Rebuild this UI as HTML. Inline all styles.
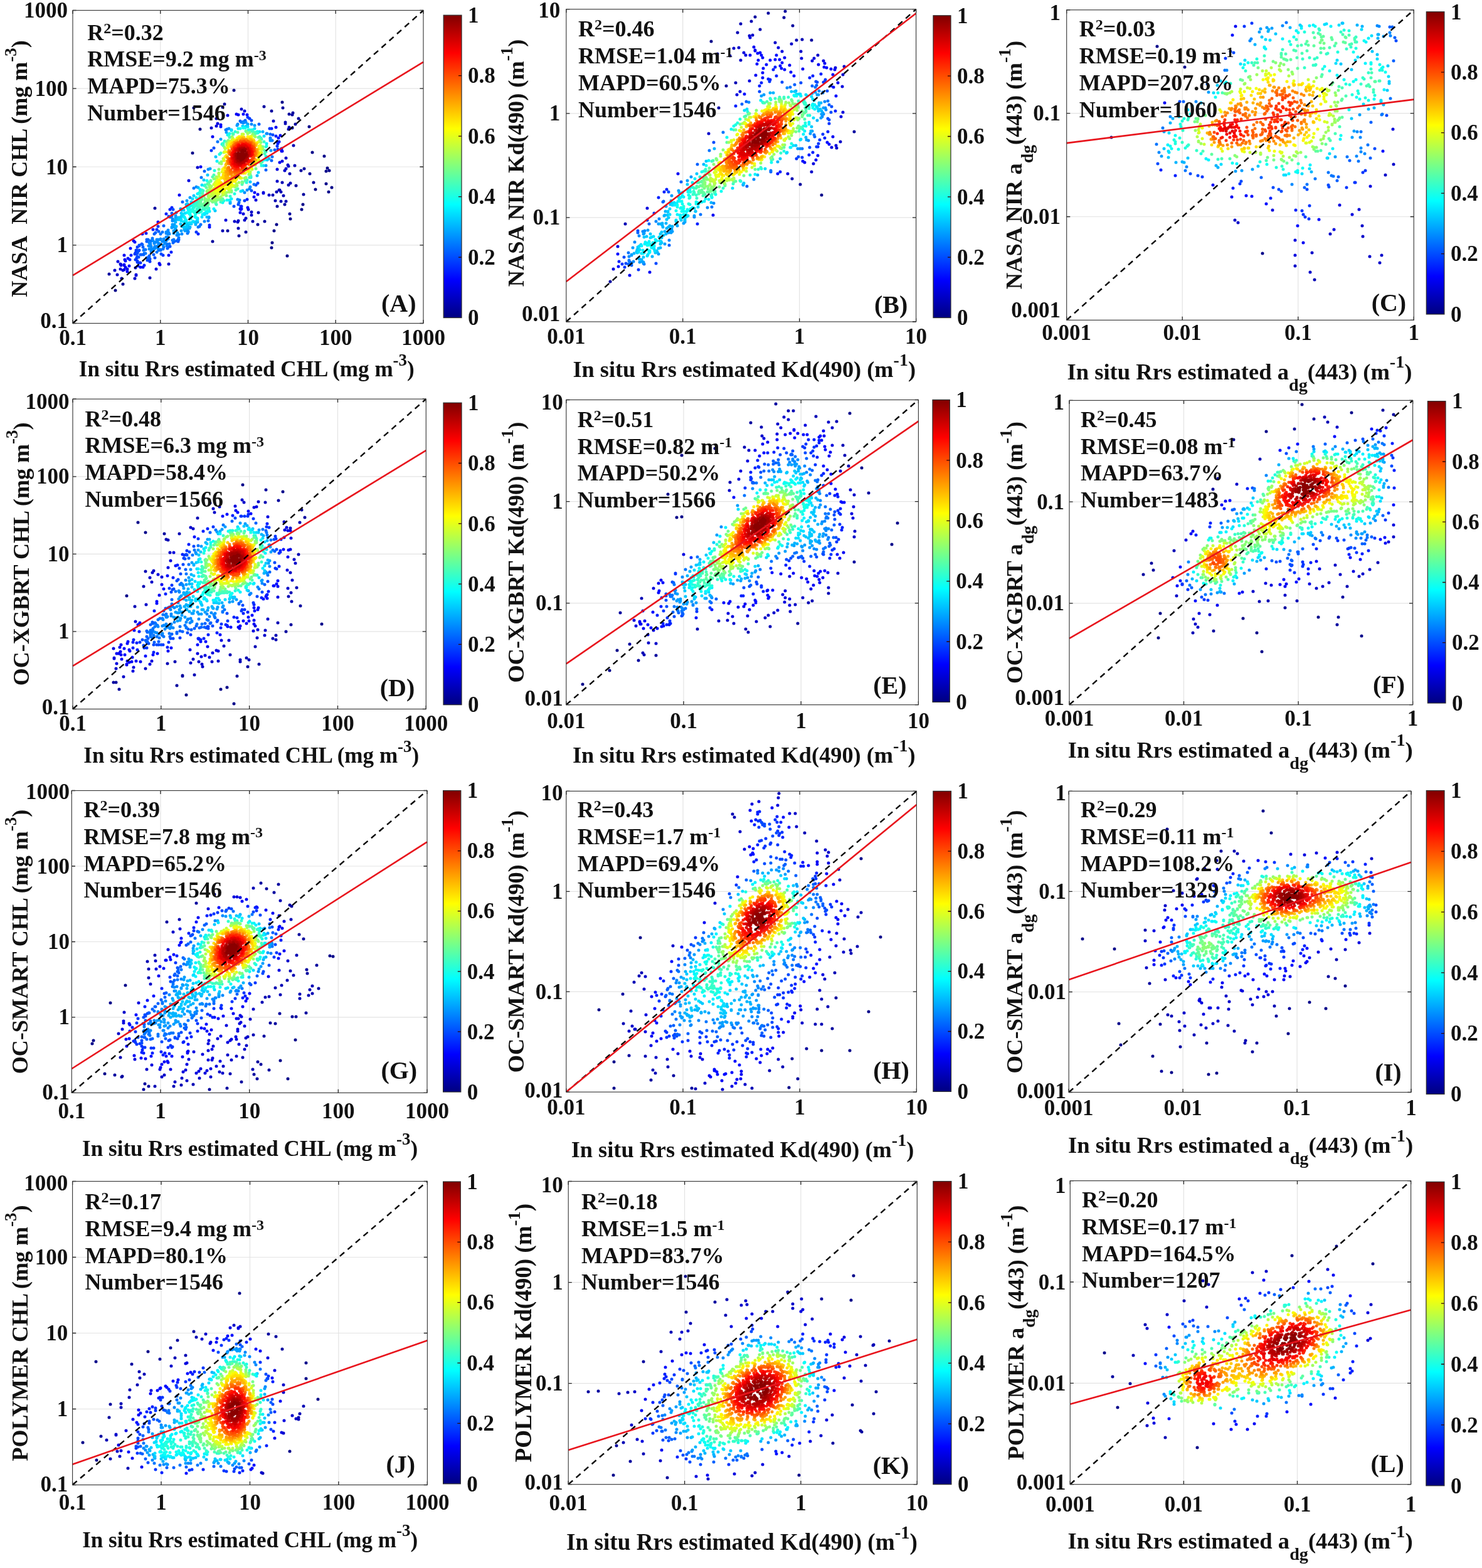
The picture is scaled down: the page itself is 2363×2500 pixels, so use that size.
<!DOCTYPE html><html><head><meta charset="utf-8"><title>Figure</title><style>html,body{margin:0;padding:0;background:#fff;overflow:hidden}svg{display:block}</style></head><body>
<svg width="2363" height="2500" viewBox="0 0 2363 2500" font-family="'Liberation Serif','Times New Roman',serif" font-weight="bold" fill="#111">
<defs><linearGradient id="jet" x1="0" y1="1" x2="0" y2="0"><stop offset="0" stop-color="#000080"/><stop offset="0.125" stop-color="#0000ff"/><stop offset="0.375" stop-color="#00ffff"/><stop offset="0.625" stop-color="#ffff00"/><stop offset="0.875" stop-color="#ff0000"/><stop offset="1" stop-color="#800000"/></linearGradient></defs>
<rect width="2363" height="2500" fill="#fff"/>
<g id="pA">
<path d="M255.8 16.5V515.5M116.0 390.8H675.0M395.5 16.5V515.5M116.0 266.0H675.0M535.2 16.5V515.5M116.0 141.2H675.0" stroke="#e3e3e3" stroke-width="1.2" fill="none"/>
<g fill="none" stroke-width="5.0" stroke-linecap="round"><path stroke="#00008a" d="M309 172h0M458 408h0M373 144h0M433 395h0M434 387h0M517 249h0M498 243h0M493 202h0M524 306h0M529 299h0M307 244h0M437 368h0M184 463h0M481 334h0M463 349h0M450 163h0M525 272h0M522 268h0M441 358h0M483 326h0M503 302h0M520 273h0M520 293h0M319 206h0"/><path stroke="#00009f" d="M462 341h0M484 310h0M500 291h0M494 277h0M381 376h0M358 166h0M339 385h0M451 172h0M485 269h0M422 353h0M476 189h0M421 170h0M467 180h0M392 370h0M355 171h0M480 272h0M466 183h0M411 358h0M174 437h0M472 296h0M461 182h0M433 177h0M363 368h0M471 198h0M454 326h0M196 453h0M247 332h0M442 329h0"/><path stroke="#0000b5" d="M456 321h0M355 368h0M468 232h0M239 443h0M470 264h0M463 292h0M380 364h0M466 204h0M448 321h0M460 295h0M403 353h0M439 320h0M452 312h0M462 277h0M412 339h0M461 203h0M448 306h0M345 189h0M455 195h0M450 291h0M446 303h0M445 303h0M441 306h0M460 206h0M435 311h0M455 197h0M194 444h0"/><path stroke="#0000ca" d="M460 265h0M183 431h0M459 263h0M187 438h0M456 269h0M442 289h0M429 311h0M454 272h0M379 354h0M269 421h0M215 444h0M337 204h0M401 343h0M390 351h0M374 353h0M380 352h0M385 174h0M392 348h0M401 338h0M456 252h0M436 193h0M315 267h0"/><path stroke="#0000df" d="M188 417h0M249 429h0M217 439h0M420 307h0M420 308h0M363 184h0M217 438h0M192 429h0M347 197h0M390 177h0M345 201h0M192 421h0M301 288h0M450 257h0M196 431h0M193 423h0M388 341h0M360 351h0M408 319h0M193 422h0M396 334h0M442 270h0M198 430h0"/><path stroke="#0000f4" d="M203 433h0M255 422h0M440 203h0M320 266h0M395 331h0M377 182h0M411 310h0M198 407h0M198 423h0M213 384h0M446 259h0M203 429h0M383 339h0M447 216h0M198 422h0M200 426h0M450 241h0M352 199h0M254 420h0M339 218h0M380 183h0M199 414h0M449 241h0M286 311h0M449 237h0"/><path stroke="#000bff" d="M388 182h0M200 416h0M405 314h0M448 238h0M384 334h0M227 373h0M385 333h0M394 183h0M206 424h0M215 386h0M208 396h0M216 427h0M252 354h0M228 426h0M204 412h0M224 426h0M269 407h0M334 362h0M352 202h0M383 333h0M444 220h0M406 307h0M445 226h0"/><path stroke="#0020ff" d="M220 424h0M433 205h0M230 423h0M273 402h0M207 414h0M233 372h0M385 329h0M316 373h0M334 359h0M265 341h0M384 329h0M209 407h0M440 217h0M394 318h0M443 229h0M271 334h0M274 331h0M244 366h0M442 226h0"/><path stroke="#0035ff" d="M430 205h0M443 238h0M337 240h0M395 187h0M221 419h0M223 419h0M224 419h0M252 361h0M219 418h0M239 417h0M216 414h0M442 233h0M390 320h0M260 407h0M219 416h0M398 189h0M216 403h0M215 405h0M219 394h0M217 399h0M313 370h0M216 405h0M250 366h0M218 411h0M218 399h0"/><path stroke="#004aff" d="M435 215h0M411 292h0M235 415h0M222 392h0M380 326h0M222 391h0M219 409h0M276 334h0M401 304h0M219 404h0M408 295h0M247 411h0M221 410h0M239 413h0M226 389h0M220 401h0M257 405h0M269 345h0M284 385h0M401 192h0M221 400h0M373 329h0M222 399h0M284 384h0M271 393h0M341 236h0"/><path stroke="#0060ff" d="M234 411h0M238 411h0M381 323h0M326 273h0M234 382h0M224 406h0M261 360h0M248 371h0M246 373h0M227 390h0M237 410h0M274 340h0M438 239h0M285 382h0M391 192h0M285 382h0M226 406h0M267 396h0M282 384h0M253 369h0M431 214h0M284 382h0M236 382h0M413 198h0M271 346h0M271 346h0M433 256h0M234 385h0M268 394h0M238 408h0M383 193h0M278 385h0M229 406h0M276 387h0M228 394h0M245 406h0M424 271h0M291 322h0M230 404h0"/><path stroke="#0075ff" d="M232 404h0M273 345h0M229 399h0M270 389h0M274 344h0M285 379h0M318 361h0M332 352h0M405 294h0M260 397h0M382 319h0M230 398h0M266 392h0M256 399h0M316 362h0M309 300h0M321 283h0M277 382h0M243 380h0M259 370h0M232 398h0M434 250h0M250 402h0M299 372h0M388 194h0M434 224h0M275 383h0M259 370h0M347 226h0M239 384h0M398 301h0M362 206h0M385 195h0M256 398h0M256 373h0M243 382h0M261 394h0M253 399h0M300 370h0M360 207h0M238 387h0M431 220h0M320 358h0M240 385h0M266 389h0M241 401h0"/><path stroke="#008aff" d="M239 388h0M243 400h0M300 369h0M332 270h0M392 195h0M432 224h0M242 399h0M237 392h0M238 397h0M244 384h0M265 370h0M263 388h0M240 389h0M260 391h0M426 213h0M275 349h0M300 369h0M290 373h0M282 375h0M245 398h0M265 372h0M285 374h0M268 367h0M394 303h0M265 384h0M252 396h0M242 397h0M281 339h0M399 298h0M268 381h0M388 196h0M265 384h0M326 353h0M431 222h0M241 393h0M365 205h0M250 382h0M333 347h0M379 318h0M250 383h0M250 383h0M247 396h0M267 378h0M252 382h0M262 385h0M268 373h0M313 298h0M246 395h0M247 395h0M265 378h0M379 198h0M256 381h0M269 371h0M275 352h0M390 307h0M261 381h0M248 386h0M246 388h0M270 373h0M299 368h0M249 393h0M247 393h0M431 224h0M259 385h0M255 382h0M425 213h0M252 392h0M254 390h0M251 385h0M251 385h0M255 389h0M250 386h0M401 198h0M253 390h0M253 388h0"/><path stroke="#009fff" d="M277 372h0M406 200h0M283 371h0M295 368h0M274 362h0M274 363h0M275 358h0M288 333h0M335 269h0M280 344h0M298 320h0M378 200h0M333 346h0M277 368h0M280 347h0M352 222h0M303 315h0M279 367h0M289 368h0M302 364h0M278 352h0M301 364h0M367 324h0M278 362h0M361 211h0M424 264h0M280 349h0M278 358h0M280 365h0M294 366h0M298 365h0M395 198h0M278 359h0M432 240h0"/><path stroke="#00b5ff" d="M303 362h0M312 358h0M330 346h0M429 253h0M312 357h0M280 361h0M419 210h0M290 335h0M281 361h0M280 354h0M300 363h0M294 364h0M315 354h0M281 350h0M296 364h0M297 326h0M367 322h0M410 280h0M316 299h0M300 361h0M284 347h0M293 362h0M284 350h0"/><path stroke="#00caff" d="M344 250h0M293 362h0M387 304h0M299 325h0M298 361h0M343 336h0M294 362h0M285 349h0M290 361h0M286 347h0M325 287h0M289 340h0M331 279h0M426 255h0M286 350h0M369 207h0M293 335h0M305 357h0M309 312h0M314 352h0M387 201h0M287 349h0M287 349h0M399 290h0M393 201h0M288 357h0M288 347h0M310 354h0M301 357h0M289 345h0M298 357h0M291 342h0M298 329h0"/><path stroke="#00dfff" d="M291 341h0M295 357h0M289 352h0M289 350h0M305 355h0M315 350h0M302 355h0M395 202h0M384 305h0M322 346h0M420 264h0M308 353h0M291 345h0M369 208h0M296 355h0M293 354h0M307 317h0M414 210h0M412 275h0M299 331h0M389 202h0M297 354h0M406 205h0M294 353h0M322 295h0M421 217h0M330 340h0M305 322h0M326 342h0M315 348h0M293 345h0M295 340h0"/><path stroke="#00f4ff" d="M297 351h0M294 346h0M295 348h0M369 317h0M366 319h0M301 331h0M334 337h0M303 328h0M298 339h0M313 347h0M300 334h0M363 215h0M341 333h0M304 349h0M302 330h0M319 302h0M323 342h0M425 229h0M303 348h0M315 309h0M346 257h0M326 340h0M311 346h0M411 210h0M380 205h0M329 338h0"/><path stroke="#0bfff4" d="M302 333h0M301 338h0M410 210h0M383 205h0M388 204h0M304 344h0M303 335h0M311 344h0M333 335h0M302 341h0M330 337h0M391 204h0M366 213h0M354 230h0M306 328h0M303 339h0M303 340h0M422 255h0M313 315h0M362 319h0M317 308h0M330 288h0M355 323h0M402 207h0M318 308h0M309 324h0M312 341h0"/><path stroke="#20ffdf" d="M417 264h0M425 233h0M319 306h0M424 249h0M308 329h0M411 212h0M307 337h0M307 333h0M311 322h0M365 216h0M317 339h0M393 291h0M308 336h0M332 334h0M424 234h0M310 339h0M326 296h0M308 335h0M322 303h0M309 331h0M342 272h0M355 229h0M319 338h0M311 337h0M310 329h0M333 332h0M374 309h0M398 207h0M358 225h0M311 327h0M312 322h0M312 324h0M321 337h0M319 308h0M350 246h0M409 212h0M375 210h0M357 320h0M400 283h0M396 207h0"/><path stroke="#35ffca" d="M424 242h0M320 336h0M327 295h0M314 336h0M311 328h0M356 229h0M314 322h0M312 325h0M403 209h0M421 226h0M314 335h0M345 326h0M314 333h0M326 334h0M331 332h0M398 283h0M352 322h0M367 313h0M313 328h0M316 334h0M400 281h0M319 334h0M328 332h0M318 334h0M319 313h0M324 333h0M318 334h0M399 282h0M407 211h0M316 321h0M318 316h0M394 287h0M352 244h0M371 213h0M328 332h0M416 220h0M418 258h0M401 209h0M315 326h0M414 218h0M324 304h0M317 331h0"/><path stroke="#4affb5" d="M356 232h0M331 330h0M331 293h0M416 260h0M386 294h0M417 222h0M422 240h0M317 326h0M329 330h0M317 327h0M318 327h0M339 282h0M344 324h0M379 301h0M318 320h0M328 330h0M416 260h0M320 329h0M406 212h0M323 308h0M324 330h0M318 324h0M404 211h0M333 291h0M328 329h0M422 245h0M376 303h0M341 279h0M416 260h0M336 288h0M407 213h0M366 219h0M391 288h0M372 214h0M354 319h0M321 316h0"/><path stroke="#60ff9f" d="M321 326h0M320 324h0M320 322h0M330 327h0M379 211h0M332 294h0M321 318h0M324 327h0M323 311h0M355 317h0M329 299h0M329 327h0M392 209h0M324 326h0M344 322h0M361 226h0M350 260h0M332 326h0M322 318h0M355 317h0M352 318h0M387 291h0M326 325h0M399 278h0M336 289h0M412 219h0"/><path stroke="#75ff8a" d="M326 324h0M386 291h0M393 210h0M332 324h0M408 269h0M369 306h0M349 318h0M343 321h0M325 313h0M346 319h0M361 312h0M415 258h0M339 322h0M334 295h0M332 323h0M327 320h0M419 234h0M332 322h0M386 290h0M364 224h0M327 320h0M327 317h0M398 211h0M330 321h0"/><path stroke="#8aff75" d="M343 319h0M419 238h0M330 320h0M370 218h0M331 320h0M347 318h0M338 320h0M403 214h0M329 318h0M349 270h0M341 285h0M337 320h0M346 317h0M330 305h0M345 318h0M331 304h0M366 306h0M369 304h0M353 258h0M339 319h0M338 319h0M349 316h0M416 227h0M332 303h0M342 285h0M375 298h0M398 277h0M333 318h0M358 235h0M406 217h0M334 298h0"/><path stroke="#9fff60" d="M378 296h0M414 224h0M331 309h0M392 283h0M341 318h0M332 304h0M418 237h0M395 213h0M345 282h0M352 314h0M397 278h0M332 313h0M333 304h0M365 306h0M333 315h0M362 229h0M340 317h0M332 309h0M390 284h0M407 218h0M366 304h0M349 276h0M381 291h0M336 298h0M358 310h0M337 297h0M344 315h0M334 304h0M353 261h0M335 302h0M361 307h0"/><path stroke="#b5ff4a" d="M355 311h0M365 226h0M335 313h0M347 314h0M357 243h0M349 277h0M336 313h0M377 294h0M359 237h0M335 303h0M335 306h0M417 243h0M371 220h0M335 305h0M373 297h0M358 308h0M347 313h0M386 214h0M340 313h0M342 313h0M362 231h0M358 308h0M346 284h0M413 226h0M337 311h0M377 293h0M365 303h0M417 238h0M399 274h0M373 297h0M339 312h0M339 312h0M413 256h0M338 310h0M415 232h0M356 253h0M364 228h0M340 312h0"/><path stroke="#caff35" d="M373 296h0M337 308h0M338 309h0M337 303h0M402 270h0M415 232h0M401 217h0M337 305h0M358 242h0M341 294h0M388 214h0M355 308h0M358 242h0M349 281h0M371 297h0M356 308h0M366 301h0M343 291h0M345 311h0M416 244h0M370 223h0M416 236h0M346 310h0M339 306h0M342 294h0M368 299h0M349 281h0M349 309h0M407 263h0M345 289h0M368 225h0M340 305h0M342 308h0M340 305h0M340 302h0M366 228h0"/><path stroke="#dfff20" d="M412 254h0M340 302h0M385 284h0M364 301h0M341 302h0M356 306h0M343 307h0M341 304h0M346 308h0M370 224h0M411 257h0M411 227h0M342 306h0M347 287h0M357 255h0M345 291h0M359 242h0M415 238h0M344 293h0M357 256h0M342 300h0M349 307h0M356 304h0M348 287h0M411 255h0M347 289h0M366 298h0M350 306h0M343 302h0M414 246h0M354 274h0M383 284h0"/><path stroke="#f4ff0b" d="M344 297h0M347 290h0M381 218h0M345 295h0M355 304h0M370 295h0M354 304h0M358 303h0M345 304h0M355 270h0M345 303h0M349 287h0M365 232h0M411 255h0M345 296h0M354 304h0M366 297h0M413 233h0M366 297h0M353 304h0M350 304h0M345 298h0M365 298h0M348 289h0M347 303h0M413 233h0M401 219h0M366 229h0M347 293h0M360 242h0M413 234h0M351 303h0M408 260h0M348 303h0M347 303h0M361 300h0M347 295h0M398 218h0M349 289h0M363 235h0M363 236h0M382 218h0M412 250h0M396 273h0M352 284h0M348 294h0M414 243h0M413 248h0M349 302h0M350 289h0M352 302h0M378 220h0M357 268h0M356 301h0M369 293h0"/><path stroke="#fff400" d="M401 268h0M356 301h0M348 297h0M369 227h0M348 299h0M375 289h0M399 219h0M395 273h0M395 218h0M350 292h0M349 296h0M359 250h0M356 299h0M374 223h0M365 295h0M353 300h0M385 218h0M406 261h0M381 219h0M353 284h0M364 235h0M373 289h0M383 219h0M351 291h0M369 291h0M351 291h0M374 288h0M366 232h0M377 286h0M352 297h0M357 271h0M367 292h0M352 291h0M352 293h0M404 223h0M409 228h0M366 293h0M354 283h0M355 283h0M391 276h0"/><path stroke="#ffdf00" d="M412 246h0M411 249h0M382 282h0M354 297h0M405 262h0M368 291h0M384 219h0M354 296h0M356 279h0M360 295h0M356 296h0M387 219h0M353 292h0M404 223h0M355 283h0M368 230h0M409 229h0M361 294h0M380 221h0M363 293h0M403 223h0M401 265h0M381 282h0M357 276h0M360 294h0M363 293h0M359 294h0M365 291h0M384 220h0M380 282h0M412 244h0M397 269h0M368 290h0M370 288h0M364 291h0M361 248h0M400 222h0M357 280h0M369 230h0M357 282h0M398 221h0"/><path stroke="#ffca00" d="M405 225h0M411 243h0M408 255h0M359 267h0M366 289h0M389 219h0M364 290h0M359 290h0M380 281h0M363 290h0M382 221h0M358 285h0M359 289h0M388 276h0M404 261h0M366 289h0M411 238h0M367 288h0M360 289h0M362 289h0M408 230h0M363 288h0M398 222h0M405 259h0M360 263h0M359 286h0M371 228h0M365 287h0M363 288h0M368 286h0M373 227h0M368 286h0M370 285h0"/><path stroke="#ffb500" d="M360 280h0M360 275h0M401 224h0M361 284h0M360 273h0M363 286h0M400 223h0M362 251h0M364 286h0M361 278h0M374 283h0M364 285h0M386 221h0M372 284h0M395 269h0M378 224h0M363 284h0M361 276h0M407 255h0M408 232h0M410 240h0M361 278h0M385 276h0M361 261h0M409 248h0M363 282h0M364 243h0M362 257h0M365 241h0M367 284h0M377 225h0M363 282h0M409 239h0M363 280h0M363 281h0M393 222h0M362 270h0"/><path stroke="#ff9f00" d="M374 227h0M362 274h0M409 244h0M405 229h0M363 251h0M365 240h0M370 282h0M377 280h0M409 241h0M379 278h0M405 229h0M364 278h0M409 239h0M363 269h0M374 280h0M373 280h0M402 226h0M387 222h0M393 223h0M371 280h0M375 228h0M385 274h0M364 274h0M403 228h0M369 234h0"/><path stroke="#ff8a00" d="M403 229h0M364 271h0M404 257h0M378 277h0M364 269h0M368 278h0M366 241h0M368 278h0M389 223h0M393 268h0M392 223h0M367 276h0M364 255h0M364 253h0M372 232h0M384 224h0M404 230h0M364 260h0M364 257h0M382 275h0M398 263h0M364 258h0M364 259h0M401 227h0M364 267h0M367 276h0M391 223h0M393 224h0M364 259h0M393 268h0M385 273h0"/><path stroke="#ff7500" d="M377 276h0M405 232h0M367 273h0M368 275h0M407 244h0M406 248h0M402 257h0M364 257h0M395 225h0M375 276h0M373 231h0M367 273h0M381 274h0M405 252h0M407 246h0M366 243h0M365 261h0M401 258h0M406 236h0M379 227h0M392 267h0M365 267h0M383 225h0M366 246h0M397 226h0M387 271h0M369 274h0M400 228h0M367 244h0M371 275h0M387 225h0M370 236h0M377 275h0M406 240h0M365 257h0M406 242h0"/><path stroke="#ff6000" d="M400 228h0M376 229h0M399 228h0M395 226h0M368 271h0M384 226h0M378 274h0M400 229h0M390 225h0M404 235h0M406 241h0M381 273h0M389 269h0M405 236h0M387 226h0M384 271h0M378 273h0M374 273h0"/><path stroke="#ff4a00" d="M366 254h0M370 238h0M378 272h0M382 271h0M403 252h0M379 229h0M368 243h0M398 229h0M403 234h0M374 272h0M403 251h0M402 254h0M404 249h0M373 234h0M398 229h0M383 227h0M367 258h0M400 257h0M404 239h0M389 226h0M398 229h0M404 236h0M402 233h0M378 271h0M397 229h0M403 249h0M403 237h0M389 266h0M404 240h0M369 244h0M404 248h0M368 261h0M377 232h0M386 227h0M367 253h0M401 255h0"/><path stroke="#ff3500" d="M371 268h0M386 268h0M399 231h0M404 241h0M395 261h0M399 256h0M401 234h0M371 267h0M403 239h0M369 246h0M368 258h0M379 231h0M379 270h0M376 270h0M369 263h0M375 269h0M371 266h0M402 237h0M373 237h0M387 267h0M387 267h0M375 269h0M370 264h0M376 233h0M392 228h0M378 232h0M368 257h0"/><path stroke="#ff2000" d="M374 236h0M377 269h0M369 247h0M403 246h0M369 253h0M370 262h0M386 229h0M369 258h0M397 258h0M398 232h0M395 230h0M386 266h0M397 257h0M392 229h0M380 268h0M379 232h0M392 262h0M401 247h0M372 241h0M401 237h0"/><path stroke="#ff0b00" d="M402 243h0M371 244h0M372 243h0M401 247h0M381 231h0M402 242h0M398 233h0M377 266h0M401 241h0M370 250h0M374 265h0M396 257h0M371 261h0M400 238h0M371 260h0M393 231h0M387 264h0M390 263h0M388 230h0M395 232h0M385 265h0M380 233h0M372 244h0M386 264h0M388 230h0M371 250h0M374 240h0M396 256h0M375 238h0"/><path stroke="#f40000" d="M400 247h0M371 252h0M390 231h0M388 231h0M377 237h0M400 241h0M372 247h0M373 261h0M375 263h0M399 249h0M371 253h0M399 249h0M379 265h0M400 242h0M376 238h0M376 263h0M382 264h0M382 264h0M382 233h0M380 264h0M378 264h0M385 232h0M393 233h0M381 234h0M372 256h0M398 237h0M398 239h0M397 236h0M389 261h0M374 242h0M374 242h0"/><path stroke="#df0000" d="M384 263h0M391 233h0M386 233h0M376 240h0M372 252h0M375 260h0M380 236h0M375 260h0M398 241h0M398 246h0M398 247h0M380 236h0M378 262h0M387 233h0M398 244h0M383 234h0M394 235h0M398 241h0M392 257h0M373 253h0M376 260h0M374 246h0M373 253h0M379 261h0M393 256h0"/><path stroke="#ca0000" d="M395 253h0M381 262h0M381 262h0M374 247h0M374 247h0M393 256h0M395 237h0M375 257h0M374 251h0M389 259h0M383 261h0M397 246h0M385 260h0M396 240h0M397 243h0M379 238h0M375 254h0M384 236h0M375 252h0M380 238h0M389 258h0M379 259h0M378 240h0M391 256h0M375 251h0M394 238h0M396 241h0M392 255h0"/><path stroke="#b50000" d="M376 245h0M386 259h0M386 259h0M389 257h0M382 237h0M378 258h0M395 249h0M390 256h0M376 250h0M382 238h0M384 259h0M386 258h0M385 258h0M382 259h0M386 236h0M382 259h0M391 255h0M380 258h0M382 238h0M389 236h0M376 249h0M382 259h0M384 258h0M379 257h0M391 254h0M389 237h0M384 237h0M394 249h0M383 238h0M384 258h0M377 254h0M390 255h0M391 238h0M381 257h0M381 240h0M388 256h0M381 257h0M386 257h0M377 250h0M381 240h0M377 251h0M391 253h0"/><path stroke="#9f0000" d="M391 238h0M380 256h0M394 247h0M383 239h0M377 248h0M389 238h0M393 250h0M383 257h0M391 239h0M378 245h0M378 248h0M393 248h0M378 253h0M387 255h0M390 239h0M391 239h0M378 250h0M392 250h0M393 243h0M385 239h0M393 246h0M392 249h0M380 254h0M392 250h0M393 246h0M393 247h0M393 243h0M379 250h0M386 239h0M392 247h0M384 240h0M389 252h0M380 244h0"/><path stroke="#8a0000" d="M384 255h0M392 246h0M385 254h0M387 240h0M390 241h0M380 245h0M380 252h0M387 253h0M381 252h0M391 247h0M391 248h0M380 247h0M389 251h0M388 252h0M381 245h0M380 249h0M388 241h0M382 251h0M386 242h0M381 249h0M385 242h0M381 250h0M383 252h0M388 242h0M386 242h0M389 249h0M385 242h0M382 247h0M390 247h0M382 247h0M383 251h0M389 249h0M383 246h0M389 248h0M388 244h0M385 251h0M384 250h0M384 245h0M384 250h0M386 248h0M385 248h0M385 244h0M389 246h0M385 248h0M385 250h0M387 246h0"/></g>
<line x1="116.0" y1="515.5" x2="675.0" y2="16.5" stroke="#000" stroke-width="2.4" stroke-dasharray="9.3 7.2"/>
<line x1="116.0" y1="439.2" x2="675.0" y2="98.9" stroke="#e8141c" stroke-width="2.6"/>
<path d="M116.0 515.5v-5.6M116.0 16.5v5.6M116.0 515.5h5.6M675.0 515.5h-5.6M255.8 515.5v-5.6M255.8 16.5v5.6M116.0 390.8h5.6M675.0 390.8h-5.6M395.5 515.5v-5.6M395.5 16.5v5.6M116.0 266.0h5.6M675.0 266.0h-5.6M535.2 515.5v-5.6M535.2 16.5v5.6M116.0 141.2h5.6M675.0 141.2h-5.6M675.0 515.5v-5.6M675.0 16.5v5.6M116.0 16.5h5.6M675.0 16.5h-5.6" stroke="#262626" stroke-width="1.3" fill="none"/>
<rect x="116.0" y="16.5" width="559.0" height="499.0" fill="none" stroke="#3a3a3a" stroke-width="1.15"/>
<g font-size="35"><text x="116.0" y="550.1" text-anchor="middle">0.1</text><text x="108.0" y="522.5" text-anchor="end">0.1</text><text x="255.8" y="550.1" text-anchor="middle">1</text><text x="108.0" y="402.2" text-anchor="end">1</text><text x="395.5" y="550.1" text-anchor="middle">10</text><text x="108.0" y="277.5" text-anchor="end">10</text><text x="535.2" y="550.1" text-anchor="middle">100</text><text x="108.0" y="152.8" text-anchor="end">100</text><text x="675.0" y="550.1" text-anchor="middle">1000</text><text x="108.0" y="28.3" text-anchor="end">1000</text></g>
<g font-size="36">
<text x="139.3" y="63.5">R<tspan font-size="24" dy="-11">2</tspan><tspan dy="11">=0.32</tspan></text>
<text x="139.3" y="106.2">RMSE=9.2 mg m<tspan font-size="24" dy="-10.5">-3</tspan></text>
<text x="139.3" y="148.9">MAPD=75.3%</text>
<text x="139.3" y="191.6">Number=1546</text>
</g>
<text x="663.5" y="496.8" font-size="40" text-anchor="end">(A)</text>
<text x="393.3" y="600.4" font-size="35.10" text-anchor="middle"><tspan>In situ Rrs estimated CHL (mg m</tspan><tspan font-size="27.0" dy="-17.6">-3</tspan><tspan dy="17.6">)</tspan></text>
<text transform="translate(43.2 269.0) rotate(-90)" font-size="36.00" text-anchor="middle"><tspan>NASA  NIR CHL (mg m</tspan><tspan font-size="27.0" dy="-17.6">-3</tspan><tspan dy="17.6">)</tspan></text>
<rect x="707.2" y="24.2" width="28.8" height="482.4" fill="url(#jet)" stroke="#2a2a2a" stroke-width="1.2"/>
<path d="M736.0 410.1h-5M736.0 313.6h-5M736.0 217.2h-5M736.0 120.7h-5" stroke="#300" stroke-width="1.3"/>
<g font-size="35"><text x="746.0" y="518.3">0</text><text x="746.0" y="421.8">0.2</text><text x="746.0" y="325.3">0.4</text><text x="746.0" y="228.9">0.6</text><text x="746.0" y="132.4">0.8</text><text x="746.0" y="35.9">1</text></g>
</g>
<g id="pB">
<path d="M1088.7 14.7V513.0M902.8 346.9H1460.6M1274.7 14.7V513.0M902.8 180.8H1460.6" stroke="#e3e3e3" stroke-width="1.2" fill="none"/>
<g fill="none" stroke-width="5.0" stroke-linecap="round"><path stroke="#00008a" d="M1310 311h0M1134 66h0"/><path stroke="#00009f" d="M1362 210h0M1252 18h0M1144 86h0M1225 21h0M1250 28h0M973 449h0M1276 294h0M1264 41h0M1158 137h0M1146 172h0M1204 27h0M1294 64h0"/><path stroke="#0000b5" d="M1181 38h0M1198 34h0M1279 63h0M997 357h0M1164 89h0M1176 52h0M1173 132h0M1270 64h0M1212 47h0M1263 285h0"/><path stroke="#0000ca" d="M1346 106h0M1294 274h0M1170 77h0M1262 70h0M1130 213h0M1277 82h0M1236 68h0M1340 226h0M1181 96h0M1200 56h0M1304 88h0M1178 76h0M1334 236h0M1344 119h0M1195 57h0"/><path stroke="#0000df" d="M1278 93h0M1343 138h0M1196 60h0M978 429h0M1344 179h0M1333 232h0M1298 93h0M1256 277h0M1195 129h0M1241 76h0M1297 261h0M1032 332h0M1295 97h0M1180 146h0M1186 84h0M1175 151h0M1341 186h0M1332 108h0M1313 97h0M1189 88h0M1247 82h0M985 393h0M1326 235h0"/><path stroke="#0000f4" d="M1081 277h0M1331 111h0M1280 110h0M1301 255h0M1202 75h0M1315 101h0M1205 120h0M1336 132h0M1196 88h0M1305 103h0M1251 92h0M1204 80h0M1328 218h0M1259 104h0M1325 110h0M1204 81h0M1004 439h0M1283 259h0M1137 343h0M1036 434h0"/><path stroke="#000bff" d="M1304 248h0M1322 230h0M1238 88h0M1212 84h0M1207 102h0M1208 85h0M1314 107h0M1318 108h0M1187 150h0M1328 119h0M1261 115h0M986 425h0M1209 96h0M1214 88h0M1243 95h0M1247 100h0M985 405h0M1216 92h0M1319 227h0M1251 111h0M1216 116h0M1280 257h0M1236 95h0M1217 109h0M1240 277h0M1246 109h0M1216 124h0M1333 153h0M1228 96h0M1244 105h0M1266 121h0M1222 103h0M1329 139h0"/><path stroke="#0020ff" d="M1244 274h0M1236 107h0M1233 111h0M987 417h0M1050 315h0M1214 132h0M1320 210h0M1309 118h0M1296 121h0M1238 121h0M1225 126h0M1211 137h0M1325 137h0M1296 243h0M1290 247h0M1332 177h0M1315 220h0M1228 127h0M1291 124h0M1112 357h0M1063 302h0M1173 169h0M1173 169h0M1059 306h0M1304 234h0"/><path stroke="#0035ff" d="M1279 251h0M996 426h0M1227 130h0M1316 127h0M992 421h0M1302 234h0M1322 197h0M1032 351h0M1315 130h0M1305 229h0M1270 253h0M1307 223h0M1312 214h0M1043 340h0M1313 131h0M1018 430h0"/><path stroke="#004aff" d="M1322 191h0M1247 131h0M1046 420h0M1273 250h0M1301 130h0M1303 131h0M1277 132h0M1325 179h0M1066 306h0M1326 170h0M1319 145h0M1017 368h0M1138 227h0M1291 235h0M995 410h0M1320 189h0M998 420h0M1211 146h0"/><path stroke="#0060ff" d="M1183 166h0M1002 421h0M1302 136h0M1035 357h0M1086 290h0M1067 391h0M1229 274h0M1190 162h0M1267 135h0M1191 297h0M1003 421h0M1007 423h0M1017 371h0M1112 262h0M1057 322h0M1295 137h0M1058 321h0M1299 218h0M1322 167h0"/><path stroke="#0075ff" d="M1131 240h0M1135 330h0M1300 139h0M1320 161h0M1279 237h0M1117 342h0M1312 147h0M1007 420h0M1003 416h0M1312 148h0M1005 418h0M1003 415h0M1298 215h0M1229 272h0M1153 211h0M1002 403h0M1260 139h0M1027 421h0"/><path stroke="#008aff" d="M1306 145h0M1046 353h0M1194 163h0M1067 383h0M1026 369h0M1003 409h0M1276 237h0M1255 140h0M1025 369h0M1051 349h0M1289 224h0M1317 175h0M1028 368h0M1128 331h0M1026 420h0M1010 417h0M1012 386h0M1019 376h0M1138 324h0M1315 162h0M1202 286h0M1313 182h0M1107 346h0M1316 172h0M1311 186h0"/><path stroke="#009fff" d="M1309 188h0M1033 367h0M1026 418h0M1070 371h0M1300 147h0M1272 237h0M1050 405h0M1071 312h0M1295 209h0M1096 288h0M1007 407h0M1072 369h0M1286 223h0M1071 369h0M1007 406h0M1020 418h0M1050 357h0M1305 151h0M1107 344h0M1026 373h0M1009 395h0M1060 389h0M1102 282h0M1027 372h0M1070 368h0M1024 417h0M1214 153h0M1292 213h0M1062 329h0M1218 151h0M1312 180h0M1082 304h0M1185 295h0M1090 356h0M1313 172h0M1310 182h0M1303 151h0M1080 360h0M1066 371h0M1092 354h0M1071 365h0"/><path stroke="#00b5ff" d="M1053 357h0M1293 209h0M1139 237h0M1060 343h0M1303 192h0M1059 344h0M1185 294h0M1061 337h0M1056 356h0M1228 148h0M1310 177h0M1295 149h0M1011 404h0M1023 414h0M1092 352h0M1056 359h0M1072 361h0M1056 359h0M1309 164h0M1053 395h0M1062 373h0M1134 323h0M1070 320h0M1040 409h0M1285 219h0M1019 413h0M1269 145h0M1057 362h0M1063 364h0M1066 362h0M1079 357h0M1122 262h0M1060 369h0M1069 323h0M1233 148h0M1048 402h0M1240 258h0M1068 360h0M1083 307h0M1062 356h0M1208 279h0M1019 412h0M1109 337h0"/><path stroke="#00caff" d="M1058 375h0M1308 174h0M1063 350h0M1109 337h0M1092 350h0M1027 378h0M1294 202h0M1262 146h0M1045 403h0M1126 257h0M1064 343h0M1065 337h0M1267 146h0M1096 294h0M1055 370h0M1069 326h0M1065 338h0M1055 387h0M1306 164h0M1050 396h0M1306 166h0M1047 400h0M1037 373h0M1306 168h0M1186 292h0M1055 379h0M1053 389h0M1026 410h0M1053 373h0M1015 401h0M1054 385h0M1066 347h0M1071 324h0M1053 389h0M1269 232h0M1016 403h0M1078 353h0M1086 351h0M1016 398h0M1111 277h0M1031 377h0M1244 253h0M1017 394h0M1305 177h0M1017 398h0M1095 345h0"/><path stroke="#00dfff" d="M1068 333h0M1285 151h0M1294 154h0M1277 222h0M1088 307h0M1097 344h0M1094 346h0M1032 408h0M1168 300h0M1052 384h0M1044 400h0M1018 402h0M1052 384h0M1051 378h0M1276 223h0M1220 269h0M1068 342h0M1019 393h0M1078 351h0M1113 330h0M1187 176h0M1020 392h0M1304 173h0M1091 346h0M1073 325h0M1072 327h0M1033 406h0M1082 314h0M1085 348h0M1287 153h0M1254 244h0M1298 160h0M1075 323h0M1019 399h0M1296 158h0M1255 243h0M1042 377h0M1297 188h0M1276 150h0M1020 398h0M1274 150h0M1039 378h0M1073 327h0M1022 390h0M1191 174h0M1107 332h0M1092 344h0M1023 404h0M1302 170h0M1270 150h0M1043 397h0M1037 379h0M1265 232h0"/><path stroke="#00f4ff" d="M1047 384h0M1281 214h0M1025 404h0M1108 285h0M1085 346h0M1213 160h0M1045 382h0M1096 302h0M1094 342h0M1023 392h0M1035 403h0M1085 315h0M1204 278h0M1130 256h0M1027 403h0M1088 312h0M1083 317h0M1036 402h0M1290 198h0M1100 336h0M1283 209h0M1076 327h0M1104 291h0M1029 386h0M1036 400h0M1290 195h0M1043 393h0M1299 167h0M1077 326h0M1044 387h0M1261 235h0M1028 389h0M1079 324h0M1043 392h0M1090 342h0M1025 399h0M1166 206h0M1081 321h0M1084 343h0M1104 331h0M1036 400h0M1299 174h0M1123 321h0M1041 395h0M1114 325h0M1035 400h0M1277 153h0M1085 343h0M1085 343h0M1101 333h0M1035 385h0M1039 395h0M1119 322h0M1080 342h0M1260 235h0M1130 318h0M1041 387h0M1297 168h0M1135 315h0M1090 314h0M1041 390h0M1095 337h0M1296 166h0M1032 388h0"/><path stroke="#0bfff4" d="M1032 398h0M1084 321h0M1102 298h0M1110 325h0M1078 336h0M1038 392h0M1080 327h0M1097 306h0M1096 334h0M1036 389h0M1266 152h0M1032 391h0M1270 153h0M1170 201h0M1100 302h0M1285 201h0M1033 391h0M1126 264h0M1091 337h0M1112 323h0M1080 330h0M1295 168h0M1296 172h0M1159 219h0M1087 321h0M1119 274h0M1295 168h0M1087 337h0M1135 314h0M1267 153h0M1230 259h0M1150 305h0M1089 334h0M1141 310h0M1110 322h0M1085 332h0M1100 306h0M1125 317h0M1090 332h0M1284 200h0M1088 325h0M1100 326h0M1086 331h0M1098 311h0M1181 289h0"/><path stroke="#20ffdf" d="M1173 199h0M1214 269h0M1090 329h0M1098 325h0M1291 184h0M1101 306h0M1282 159h0M1228 157h0M1099 316h0M1105 299h0M1122 273h0M1100 313h0M1100 315h0M1280 206h0M1116 282h0M1262 229h0M1134 312h0M1250 241h0M1192 178h0M1282 161h0M1290 171h0M1284 196h0M1180 190h0M1176 196h0M1216 163h0M1140 308h0M1281 201h0M1196 279h0"/><path stroke="#35ffca" d="M1135 310h0M1125 270h0M1111 316h0M1290 173h0M1288 184h0M1107 300h0M1105 310h0M1281 162h0M1209 270h0M1284 164h0M1106 305h0M1284 165h0M1106 309h0M1250 155h0M1286 168h0M1243 155h0M1112 291h0M1217 164h0M1245 244h0M1169 293h0M1257 155h0M1153 300h0M1282 164h0M1107 307h0M1170 207h0M1213 267h0M1278 204h0M1180 288h0M1230 255h0M1229 159h0M1135 257h0M1283 166h0M1110 311h0M1236 157h0M1125 273h0"/><path stroke="#4affb5" d="M1110 300h0M1232 254h0M1283 190h0M1111 297h0M1121 312h0M1139 306h0M1114 291h0M1187 186h0M1274 209h0M1285 177h0M1223 162h0M1273 161h0M1284 172h0M1277 203h0M1285 174h0M1114 309h0M1219 164h0M1124 310h0M1285 178h0M1250 157h0M1122 310h0M1140 305h0M1137 256h0M1189 185h0M1123 309h0M1275 205h0M1114 306h0"/><path stroke="#60ff9f" d="M1242 158h0M1283 180h0M1124 279h0M1114 298h0M1262 159h0M1117 307h0M1115 304h0M1156 296h0M1282 180h0M1119 289h0M1173 289h0M1122 284h0M1159 227h0M1118 290h0M1170 290h0M1120 307h0M1130 306h0M1137 304h0M1122 307h0M1131 268h0M1193 182h0M1120 306h0M1204 270h0M1244 158h0M1128 306h0M1133 305h0M1117 296h0M1274 202h0M1250 235h0M1280 183h0M1119 303h0"/><path stroke="#75ff8a" d="M1279 186h0M1133 304h0M1147 298h0M1279 177h0M1130 273h0M1263 161h0M1142 253h0M1279 183h0M1272 166h0M1120 297h0M1137 302h0M1195 181h0M1180 198h0M1273 201h0M1122 288h0M1173 207h0M1120 297h0M1246 237h0M1269 210h0M1272 167h0M1121 294h0M1123 300h0M1186 280h0M1231 250h0M1156 294h0M1243 160h0M1126 283h0M1122 293h0M1129 301h0"/><path stroke="#8aff75" d="M1271 204h0M1229 252h0M1134 300h0M1246 161h0M1130 277h0M1268 166h0M1126 286h0M1124 291h0M1124 293h0M1125 297h0M1226 165h0M1251 231h0M1246 236h0M1273 171h0M1264 165h0M1155 293h0M1138 262h0M1206 176h0M1137 298h0M1129 297h0M1153 239h0M1243 162h0M1143 255h0M1272 171h0M1272 171h0M1129 297h0M1135 298h0M1259 221h0M1149 246h0M1128 286h0M1266 166h0M1274 189h0"/><path stroke="#9fff60" d="M1262 216h0M1168 287h0M1234 246h0M1155 292h0M1162 227h0M1228 165h0M1139 296h0M1189 190h0M1239 241h0M1132 295h0M1270 172h0M1237 163h0M1226 166h0M1258 164h0M1253 163h0M1244 236h0M1265 209h0M1132 294h0M1170 285h0M1132 279h0M1213 260h0M1272 191h0M1253 164h0M1139 294h0M1246 163h0M1271 176h0"/><path stroke="#b5ff4a" d="M1269 173h0M1263 211h0M1167 286h0M1132 287h0M1148 291h0M1248 231h0M1133 289h0M1170 284h0M1149 249h0M1154 290h0M1262 212h0M1139 292h0M1133 284h0M1262 212h0M1149 291h0M1140 292h0M1134 288h0M1184 197h0M1159 288h0M1271 188h0M1163 287h0M1137 289h0M1265 205h0M1195 187h0M1187 195h0M1261 169h0M1260 168h0M1138 289h0M1257 218h0M1190 273h0"/><path stroke="#caff35" d="M1263 209h0M1139 289h0M1136 286h0M1154 288h0M1224 170h0M1166 224h0M1151 288h0M1243 234h0M1246 166h0M1260 212h0M1269 188h0M1140 270h0M1199 267h0M1147 288h0M1197 187h0M1266 175h0M1192 191h0M1203 264h0M1252 167h0M1160 286h0M1237 167h0M1205 181h0M1150 287h0M1142 266h0M1141 286h0M1251 224h0M1182 203h0"/><path stroke="#dfff20" d="M1166 226h0M1139 275h0M1179 278h0M1253 221h0M1237 239h0M1158 285h0M1142 268h0M1259 211h0M1179 208h0M1227 170h0M1151 286h0M1141 279h0M1146 260h0M1266 191h0M1142 282h0M1162 283h0M1175 215h0M1143 268h0M1142 274h0M1264 197h0M1227 171h0M1259 209h0M1250 223h0M1170 223h0M1251 169h0"/><path stroke="#f4ff0b" d="M1157 243h0M1188 197h0M1215 177h0M1206 182h0M1151 284h0M1263 178h0M1246 169h0M1257 212h0M1176 214h0M1227 245h0M1214 255h0M1241 233h0M1262 178h0M1232 241h0M1144 268h0M1182 274h0M1146 281h0M1215 254h0M1264 182h0M1145 279h0M1146 265h0M1259 175h0M1189 197h0M1146 266h0M1146 280h0M1148 259h0M1224 173h0M1189 198h0M1203 261h0"/><path stroke="#fff400" d="M1219 250h0M1149 259h0M1262 181h0M1251 171h0M1169 279h0M1231 242h0M1237 170h0M1219 176h0M1213 254h0M1194 192h0M1145 270h0M1246 170h0M1261 179h0M1261 200h0M1146 270h0M1221 175h0M1202 186h0M1261 180h0M1239 233h0M1147 266h0M1246 171h0M1186 271h0M1232 240h0M1238 171h0M1205 185h0M1180 274h0M1161 239h0M1152 280h0M1148 277h0M1261 182h0M1181 209h0M1190 268h0M1154 280h0M1147 271h0"/><path stroke="#ffdf00" d="M1151 278h0M1260 199h0M1260 182h0M1246 172h0M1256 208h0M1259 180h0M1174 275h0M1160 279h0M1171 277h0M1252 174h0M1151 278h0M1233 173h0M1148 272h0M1256 177h0M1260 185h0M1251 174h0M1167 231h0M1149 274h0M1212 253h0M1235 236h0M1160 243h0M1255 177h0M1185 270h0M1260 189h0M1149 267h0M1149 269h0M1234 173h0M1259 184h0M1163 238h0M1214 251h0M1259 188h0M1258 183h0M1259 196h0M1258 182h0"/><path stroke="#ffca00" d="M1210 254h0M1150 270h0M1231 238h0M1167 232h0M1213 252h0M1254 178h0M1250 175h0M1254 209h0M1251 213h0M1175 274h0M1151 270h0M1158 277h0M1238 174h0M1205 187h0M1258 191h0M1245 175h0M1233 175h0M1159 247h0M1199 260h0M1191 200h0M1175 273h0M1226 176h0M1256 182h0M1230 176h0M1216 249h0M1155 254h0M1166 235h0M1216 249h0M1162 242h0M1152 269h0M1190 202h0M1223 178h0M1154 273h0M1152 269h0M1245 220h0"/><path stroke="#ffb500" d="M1152 265h0M1237 175h0M1157 253h0M1214 250h0M1153 265h0M1163 275h0M1186 207h0M1156 255h0M1210 185h0M1249 178h0M1155 272h0M1192 200h0M1154 268h0M1178 270h0M1172 273h0M1221 180h0M1253 206h0M1218 181h0M1253 182h0M1229 237h0M1236 176h0M1185 267h0M1160 273h0M1155 270h0M1207 253h0M1194 199h0M1157 272h0M1240 226h0M1249 213h0M1166 238h0"/><path stroke="#ff9f00" d="M1224 179h0M1254 189h0M1221 244h0M1161 248h0M1223 180h0M1223 242h0M1251 182h0M1209 252h0M1197 196h0M1251 207h0M1252 184h0M1240 178h0M1243 178h0M1167 238h0M1197 197h0M1165 272h0M1243 178h0M1176 223h0M1218 183h0M1206 189h0M1252 203h0M1222 181h0M1224 180h0M1157 265h0M1226 180h0M1164 271h0M1173 270h0M1251 185h0M1171 232h0M1229 236h0M1185 212h0M1253 199h0M1161 251h0M1253 193h0M1251 205h0M1249 209h0M1175 269h0M1250 208h0M1236 229h0M1159 254h0M1186 264h0M1253 191h0"/><path stroke="#ff8a00" d="M1161 251h0M1216 184h0M1194 200h0M1236 179h0M1245 180h0M1252 190h0M1159 268h0M1172 270h0M1250 207h0M1191 262h0M1211 187h0M1179 220h0M1250 205h0M1159 266h0M1226 181h0M1167 239h0M1175 227h0M1158 259h0M1201 255h0M1173 230h0M1196 258h0M1208 251h0M1185 212h0M1161 268h0M1174 228h0M1174 229h0M1222 241h0M1230 180h0M1244 216h0M1160 256h0M1243 181h0M1186 263h0M1226 181h0M1183 215h0M1174 268h0M1184 264h0M1159 263h0M1213 187h0M1160 257h0M1161 266h0M1165 246h0M1190 261h0M1194 259h0M1160 260h0M1165 268h0M1171 268h0M1240 221h0"/><path stroke="#ff7500" d="M1219 242h0M1201 254h0M1242 181h0M1172 268h0M1164 249h0M1223 183h0M1162 266h0M1232 231h0M1162 266h0M1170 268h0M1213 188h0M1237 225h0M1182 264h0M1175 266h0M1167 267h0M1246 185h0M1249 189h0M1166 246h0M1163 253h0M1162 256h0M1241 182h0M1185 215h0M1246 209h0M1180 222h0M1232 229h0M1162 259h0M1165 249h0M1164 265h0M1246 186h0M1196 201h0M1231 182h0M1206 192h0M1172 266h0"/><path stroke="#ff6000" d="M1163 255h0M1166 265h0M1164 262h0M1246 206h0M1241 217h0M1169 265h0M1167 265h0M1179 225h0M1173 265h0M1166 249h0M1163 259h0M1186 261h0M1247 204h0M1166 249h0M1247 191h0M1197 201h0M1228 184h0M1197 202h0M1247 204h0M1243 186h0M1181 222h0M1168 264h0M1167 248h0M1189 211h0M1173 264h0M1227 233h0M1165 258h0M1246 190h0M1170 241h0M1184 219h0M1173 264h0M1167 262h0M1206 248h0"/><path stroke="#ff4a00" d="M1246 198h0M1242 214h0M1185 260h0M1234 224h0M1166 252h0M1220 238h0M1187 259h0M1187 259h0M1246 193h0M1242 213h0M1246 197h0M1170 262h0M1238 186h0M1192 256h0M1243 210h0M1167 258h0M1200 251h0M1174 262h0M1236 221h0M1245 197h0M1242 210h0M1213 243h0M1229 186h0M1241 188h0M1242 190h0M1240 188h0M1178 260h0M1170 245h0M1192 210h0M1201 200h0M1241 213h0M1169 251h0"/><path stroke="#ff3500" d="M1169 251h0M1175 260h0M1201 200h0M1236 187h0M1242 191h0M1177 260h0M1240 189h0M1169 253h0M1222 188h0M1208 194h0M1169 251h0M1244 201h0M1196 206h0M1204 197h0M1225 187h0M1172 258h0M1170 255h0M1242 207h0M1235 220h0M1219 189h0M1236 188h0M1214 241h0M1172 257h0M1184 223h0M1176 236h0M1183 223h0M1231 226h0M1212 242h0M1201 249h0M1215 191h0M1174 241h0M1174 240h0M1191 254h0M1211 242h0M1174 258h0M1171 252h0M1240 209h0M1222 234h0M1224 232h0M1186 256h0M1227 229h0"/><path stroke="#ff2000" d="M1242 202h0M1234 221h0M1180 230h0M1240 192h0M1241 207h0M1212 194h0M1175 241h0M1228 228h0M1205 246h0M1241 199h0M1195 209h0M1180 257h0M1209 196h0M1240 195h0M1209 196h0M1241 200h0M1231 223h0M1186 222h0M1189 253h0M1185 224h0M1239 194h0M1178 255h0M1217 192h0M1178 237h0M1180 255h0M1228 227h0M1234 191h0M1183 228h0M1205 200h0M1212 240h0M1189 253h0M1191 252h0M1214 194h0M1190 217h0M1179 255h0"/><path stroke="#ff0b00" d="M1208 197h0M1189 219h0M1183 254h0M1197 208h0M1178 239h0M1197 248h0M1185 225h0M1223 231h0M1182 230h0M1238 208h0M1235 214h0M1191 251h0M1180 234h0M1180 234h0M1204 201h0M1237 195h0M1195 211h0M1220 192h0M1224 229h0M1212 239h0M1222 231h0M1198 247h0M1184 253h0M1187 252h0M1186 224h0M1212 196h0M1235 194h0M1200 205h0M1238 201h0M1177 244h0M1225 192h0M1214 237h0M1234 193h0M1187 251h0M1188 223h0M1238 201h0M1185 252h0M1224 229h0M1230 192h0M1178 250h0M1178 244h0M1183 231h0M1238 204h0M1215 195h0M1201 244h0M1235 195h0"/><path stroke="#f40000" d="M1210 239h0M1229 193h0M1232 217h0M1236 210h0M1236 197h0M1183 251h0M1178 244h0M1179 244h0M1206 242h0M1190 220h0M1182 233h0M1227 193h0M1188 225h0M1233 195h0M1185 250h0M1209 239h0M1193 247h0M1236 207h0M1180 248h0M1222 229h0M1185 250h0M1206 202h0M1187 249h0M1208 239h0M1194 247h0M1231 217h0M1236 206h0M1182 248h0M1232 196h0M1213 198h0M1187 248h0M1183 234h0M1214 197h0M1229 220h0M1209 200h0M1182 238h0M1206 240h0M1186 230h0M1185 248h0"/><path stroke="#df0000" d="M1182 246h0M1196 245h0M1182 242h0M1189 247h0M1199 244h0M1187 228h0M1224 195h0M1233 211h0M1233 199h0M1228 195h0M1208 238h0M1196 215h0M1217 232h0M1182 241h0M1232 215h0M1182 244h0M1185 247h0M1233 199h0M1186 246h0M1231 197h0M1197 244h0M1227 196h0M1209 237h0M1194 218h0M1197 213h0M1184 236h0M1234 205h0M1188 246h0M1184 244h0M1199 212h0M1222 196h0M1207 203h0M1186 233h0M1222 227h0M1185 244h0M1219 229h0M1199 212h0M1191 245h0M1192 245h0M1186 244h0M1196 243h0M1226 221h0M1185 243h0M1207 237h0M1185 237h0M1188 229h0M1185 239h0M1214 200h0M1212 200h0"/><path stroke="#ca0000" d="M1194 243h0M1186 234h0M1186 235h0M1227 198h0M1186 239h0M1212 201h0M1218 198h0M1197 216h0M1199 241h0M1217 199h0M1204 238h0M1196 241h0M1221 198h0M1210 234h0M1216 230h0M1221 199h0M1204 208h0M1221 199h0M1188 236h0M1191 228h0M1230 204h0M1229 212h0M1223 199h0M1205 207h0M1210 203h0M1218 200h0M1195 221h0M1192 241h0M1201 212h0M1224 222h0M1190 238h0M1190 233h0M1213 202h0M1229 212h0M1194 240h0"/><path stroke="#b50000" d="M1215 229h0M1190 234h0M1193 225h0M1190 231h0M1194 239h0M1192 228h0M1190 234h0M1206 235h0M1227 215h0M1223 221h0M1203 236h0M1226 217h0M1225 201h0M1219 226h0M1192 231h0M1193 228h0M1192 230h0M1191 234h0M1192 234h0M1207 233h0M1200 237h0M1198 237h0M1196 237h0M1220 224h0M1196 237h0M1225 202h0M1197 220h0M1227 205h0M1227 205h0M1199 219h0M1194 229h0M1200 217h0M1214 228h0M1218 225h0M1211 230h0M1208 208h0M1205 233h0"/><path stroke="#9f0000" d="M1211 206h0M1226 207h0M1195 227h0M1225 205h0M1214 228h0M1223 204h0M1223 204h0M1226 207h0M1225 213h0M1225 214h0M1218 224h0M1196 231h0M1207 231h0M1210 229h0M1224 206h0M1221 219h0M1204 232h0M1199 233h0M1197 230h0M1211 207h0M1208 230h0M1213 206h0M1206 212h0M1201 232h0M1219 205h0M1204 215h0M1221 205h0M1221 205h0M1210 208h0M1200 221h0M1199 230h0M1200 223h0M1221 206h0M1221 217h0M1223 214h0M1204 230h0M1222 215h0M1200 226h0M1214 225h0M1220 219h0M1217 222h0M1218 206h0"/><path stroke="#8a0000" d="M1222 214h0M1209 227h0M1220 218h0M1201 227h0M1216 221h0M1206 215h0M1221 209h0M1202 222h0M1218 220h0M1221 210h0M1212 209h0M1205 227h0M1212 209h0M1209 212h0M1212 209h0M1208 213h0M1219 218h0M1207 214h0M1220 216h0M1203 223h0M1208 213h0M1206 216h0M1205 219h0M1206 226h0M1206 217h0M1218 209h0M1218 210h0M1213 211h0M1216 210h0M1212 223h0M1216 219h0M1215 211h0M1218 216h0M1217 216h0M1208 215h0M1208 223h0M1211 213h0M1215 211h0M1218 213h0M1217 214h0M1217 214h0M1216 217h0M1209 217h0M1215 213h0M1209 217h0M1209 220h0M1214 215h0M1209 220h0M1215 215h0M1211 216h0M1209 220h0M1215 216h0M1212 216h0"/></g>
<line x1="902.8" y1="513.0" x2="1460.6" y2="14.7" stroke="#000" stroke-width="2.4" stroke-dasharray="9.3 7.2"/>
<line x1="902.8" y1="449.0" x2="1460.6" y2="21.3" stroke="#e8141c" stroke-width="2.6"/>
<path d="M902.8 513.0v-5.6M902.8 14.7v5.6M902.8 513.0h5.6M1460.6 513.0h-5.6M1088.7 513.0v-5.6M1088.7 14.7v5.6M902.8 346.9h5.6M1460.6 346.9h-5.6M1274.7 513.0v-5.6M1274.7 14.7v5.6M902.8 180.8h5.6M1460.6 180.8h-5.6M1460.6 513.0v-5.6M1460.6 14.7v5.6M902.8 14.7h5.6M1460.6 14.7h-5.6" stroke="#262626" stroke-width="1.3" fill="none"/>
<rect x="902.8" y="14.7" width="557.8" height="498.3" fill="none" stroke="#3a3a3a" stroke-width="1.15"/>
<g font-size="35"><text x="902.8" y="547.6" text-anchor="middle">0.01</text><text x="893.2" y="512.2" text-anchor="end">0.01</text><text x="1088.7" y="547.6" text-anchor="middle">0.1</text><text x="893.2" y="358.4" text-anchor="end">0.1</text><text x="1274.7" y="547.6" text-anchor="middle">1</text><text x="893.2" y="192.3" text-anchor="end">1</text><text x="1460.6" y="547.6" text-anchor="middle">10</text><text x="893.2" y="27.9" text-anchor="end">10</text></g>
<g font-size="36">
<text x="922.0" y="58.4">R<tspan font-size="24" dy="-11">2</tspan><tspan dy="11">=0.46</tspan></text>
<text x="922.0" y="101.1">RMSE=1.04 m<tspan font-size="24" dy="-10.5">-1</tspan></text>
<text x="922.0" y="143.8">MAPD=60.5%</text>
<text x="922.0" y="186.5">Number=1546</text>
</g>
<text x="1447.3" y="498.9" font-size="40" text-anchor="end">(B)</text>
<text x="1186.7" y="601.3" font-size="36.30" text-anchor="middle"><tspan>In situ Rrs estimated Kd(490) (m</tspan><tspan font-size="28.0" dy="-18.1">-1</tspan><tspan dy="18.1">)</tspan></text>
<text transform="translate(834.6 259.9) rotate(-90)" font-size="36.30" text-anchor="middle"><tspan>NASA NIR Kd(490) (m</tspan><tspan font-size="27.2" dy="-17.8">-1</tspan><tspan dy="17.8">)</tspan></text>
<rect x="1488.0" y="24.8" width="28.0" height="481.8" fill="url(#jet)" stroke="#2a2a2a" stroke-width="1.2"/>
<path d="M1516.0 410.2h-5M1516.0 313.9h-5M1516.0 217.5h-5M1516.0 121.2h-5" stroke="#300" stroke-width="1.3"/>
<g font-size="35"><text x="1526.0" y="518.3">0</text><text x="1526.0" y="421.9">0.2</text><text x="1526.0" y="325.6">0.4</text><text x="1526.0" y="229.2">0.6</text><text x="1526.0" y="132.9">0.8</text><text x="1526.0" y="36.5">1</text></g>
</g>
<g id="pC">
<path d="M1885.2 15.8V510.4M1700.7 345.5H2254.3M2069.8 15.8V510.4M1700.7 180.7H2254.3" stroke="#e3e3e3" stroke-width="1.2" fill="none"/>
<g fill="none" stroke-width="5.0" stroke-linecap="round"><path stroke="#00008a" d="M1772 219h0M1845 74h0M2013 404h0M1889 107h0"/><path stroke="#0000b5" d="M2096 446h0"/><path stroke="#0000ca" d="M2173 377h0M1974 355h0M2222 262h0M1969 351h0M2184 409h0M2200 419h0M2203 407h0M2065 424h0M2209 279h0M2121 373h0M2089 434h0M2172 360h0M2092 403h0"/><path stroke="#0000df" d="M2127 366h0M2221 206h0M2167 334h0M2136 327h0M2156 342h0M2065 407h0M2065 383h0M2029 335h0M2185 297h0"/><path stroke="#0000f4" d="M2078 387h0M1934 295h0M1964 314h0M1857 164h0M1970 42h0"/><path stroke="#000bff" d="M1965 56h0M2019 325h0M2103 350h0M1996 313h0M2205 241h0M1987 312h0M2069 360h0"/><path stroke="#0020ff" d="M2026 316h0M1966 300h0M1851 271h0M2066 335h0M1874 280h0"/><path stroke="#0035ff" d="M2088 328h0M2147 299h0M2161 291h0M2160 291h0M1984 42h0M2087 349h0M1917 282h0M1962 82h0M1954 93h0M2076 336h0M2177 272h0M2081 346h0M1996 37h0M2173 275h0M2078 342h0M1977 293h0"/><path stroke="#004aff" d="M1846 261h0M1910 280h0M2043 305h0M2226 65h0M2030 299h0M2119 298h0M2211 184h0M1979 289h0M2039 302h0M1967 84h0M2192 237h0M2084 302h0M2118 295h0M1881 162h0M1898 277h0"/><path stroke="#0060ff" d="M2220 43h0M2186 195h0M2011 283h0M2224 60h0M2222 97h0M1925 134h0M2185 252h0M2132 288h0M2080 299h0M2134 282h0M1887 162h0M2216 43h0M2152 256h0"/><path stroke="#0075ff" d="M1890 272h0M2203 183h0M2204 182h0M2126 281h0M1844 230h0M2166 257h0M2148 250h0M2123 280h0M2051 36h0M2084 294h0M2181 231h0M2181 231h0M1854 204h0M2217 157h0M1953 112h0M2118 275h0M2170 210h0M2097 285h0"/><path stroke="#008aff" d="M2217 57h0M2163 249h0M2216 52h0M2176 245h0M2196 41h0M2060 294h0M2199 42h0M2169 219h0M1993 65h0M1956 112h0M1866 186h0M2170 242h0M1892 266h0M2045 41h0M1995 62h0M2170 236h0M1907 162h0M1848 243h0M2164 210h0"/><path stroke="#009fff" d="M1970 273h0M1927 147h0M2010 46h0M1980 272h0M1856 210h0M1852 249h0M1997 270h0M2020 44h0M2168 183h0M2156 219h0M2129 250h0M2028 45h0M2159 209h0M2008 51h0M2206 58h0"/><path stroke="#00b5ff" d="M2206 167h0M1915 164h0M2023 47h0M2172 42h0M1942 267h0M1875 259h0M1888 259h0M2164 40h0M1866 196h0M1885 258h0M2182 174h0M1870 189h0M2198 55h0M2091 274h0M1901 169h0M2057 44h0M2001 71h0M2022 50h0M2197 55h0M1939 264h0M2191 172h0M2140 37h0M2197 61h0"/><path stroke="#00caff" d="M2141 37h0M2196 87h0M2213 105h0M1863 251h0M2155 111h0M1946 129h0M2012 59h0M2034 54h0M2138 102h0M2212 144h0M1941 136h0M2073 40h0M2117 252h0M2215 133h0M2188 82h0M2006 265h0M1856 237h0M2202 162h0M1894 252h0M2215 130h0M2155 189h0"/><path stroke="#00dfff" d="M1935 148h0M2187 57h0M2088 269h0M2116 252h0M2161 96h0M2115 38h0M2202 160h0M2171 47h0M1864 212h0M1978 102h0M2047 279h0M2018 63h0M2214 122h0M2076 277h0M2130 101h0M2196 94h0M2075 42h0M2135 40h0M1894 175h0M2025 64h0M1985 96h0M2050 279h0M2174 166h0M2165 91h0M2120 245h0M2132 96h0M1947 262h0M1864 243h0M2112 39h0M1863 241h0M1880 186h0"/><path stroke="#00f4ff" d="M2182 61h0M2045 62h0M2137 222h0M2089 263h0M2088 41h0M1927 255h0M2016 75h0M2177 101h0M2125 237h0M2016 76h0M1862 231h0M2207 143h0M2094 40h0M2067 49h0M2055 277h0M2122 42h0M2069 275h0M2075 45h0M1923 253h0M2132 120h0M1972 261h0M2018 78h0M2178 67h0"/><path stroke="#0bfff4" d="M2143 127h0M2209 115h0M2205 107h0M2200 103h0M2138 216h0M1866 233h0M2066 274h0M1984 103h0M2186 100h0M1965 260h0M1868 237h0M2151 175h0M2182 160h0M2077 268h0M2120 113h0M1955 131h0M2168 158h0M2069 272h0M2186 102h0M2191 158h0M2020 262h0M2175 65h0M2097 42h0M1938 155h0M1982 108h0M1953 133h0M1942 148h0M2158 83h0M2158 130h0M2162 127h0M2203 109h0M2070 52h0M1990 100h0M1879 238h0M1874 216h0M2163 155h0M2063 59h0M2112 106h0"/><path stroke="#20ffdf" d="M2035 267h0M1872 223h0M2204 112h0M2009 258h0M2056 66h0M2177 156h0M2152 135h0M1885 193h0M2146 134h0M1890 236h0M1898 182h0M1882 198h0M1874 229h0M1874 226h0M1915 245h0M2133 83h0M2143 48h0M2046 270h0M2192 152h0M1888 189h0M2156 151h0M2166 149h0M2151 49h0M1883 202h0M1893 233h0M2109 110h0M2162 77h0M2200 112h0M2004 94h0M2165 145h0M2080 51h0M2058 71h0M1881 220h0"/><path stroke="#35ffca" d="M2067 63h0M2103 46h0M2016 89h0M2098 103h0M2186 110h0M1908 240h0M2173 124h0M1885 227h0M2045 79h0M2097 104h0M1996 100h0M2094 104h0M1895 231h0M2096 94h0M2138 51h0M2115 86h0M1942 254h0M2117 85h0M2088 92h0M2100 92h0M2170 134h0M2104 48h0M2182 116h0M1962 133h0M1886 208h0M2077 94h0M2147 78h0M1895 188h0M2190 147h0M2162 59h0M2175 126h0M2163 67h0M2070 261h0M1894 191h0M1986 113h0M2154 75h0M2080 108h0M2044 265h0"/><path stroke="#4affb5" d="M2200 129h0M2146 153h0M2069 73h0M2140 140h0M2199 129h0M2076 85h0M2187 116h0M2043 85h0M2190 143h0M2001 100h0M2063 80h0M2160 61h0M2068 92h0M2161 67h0M2066 81h0M2094 52h0M2151 56h0M2106 84h0M2160 63h0M2075 72h0M2019 256h0M2084 81h0M2141 55h0M1948 253h0M2043 87h0M2128 73h0M2135 138h0M2129 213h0M2179 137h0M2106 240h0M2005 100h0M2120 76h0M2155 70h0M1918 241h0M2121 224h0M2050 86h0M2152 71h0M1949 148h0M1961 253h0M2108 119h0M2184 138h0M1999 104h0M2082 250h0M2186 124h0M2102 53h0M2182 135h0M2082 70h0M2193 130h0M2136 202h0M2193 130h0"/><path stroke="#60ff9f" d="M2130 69h0M2192 130h0M2069 109h0M2145 59h0M2084 66h0M2086 72h0M2146 60h0M2123 60h0M2140 187h0M2142 67h0M2145 68h0M2111 77h0M2016 97h0M2058 95h0M2125 132h0M2124 63h0M1978 127h0M2106 77h0M2105 55h0M2101 241h0M2114 230h0M2043 91h0M2140 158h0M1932 246h0M2110 58h0M2095 73h0M2098 241h0M2052 260h0M2139 160h0M2096 60h0M2119 221h0M2107 122h0M2052 96h0M2050 95h0M2107 59h0M2098 241h0M2047 94h0M1907 189h0"/><path stroke="#75ff8a" d="M2111 69h0M2134 144h0M1981 128h0M2108 64h0M2105 68h0M2107 64h0M1953 149h0M2031 255h0M1910 189h0M2136 188h0M2021 251h0M2030 98h0M1922 184h0M2060 255h0M2135 190h0M2123 135h0M1910 190h0M1991 123h0M2006 108h0M1905 194h0M2047 257h0"/><path stroke="#8aff75" d="M2095 238h0M2034 100h0M2108 229h0M1972 250h0M2066 249h0M2042 101h0M2047 103h0M2133 192h0M1993 122h0M2133 163h0M2099 235h0M2044 255h0M2054 111h0M2060 115h0M2043 254h0M2099 124h0M1956 150h0M2129 148h0M1957 149h0M1969 248h0M2095 235h0M1909 194h0"/><path stroke="#9fff60" d="M2130 152h0M2074 243h0M2110 221h0M2063 248h0M2129 195h0M2132 177h0M2056 251h0M1985 133h0M2131 169h0M2040 105h0M2069 244h0M1911 225h0M2061 118h0M2128 195h0M1915 229h0M1911 226h0M2130 168h0M1984 134h0M2010 246h0M2111 217h0M2118 208h0M1994 127h0M2093 234h0M2128 194h0M2106 223h0M1961 148h0M2124 199h0M2128 190h0M2128 163h0M1906 208h0M2129 177h0M2004 119h0M2114 211h0M2124 198h0"/><path stroke="#b5ff4a" d="M2031 248h0M1964 146h0M1909 218h0M2067 242h0M2118 203h0M2027 108h0M2046 249h0M2010 244h0M2013 113h0M2040 111h0M2126 185h0M2042 113h0M2119 144h0M2055 121h0M2002 243h0"/><path stroke="#caff35" d="M1978 142h0M2019 113h0M2115 142h0M1920 230h0M1914 198h0M2086 127h0M2122 170h0M2122 183h0M2117 145h0M1911 207h0M1912 203h0M1993 243h0M1913 201h0M1911 212h0M1989 140h0M2095 130h0M2116 195h0M2120 181h0M2119 184h0"/><path stroke="#dfff20" d="M2043 244h0M1912 211h0M1977 146h0M1984 242h0M2088 227h0M2091 225h0M2018 118h0M2115 151h0M1993 141h0M2044 243h0M2112 194h0M1945 175h0M2023 117h0M2082 228h0M2083 228h0M1949 241h0M2108 141h0M1917 221h0M2041 242h0M2114 162h0M2019 119h0M2018 120h0M2113 162h0M2112 149h0M2094 219h0M2063 129h0"/><path stroke="#f4ff0b" d="M1978 148h0M2108 142h0M1984 146h0M2032 119h0M2101 206h0M2032 241h0M2024 240h0M1917 204h0M2111 158h0M1981 241h0M2111 154h0M2026 120h0M2110 149h0M2095 213h0M2065 232h0M2014 127h0M2003 141h0M2105 143h0M2104 191h0"/><path stroke="#fff400" d="M2078 224h0M2063 231h0M1997 146h0M2106 166h0M2019 126h0M2077 133h0M2022 124h0M2100 141h0M2087 135h0M2094 137h0M2103 185h0M2052 130h0M2084 219h0M2087 216h0M1980 152h0M1947 178h0M1979 153h0M2021 127h0M2104 153h0M2079 221h0M1966 159h0M2062 133h0M1947 237h0"/><path stroke="#ffdf00" d="M2022 236h0M1995 152h0M2075 135h0M2008 143h0M2099 189h0M2009 234h0M2071 135h0M1932 231h0M1991 236h0M1980 238h0M2003 234h0M2030 127h0M1990 236h0M2099 175h0M2051 232h0M2098 180h0M1962 164h0M2064 135h0M2095 195h0M1958 237h0M2085 138h0M2090 139h0M2087 139h0M1984 237h0M1962 164h0M2022 131h0M2090 140h0M2031 128h0M2097 180h0M1942 234h0M1963 164h0M2006 149h0M2030 129h0M2083 139h0"/><path stroke="#ffca00" d="M1984 236h0M2094 194h0M2094 195h0M2063 136h0M2023 233h0M2087 140h0M2080 215h0M2087 207h0M2089 142h0M1983 157h0M2013 145h0M2083 211h0M1979 158h0M2094 147h0M2010 149h0M2000 158h0M2089 143h0M2017 142h0M2057 226h0M2041 231h0M2093 169h0M2088 144h0"/><path stroke="#ffb500" d="M2093 152h0M2092 180h0M1943 232h0M2024 136h0M2082 143h0M2025 136h0M2049 228h0M2091 162h0M1933 195h0M2010 155h0M2063 220h0M2053 226h0M1998 164h0M2017 147h0M2083 145h0M1928 201h0M1925 212h0M2088 151h0M2089 185h0M2083 203h0M2055 139h0M1988 163h0M2074 212h0M2070 215h0M1960 173h0M2089 181h0"/><path stroke="#ff9f00" d="M2034 229h0M2005 166h0M2014 155h0M1953 179h0M1964 234h0M2083 198h0M2086 169h0M1931 222h0M1978 165h0M1936 227h0M2077 206h0M2046 226h0M2010 164h0M2002 173h0M1993 229h0M1950 232h0M1974 166h0M2031 139h0M2032 139h0M2009 168h0M1928 214h0M1997 178h0M1938 193h0M2002 179h0M2076 204h0M2072 208h0M2085 176h0M1932 222h0"/><path stroke="#ff8a00" d="M2001 183h0M2079 152h0M2048 141h0M2010 225h0M2075 150h0M1970 169h0M1933 199h0M1979 168h0M1964 173h0M2039 140h0M2024 226h0M1946 230h0M2013 224h0M1987 172h0M1990 175h0M1940 192h0M2068 148h0M1978 231h0M2061 145h0M1974 231h0M2080 194h0M1986 229h0M2065 147h0M2045 223h0M2029 145h0M1963 175h0M1971 170h0M2082 178h0M2080 191h0M2042 223h0M1930 214h0M2056 216h0M2013 171h0M1985 172h0M1957 231h0M1929 211h0M2019 224h0M2081 178h0M2081 183h0M1992 184h0M2031 225h0M2080 167h0M2079 192h0M1985 174h0M2075 197h0M2080 175h0M1957 180h0"/><path stroke="#ff7500" d="M2047 144h0M1992 225h0M1949 186h0M1987 227h0M2052 217h0M2004 195h0M2036 144h0M1970 173h0M1944 227h0M2075 195h0M2048 145h0M1935 222h0M1969 174h0M2035 146h0M2016 173h0M1999 199h0M2074 160h0M1981 228h0M2052 215h0M2077 174h0M1986 181h0M1954 184h0M2044 145h0M2017 221h0M2075 164h0M1998 220h0M1989 188h0M2034 147h0M2018 172h0M2010 195h0M1945 227h0M2019 169h0M2060 208h0M2049 216h0M2024 160h0M1937 199h0M2048 147h0M1934 218h0M2065 202h0M1986 185h0M2022 221h0M2003 217h0M2016 182h0M2075 182h0M1976 175h0M2017 181h0M2075 181h0M2001 205h0"/><path stroke="#ff6000" d="M2039 220h0M2017 181h0M1998 218h0M1972 228h0M2003 215h0M2036 149h0M2021 170h0M1969 177h0M2024 165h0M2060 205h0M1982 183h0M2010 215h0M1997 216h0M2029 220h0M1935 218h0M2028 157h0M1998 215h0M2037 219h0M2013 198h0M1974 177h0M2056 151h0M2072 169h0M1975 178h0M1970 178h0M1938 221h0M1997 208h0M2020 177h0M1998 211h0M2069 192h0M2012 214h0M2022 174h0M1977 180h0M1944 224h0M2018 190h0M2068 163h0M2045 150h0M1964 228h0M2061 200h0M1944 194h0M2062 156h0M2014 199h0M1983 224h0M2059 202h0M2052 209h0M2036 152h0M2022 217h0M2042 151h0M2069 172h0M2013 211h0M2041 151h0M2034 217h0M2013 206h0"/><path stroke="#ff4a00" d="M1944 194h0M2026 169h0M2050 152h0M2064 162h0M2053 153h0M2026 216h0M1990 215h0M2027 169h0M2054 204h0M2050 207h0M1988 203h0M2065 186h0M1989 209h0M2026 215h0M2017 207h0M2066 178h0M2061 192h0M2018 209h0M2024 213h0M1936 211h0M2045 155h0M1988 211h0M2043 210h0M2049 156h0M2026 213h0M2044 209h0M2060 165h0M2059 164h0M1979 190h0M2062 174h0M2059 187h0M1969 184h0M2059 164h0M1978 222h0M1941 200h0M2054 196h0"/><path stroke="#ff3500" d="M2058 164h0M2059 182h0M2023 204h0M1986 210h0M2025 209h0M2024 199h0M2055 163h0M2026 195h0M2028 190h0M2045 159h0M2030 180h0M2045 204h0M1973 223h0M2056 184h0M1983 217h0M2035 169h0M2034 173h0M2057 168h0M2057 180h0M2048 198h0M2035 170h0M1953 191h0M1955 224h0M2049 195h0M2031 183h0M2027 202h0M2039 165h0M2028 205h0M2056 175h0M2044 200h0M1967 223h0M2037 175h0M2034 204h0M2033 191h0M2032 194h0M2034 203h0M2051 174h0M2051 175h0M2039 175h0M2037 183h0M1944 199h0M2034 193h0M2045 170h0M2043 191h0M1973 191h0M2037 189h0M2042 191h0"/><path stroke="#ff2000" d="M2046 172h0M2037 194h0M2042 177h0M2042 178h0M1947 220h0M1979 215h0M1972 192h0M1941 213h0M1941 213h0M1969 191h0M1952 195h0M1978 214h0M1949 219h0M1952 195h0M1971 218h0"/><path stroke="#ff0b00" d="M1977 209h0M1971 195h0M1944 205h0M1968 218h0M1946 203h0M1975 204h0M1961 219h0M1972 200h0M1967 217h0M1952 199h0M1969 216h0M1971 202h0M1946 208h0M1946 208h0"/><path stroke="#f40000" d="M1947 206h0M1965 198h0M1970 208h0M1968 212h0M1948 206h0M1968 203h0M1962 199h0M1950 206h0M1950 208h0M1956 214h0M1953 203h0"/><path stroke="#df0000" d="M1965 209h0M1964 203h0M1961 202h0M1953 205h0M1959 203h0M1955 209h0M1957 205h0M1961 212h0M1955 205h0"/></g>
<line x1="1700.7" y1="510.4" x2="2254.3" y2="15.8" stroke="#000" stroke-width="2.4" stroke-dasharray="9.3 7.2"/>
<line x1="1700.7" y1="228.1" x2="2254.3" y2="158.6" stroke="#e8141c" stroke-width="2.6"/>
<path d="M1700.7 510.4v-5.6M1700.7 15.8v5.6M1700.7 510.4h5.6M2254.3 510.4h-5.6M1885.2 510.4v-5.6M1885.2 15.8v5.6M1700.7 345.5h5.6M2254.3 345.5h-5.6M2069.8 510.4v-5.6M2069.8 15.8v5.6M1700.7 180.7h5.6M2254.3 180.7h-5.6M2254.3 510.4v-5.6M2254.3 15.8v5.6M1700.7 15.8h5.6M2254.3 15.8h-5.6" stroke="#262626" stroke-width="1.3" fill="none"/>
<rect x="1700.7" y="15.8" width="553.6" height="494.6" fill="none" stroke="#3a3a3a" stroke-width="1.15"/>
<g font-size="35"><text x="1700.7" y="541.7" text-anchor="middle">0.001</text><text x="1691.1" y="505.7" text-anchor="end">0.001</text><text x="1885.2" y="541.7" text-anchor="middle">0.01</text><text x="1691.1" y="357.0" text-anchor="end">0.01</text><text x="2069.8" y="541.7" text-anchor="middle">0.1</text><text x="1691.1" y="192.2" text-anchor="end">0.1</text><text x="2254.3" y="541.7" text-anchor="middle">1</text><text x="1691.1" y="31.8" text-anchor="end">1</text></g>
<g font-size="36">
<text x="1720.8" y="58.4">R<tspan font-size="24" dy="-11">2</tspan><tspan dy="11">=0.03</tspan></text>
<text x="1720.8" y="101.1">RMSE=0.19 m<tspan font-size="24" dy="-10.5">-1</tspan></text>
<text x="1720.8" y="143.8">MAPD=207.8%</text>
<text x="1720.8" y="186.5">Number=1060</text>
</g>
<text x="2242.2" y="496.0" font-size="40" text-anchor="end">(C)</text>
<text x="1976.5" y="604.6" font-size="36.60" text-anchor="middle"><tspan>In situ Rrs estimated a</tspan><tspan font-size="28.2" dy="17.9">dg</tspan><tspan dy="-17.9">(443) (m</tspan><tspan font-size="28.2" dy="-18.3">-1</tspan><tspan dy="18.3">)</tspan></text>
<text transform="translate(1629.0 263.1) rotate(-90)" font-size="36.60" text-anchor="middle"><tspan>NASA NIR a</tspan><tspan font-size="27.5" dy="17.6">dg</tspan><tspan dy="-17.6">(443) (m</tspan><tspan font-size="27.5" dy="-17.9">-1</tspan><tspan dy="17.9">)</tspan></text>
<rect x="2274.3" y="18.8" width="28.6" height="482.2" fill="url(#jet)" stroke="#2a2a2a" stroke-width="1.2"/>
<path d="M2302.9 404.6h-5M2302.9 308.1h-5M2302.9 211.7h-5M2302.9 115.2h-5" stroke="#300" stroke-width="1.3"/>
<g font-size="35"><text x="2312.9" y="512.7">0</text><text x="2312.9" y="416.3">0.2</text><text x="2312.9" y="319.8">0.4</text><text x="2312.9" y="223.4">0.6</text><text x="2312.9" y="126.9">0.8</text><text x="2312.9" y="30.5">1</text></g>
</g>
<g id="pD">
<path d="M256.8 636.2V1130.5M116.0 1006.9H679.3M397.6 636.2V1130.5M116.0 883.4H679.3M538.5 636.2V1130.5M116.0 759.8H679.3" stroke="#e3e3e3" stroke-width="1.2" fill="none"/>
<g fill="none" stroke-width="5.0" stroke-linecap="round"><path stroke="#00008a" d="M513 995h0M220 833h0M373 1122h0M232 849h0M297 1108h0M202 950h0M352 1099h0M451 784h0M387 773h0M362 1096h0"/><path stroke="#00009f" d="M481 813h0M282 1093h0M325 794h0M479 966h0M464 996h0M424 781h0M378 1078h0M190 1099h0M413 1059h0M486 825h0M444 798h0M262 851h0M456 1007h0M181 1088h0M291 1078h0M291 1077h0M395 1063h0M185 1088h0"/><path stroke="#0000b5" d="M335 802h0M215 967h0M478 833h0M265 860h0M440 1020h0M397 1052h0M232 911h0M465 959h0M310 1076h0M443 993h0M229 935h0M393 1049h0M383 1055h0M407 1031h0M383 1052h0M268 861h0M473 937h0M315 826h0M440 1013h0M435 1018h0M423 801h0M367 1044h0M286 851h0M476 884h0M279 1055h0M267 1058h0M464 945h0M460 951h0"/><path stroke="#0000ca" d="M340 811h0M348 1054h0M197 1079h0M245 910h0M466 925h0M239 921h0M422 1013h0M471 898h0M243 913h0M412 800h0M410 1017h0M304 1057h0M304 841h0M323 1063h0M350 808h0M386 797h0M232 1066h0M427 987h0M423 1005h0M338 1055h0M242 928h0M453 832h0M459 938h0M322 1059h0M463 913h0M469 892h0M463 842h0M308 1051h0M271 881h0M233 964h0M342 817h0M185 1066h0M317 1055h0M389 801h0M357 1030h0M308 843h0M463 846h0M365 1021h0"/><path stroke="#0000df" d="M348 1038h0M212 1070h0M239 1059h0M252 916h0M457 841h0M181 1034h0M411 1004h0M334 1048h0M409 808h0M404 1006h0M464 858h0M443 952h0M345 1037h0M458 909h0M459 846h0M339 1041h0M321 1047h0M182 1049h0M182 1050h0M375 807h0M186 1058h0M327 1045h0M463 876h0M315 1042h0M405 809h0M277 881h0M213 1064h0M303 1036h0M272 894h0M427 824h0M242 1054h0M216 991h0M454 845h0M407 998h0M258 920h0M353 1021h0M268 905h0"/><path stroke="#0000f4" d="M459 888h0M405 995h0M460 877h0M186 1042h0M193 1028h0M191 1032h0M382 1002h0M202 1060h0M224 1055h0M202 1059h0M189 1042h0M258 932h0M405 989h0M331 1031h0M380 1000h0M443 935h0M383 998h0M192 1039h0M194 1051h0M393 994h0M206 1056h0M217 1054h0M193 1044h0M376 814h0M268 1038h0M210 1055h0M453 857h0M254 949h0"/><path stroke="#000bff" d="M203 1054h0M204 1023h0M267 918h0M411 972h0M220 996h0M426 954h0M397 990h0M315 1028h0M250 959h0M214 1005h0M412 969h0M198 1034h0M203 1026h0M351 1012h0M443 926h0M441 931h0M368 1000h0M362 820h0M396 815h0M402 981h0M355 823h0M406 974h0M232 1046h0M199 1044h0M273 1033h0M223 993h0M388 990h0M250 962h0M310 856h0M211 1048h0M244 1044h0M261 939h0M222 996h0M328 1023h0M396 984h0M452 876h0M251 1042h0M380 991h0M424 951h0M437 934h0M320 1023h0M280 902h0M363 999h0M425 949h0M420 955h0M206 1036h0M400 819h0M379 817h0M436 934h0M207 1038h0M405 969h0"/><path stroke="#0020ff" d="M426 948h0M346 1009h0M320 1020h0M213 1020h0M448 860h0M362 997h0M301 868h0M445 903h0M212 1024h0M212 1033h0M245 1040h0M267 1032h0M395 976h0M426 835h0M283 901h0M428 943h0M325 1018h0M324 847h0M317 1019h0M360 996h0M316 1018h0M246 974h0M378 985h0M405 964h0M291 884h0M331 843h0M219 1036h0M417 953h0M317 1018h0M352 1001h0M388 978h0M396 820h0M447 878h0M264 947h0M447 880h0M371 822h0M332 1012h0M276 921h0M373 984h0M222 1007h0M218 1025h0"/><path stroke="#0035ff" d="M441 907h0M363 990h0M404 961h0M390 972h0M429 841h0M445 882h0M385 974h0M298 878h0M270 938h0M294 885h0M353 995h0M287 1017h0M395 823h0M286 906h0M386 972h0M316 859h0M230 1033h0M274 933h0M404 827h0M293 890h0M223 1024h0M384 823h0M425 840h0M439 855h0M439 906h0M234 1033h0M390 823h0M340 840h0M304 1012h0M269 1024h0M260 1028h0M440 859h0M385 823h0M297 884h0"/><path stroke="#004aff" d="M229 1029h0M410 951h0M418 944h0M298 885h0M292 900h0M227 1020h0M375 826h0M257 1028h0M295 891h0M276 1018h0M332 1002h0M339 998h0M299 1009h0M438 897h0M441 876h0M282 926h0M387 965h0M253 1028h0M273 944h0M288 915h0M250 1028h0M275 940h0M302 880h0M329 1001h0M346 991h0M309 871h0M272 1018h0M332 999h0M331 999h0M362 978h0M245 1028h0M284 924h0M437 860h0M237 1026h0M277 939h0M347 989h0M234 1024h0M427 927h0"/><path stroke="#0060ff" d="M326 1000h0M243 992h0M234 1023h0M232 1021h0M235 1023h0M305 1004h0M240 996h0M291 1007h0M305 1004h0M318 1001h0M234 1006h0M321 1000h0M335 994h0M282 1010h0M408 834h0M271 1015h0M336 993h0M310 1002h0M261 974h0M422 932h0M253 1023h0M282 1009h0M300 1003h0M234 1015h0M246 1024h0M424 846h0M438 879h0M287 1006h0M264 970h0M244 994h0M235 1008h0M236 1018h0M301 890h0M282 1008h0M335 849h0M381 963h0M327 994h0M296 908h0M370 831h0M274 1011h0M381 962h0M430 912h0M274 956h0M313 998h0M247 993h0"/><path stroke="#0075ff" d="M322 995h0M343 985h0M280 943h0M252 988h0M297 1001h0M238 1008h0M413 939h0M255 986h0M355 976h0M260 980h0M297 1000h0M268 969h0M248 994h0M240 1015h0M270 968h0M384 959h0M240 1005h0M355 975h0M287 932h0M314 995h0M342 983h0M241 1005h0M310 877h0M316 870h0M332 989h0M261 1015h0M240 1012h0M342 983h0M425 849h0M270 1010h0M243 1017h0M358 972h0M240 1009h0M427 917h0M356 837h0M254 1017h0M435 877h0M241 1009h0M289 930h0M244 1002h0M330 988h0M419 844h0M297 915h0M247 999h0M242 1009h0M274 963h0M259 986h0M344 845h0M259 1013h0M287 999h0M301 900h0M295 997h0M244 1006h0M432 861h0M250 1015h0M245 1013h0M273 967h0M264 981h0M265 979h0M251 997h0M258 1012h0M307 885h0M398 948h0M426 853h0"/><path stroke="#008aff" d="M285 942h0M341 980h0M303 993h0M343 978h0M334 983h0M247 1008h0M418 930h0M260 988h0M265 982h0M253 1011h0M276 1001h0M430 903h0M272 972h0M259 1010h0M252 999h0M275 967h0M250 1009h0M306 991h0M291 932h0M271 1002h0M265 984h0M317 987h0M265 984h0M297 992h0M306 990h0M400 946h0M266 984h0M267 983h0M286 943h0M426 914h0M286 944h0M273 1000h0M296 925h0M263 1003h0M259 998h0M411 936h0M261 997h0M268 1000h0M266 1000h0M265 999h0M427 857h0M273 979h0M265 995h0M278 969h0M292 934h0M272 996h0M312 881h0M273 995h0M330 979h0M337 977h0M299 988h0M355 968h0M304 986h0M273 982h0M278 992h0M300 987h0"/><path stroke="#009fff" d="M430 894h0M283 990h0M306 897h0M287 989h0M285 955h0M432 880h0M282 967h0M321 979h0M356 966h0M383 834h0M277 984h0M431 872h0M284 961h0M293 938h0M287 952h0M418 925h0M288 986h0M301 921h0M281 985h0M317 979h0M346 971h0M391 835h0M280 976h0M371 959h0M377 956h0M316 877h0M304 908h0M295 984h0M284 984h0M327 976h0M413 845h0M289 950h0M359 840h0M283 977h0M430 869h0M297 932h0M346 848h0M313 883h0M331 860h0M424 912h0M417 926h0M290 981h0M285 977h0M428 898h0M308 978h0M297 932h0M347 968h0M315 976h0M321 871h0M286 972h0M306 978h0M331 973h0M287 966h0M289 976h0M340 970h0M366 960h0M291 976h0M288 969h0M293 945h0M429 869h0M354 844h0"/><path stroke="#00b5ff" d="M293 947h0M302 975h0M339 969h0M324 972h0M302 926h0M322 972h0M305 916h0M309 974h0M426 862h0M298 972h0M293 955h0M297 971h0M294 967h0M295 947h0M309 901h0M302 931h0M332 969h0M309 900h0M309 900h0M296 949h0M300 939h0M328 865h0M334 860h0M298 944h0M338 967h0M396 942h0M298 965h0M296 951h0M372 954h0M297 964h0M298 946h0M301 967h0M300 966h0M315 968h0M420 854h0M351 847h0M394 838h0M421 914h0M297 957h0M304 967h0M427 893h0M417 852h0M302 965h0M354 961h0"/><path stroke="#00caff" d="M299 951h0M306 924h0M349 962h0M307 963h0M403 843h0M322 965h0M304 961h0M422 910h0M302 956h0M374 952h0M306 931h0M302 956h0M302 953h0M302 945h0M317 885h0M366 955h0M320 880h0M309 918h0M389 839h0M371 952h0M321 963h0M313 897h0M306 957h0M306 936h0M424 898h0M348 851h0M345 961h0M412 849h0M320 961h0M330 867h0M312 958h0M341 961h0"/><path stroke="#00dfff" d="M419 858h0M394 941h0M359 956h0M312 957h0M320 960h0M312 956h0M367 953h0M308 951h0M397 842h0M422 864h0M312 955h0M345 959h0M315 955h0M317 957h0M409 849h0M379 840h0M311 927h0M425 876h0M325 875h0M314 907h0M402 845h0M350 957h0M310 940h0M316 896h0M413 921h0M422 902h0M330 958h0M317 892h0M405 930h0"/><path stroke="#00f4ff" d="M342 957h0M325 955h0M328 873h0M340 957h0M404 931h0M383 944h0M329 956h0M319 891h0M315 943h0M351 851h0M419 906h0M326 953h0M399 845h0M321 950h0M423 874h0M316 913h0M367 949h0M315 933h0M348 954h0M423 882h0M316 907h0M345 954h0M396 844h0M316 936h0M316 938h0M316 929h0M405 849h0"/><path stroke="#0bfff4" d="M316 935h0M323 948h0M422 874h0M368 948h0M392 937h0M326 878h0M416 861h0M336 865h0M317 919h0M364 847h0M319 938h0M318 931h0M370 946h0M393 936h0M381 843h0M324 945h0M340 863h0M367 846h0"/><path stroke="#20ffdf" d="M335 949h0M325 882h0M332 948h0M379 844h0M329 946h0M321 896h0M330 947h0M327 945h0M320 928h0M326 943h0M392 935h0M370 846h0M371 846h0M327 942h0M400 849h0M346 948h0M418 870h0M380 941h0M324 936h0M396 932h0M321 908h0M399 930h0M407 854h0M420 879h0M410 917h0M336 869h0M375 942h0M348 948h0M327 940h0"/><path stroke="#35ffca" d="M322 919h0M333 944h0M362 945h0M327 938h0M321 913h0M324 929h0M366 944h0M419 888h0M322 903h0M322 908h0M390 847h0M330 940h0M376 846h0M351 946h0M346 946h0M358 945h0M329 937h0M323 919h0M337 944h0M354 945h0M418 877h0M405 854h0M328 934h0M352 945h0M416 869h0M356 945h0M408 857h0M408 917h0M356 854h0M417 896h0M323 907h0"/><path stroke="#4affb5" d="M334 940h0M402 925h0M323 911h0M335 940h0M367 849h0M334 874h0M336 872h0M324 905h0M362 943h0M384 847h0M324 917h0M394 931h0M417 874h0M350 944h0M409 859h0M326 925h0M333 877h0M344 864h0M339 941h0M341 942h0M328 929h0M349 860h0M355 943h0M338 941h0M358 943h0M359 942h0M354 943h0M333 936h0M415 869h0M326 918h0"/><path stroke="#60ff9f" d="M330 930h0M370 850h0M328 923h0M376 938h0M339 939h0M330 929h0M351 941h0M415 873h0M384 934h0M327 893h0M348 862h0M405 857h0M329 922h0M405 917h0M379 849h0M328 919h0M336 934h0M416 886h0M343 867h0M341 869h0M328 892h0M406 916h0M389 850h0M409 862h0M327 911h0"/><path stroke="#75ff8a" d="M351 940h0M332 927h0M342 937h0M359 939h0M335 931h0M391 929h0M335 931h0M342 936h0M328 896h0M328 899h0M387 931h0M380 934h0M399 923h0M328 905h0M328 902h0M337 931h0M401 920h0M329 898h0M412 901h0M389 930h0"/><path stroke="#8aff75" d="M368 853h0M348 864h0M355 938h0M378 851h0M381 851h0M361 856h0M363 855h0M336 928h0M340 932h0M375 935h0M409 865h0M342 933h0M414 889h0M330 893h0M330 893h0M352 936h0M407 863h0M372 852h0M355 936h0M330 901h0M330 902h0M412 898h0M389 928h0M333 887h0"/><path stroke="#9fff60" d="M351 864h0M356 936h0M410 904h0M369 854h0M340 875h0M370 934h0M357 860h0M358 859h0M344 931h0M364 935h0M407 866h0M377 932h0M346 869h0M343 930h0M370 854h0M393 855h0M335 919h0M402 860h0M379 931h0M331 902h0M342 928h0"/><path stroke="#b5ff4a" d="M354 933h0M379 931h0M403 913h0M344 929h0M371 933h0M411 878h0M340 924h0M407 905h0M379 930h0M373 932h0M334 890h0M367 933h0M333 909h0M340 924h0M370 856h0M375 931h0M333 900h0M403 913h0M404 910h0M389 926h0M410 876h0M349 868h0M389 855h0"/><path stroke="#caff35" d="M406 905h0M352 931h0M343 926h0M404 910h0M407 902h0M380 855h0M403 911h0M357 863h0M353 866h0M395 920h0M342 923h0M386 856h0M400 862h0M337 914h0M336 909h0"/><path stroke="#dfff20" d="M375 856h0M335 901h0M407 900h0M382 927h0M385 926h0M336 892h0M356 930h0M385 856h0M358 930h0M396 860h0M400 913h0M360 930h0M384 856h0M405 869h0M340 916h0M393 920h0M357 864h0M363 930h0M390 922h0M393 859h0M351 927h0M369 858h0M337 891h0M364 929h0M391 859h0M387 923h0"/><path stroke="#f4ff0b" d="M347 924h0M347 923h0M341 883h0M339 887h0M377 927h0M408 889h0M353 927h0M337 905h0M375 858h0M407 878h0M380 857h0M351 871h0M348 924h0M387 923h0M403 869h0M348 923h0M354 868h0M390 859h0M372 927h0M395 916h0M351 924h0M347 922h0"/><path stroke="#fff400" d="M393 861h0M396 863h0M400 909h0M356 867h0M347 875h0M338 895h0M342 915h0M407 890h0M341 886h0M344 880h0M378 925h0M402 870h0M403 871h0M406 882h0M388 920h0M382 923h0M372 860h0M406 891h0M362 926h0M339 894h0M376 859h0M368 926h0M406 891h0M343 884h0"/><path stroke="#ffdf00" d="M403 872h0M341 909h0M340 892h0M340 903h0M353 871h0M402 871h0M372 860h0M373 860h0M342 887h0M404 896h0M386 860h0M397 911h0M357 924h0M343 887h0M353 872h0M347 918h0M340 897h0M402 874h0M399 868h0M341 891h0M398 909h0M395 865h0M405 891h0M404 895h0"/><path stroke="#ffca00" d="M363 865h0M345 884h0M357 923h0M349 918h0M402 873h0M349 918h0M341 900h0M399 869h0M370 862h0M401 873h0M392 864h0M399 905h0M389 917h0M357 869h0M342 893h0M391 915h0M404 884h0M402 876h0M382 921h0M346 882h0M396 867h0M343 907h0M404 890h0M342 898h0M378 861h0M344 910h0M360 923h0M398 869h0M396 867h0M389 916h0M377 862h0M398 869h0"/><path stroke="#ffb500" d="M400 903h0M403 882h0M350 877h0M348 880h0M399 872h0M345 887h0M358 921h0M390 915h0M362 922h0M399 871h0M402 878h0M343 898h0M402 880h0M379 862h0M383 862h0M377 921h0M402 894h0M354 874h0M397 906h0M346 887h0M356 919h0M344 905h0"/><path stroke="#ff9f00" d="M346 908h0M354 918h0M355 874h0M349 881h0M344 899h0M371 922h0M344 898h0M355 918h0M388 915h0M398 872h0M344 894h0M358 872h0M400 897h0M346 907h0M355 875h0M395 908h0M398 902h0M394 869h0M387 865h0M386 865h0M396 906h0M400 880h0M400 898h0M401 894h0M372 920h0"/><path stroke="#ff8a00" d="M399 876h0M384 864h0M347 887h0M360 872h0M397 872h0M361 919h0M377 864h0M393 909h0M390 912h0M397 873h0M364 920h0M346 892h0M350 882h0M366 868h0M346 904h0M346 897h0M351 882h0M399 898h0M384 865h0M346 896h0M379 918h0M400 889h0"/><path stroke="#ff7500" d="M395 904h0M377 865h0M398 877h0M358 916h0M349 886h0M399 893h0M387 867h0M347 903h0M384 866h0M355 914h0M353 880h0M381 866h0M349 907h0M400 887h0M373 867h0M357 915h0M378 917h0M356 877h0M377 917h0M384 867h0M395 873h0M352 911h0M348 903h0M390 869h0M399 891h0M390 870h0M390 910h0M361 916h0M386 868h0M379 916h0"/><path stroke="#ff6000" d="M379 916h0M378 867h0M348 898h0M363 917h0M391 908h0M398 882h0M348 895h0M349 902h0M357 877h0M353 911h0M376 917h0M389 869h0M348 893h0M389 869h0M399 885h0M384 867h0M353 910h0M353 882h0M360 875h0M348 899h0M381 915h0M355 880h0M351 907h0M393 904h0M373 917h0M349 892h0M388 910h0M394 875h0M356 912h0M388 910h0M377 916h0M349 901h0M366 871h0M386 912h0M361 875h0M375 868h0M382 868h0M351 888h0M358 877h0"/><path stroke="#ff4a00" d="M353 885h0M359 913h0M380 914h0M350 900h0M374 916h0M392 904h0M397 891h0M397 888h0M358 912h0M350 892h0M380 868h0M397 889h0M386 870h0M371 916h0M355 910h0M372 915h0M367 872h0M391 905h0M394 900h0M378 914h0M396 896h0M379 914h0M357 911h0M362 914h0M375 915h0M389 872h0M368 915h0M356 881h0"/><path stroke="#ff3500" d="M393 877h0M390 906h0M377 869h0M352 889h0M357 881h0M386 909h0M356 908h0M357 882h0M366 874h0M360 878h0M395 884h0M387 907h0M354 904h0M394 879h0M354 904h0M355 907h0M354 904h0M376 870h0M364 913h0M352 896h0M394 881h0M378 870h0M372 913h0M382 871h0M353 902h0M379 871h0M395 885h0M395 889h0"/><path stroke="#ff2000" d="M378 871h0M353 892h0M395 887h0M392 899h0M353 899h0M381 911h0M378 871h0M353 897h0M393 881h0M375 871h0M380 871h0M387 906h0M391 877h0M358 908h0M374 871h0M367 912h0M390 876h0M377 871h0M383 909h0M381 871h0M366 875h0M386 907h0M356 906h0M380 871h0M391 877h0M365 911h0M383 872h0M353 897h0M354 892h0M354 892h0M358 883h0M370 874h0M377 911h0M357 884h0M360 908h0M393 882h0M374 872h0M371 912h0"/><path stroke="#ff0b00" d="M354 893h0M390 901h0M368 912h0M392 897h0M354 899h0M386 906h0M366 876h0M389 903h0M365 911h0M386 906h0M359 883h0M378 872h0M368 911h0M358 905h0M373 873h0M381 873h0M393 888h0M356 903h0M365 910h0M385 906h0M355 895h0M362 909h0M358 905h0M392 894h0M367 910h0M355 898h0M383 874h0M360 907h0M359 906h0M393 890h0M390 878h0M357 904h0M387 876h0M355 897h0M389 878h0M359 906h0M387 876h0M393 891h0M355 892h0M367 876h0M362 881h0M361 907h0M370 875h0M362 881h0M357 902h0M387 902h0M392 884h0M363 908h0M390 880h0M369 910h0"/><path stroke="#f40000" d="M375 910h0M356 899h0M392 888h0M372 875h0M374 910h0M360 883h0M363 908h0M359 886h0M386 903h0M389 879h0M371 875h0M363 881h0M391 887h0M360 904h0M380 907h0M376 909h0M358 901h0M371 909h0M391 889h0M357 898h0M357 894h0M360 904h0M357 890h0M360 904h0M384 904h0M383 876h0M389 899h0M358 890h0M385 877h0M359 901h0M388 880h0M379 875h0"/><path stroke="#df0000" d="M375 908h0M361 904h0M364 906h0M390 885h0M390 895h0M378 876h0M389 884h0M371 908h0M387 879h0M373 908h0M362 884h0M362 884h0M389 896h0M375 907h0M389 894h0M389 884h0M387 880h0M369 907h0M360 889h0M367 907h0M359 894h0M388 882h0M381 905h0M389 886h0M386 899h0M376 877h0M388 896h0M382 903h0M359 893h0M376 906h0M373 877h0M384 902h0M383 878h0"/><path stroke="#ca0000" d="M385 880h0M362 887h0M363 903h0M373 878h0M361 901h0M364 883h0M389 892h0M363 885h0M373 906h0M369 880h0M387 883h0M369 880h0M375 878h0M367 882h0M388 889h0M364 903h0M380 878h0M384 900h0M375 906h0M384 880h0M388 892h0M385 881h0M381 903h0M381 879h0M374 878h0M386 883h0M382 901h0M366 904h0M370 881h0M385 882h0M366 884h0M362 890h0M362 890h0M387 894h0M370 881h0M363 900h0M382 901h0M363 888h0M373 905h0"/><path stroke="#b50000" d="M361 894h0M387 886h0M367 883h0M365 902h0M369 882h0M387 890h0M364 901h0M378 903h0M381 901h0M386 894h0M366 902h0M382 881h0M376 904h0M367 884h0M382 900h0M374 880h0M362 896h0M379 880h0M386 892h0M385 896h0M382 881h0M379 902h0M368 903h0M379 902h0M382 899h0M363 892h0M382 882h0M382 899h0M378 881h0M385 887h0M380 900h0M377 902h0M368 884h0M373 881h0M372 882h0M364 891h0M366 900h0M384 886h0M383 897h0M364 892h0"/><path stroke="#9f0000" d="M385 888h0M370 883h0M372 902h0M365 895h0M379 900h0M383 896h0M366 897h0M369 885h0M365 893h0M377 882h0M384 891h0M378 882h0M373 883h0M377 882h0M372 883h0M381 884h0M378 899h0M377 883h0M381 897h0M383 887h0M365 894h0M366 896h0M383 892h0M372 901h0M375 900h0M383 886h0M376 883h0M381 897h0M383 894h0M368 888h0M382 886h0M379 898h0M368 888h0M371 900h0M373 884h0M382 887h0"/><path stroke="#8a0000" d="M378 898h0M381 886h0M382 892h0M379 886h0M379 885h0M380 894h0M369 891h0M377 897h0M380 894h0M378 886h0M370 889h0M380 892h0M378 887h0M374 897h0M369 893h0M369 894h0M380 892h0M378 895h0M369 893h0M379 894h0M373 887h0M370 890h0M371 896h0M370 892h0M371 896h0M371 896h0M378 894h0M376 887h0M371 891h0M378 893h0M376 895h0M371 894h0M371 893h0M371 894h0M373 889h0M378 890h0M376 889h0M377 891h0M375 889h0M374 895h0M375 893h0M377 889h0M373 890h0M375 890h0M374 892h0"/></g>
<line x1="116.0" y1="1130.5" x2="679.3" y2="636.2" stroke="#000" stroke-width="2.4" stroke-dasharray="9.3 7.2"/>
<line x1="116.0" y1="1061.8" x2="679.3" y2="718.1" stroke="#e8141c" stroke-width="2.6"/>
<path d="M116.0 1130.5v-5.6M116.0 636.2v5.6M116.0 1130.5h5.6M679.3 1130.5h-5.6M256.8 1130.5v-5.6M256.8 636.2v5.6M116.0 1006.9h5.6M679.3 1006.9h-5.6M397.6 1130.5v-5.6M397.6 636.2v5.6M116.0 883.4h5.6M679.3 883.4h-5.6M538.5 1130.5v-5.6M538.5 636.2v5.6M116.0 759.8h5.6M679.3 759.8h-5.6M679.3 1130.5v-5.6M679.3 636.2v5.6M116.0 636.2h5.6M679.3 636.2h-5.6" stroke="#262626" stroke-width="1.3" fill="none"/>
<rect x="116.0" y="636.2" width="563.3" height="494.3" fill="none" stroke="#3a3a3a" stroke-width="1.15"/>
<g font-size="35"><text x="116.0" y="1165.3" text-anchor="middle">0.1</text><text x="110.5" y="1138.8" text-anchor="end">0.1</text><text x="256.8" y="1165.3" text-anchor="middle">1</text><text x="110.5" y="1018.4" text-anchor="end">1</text><text x="397.6" y="1165.3" text-anchor="middle">10</text><text x="110.5" y="894.9" text-anchor="end">10</text><text x="538.5" y="1165.3" text-anchor="middle">100</text><text x="110.5" y="771.3" text-anchor="end">100</text><text x="679.3" y="1165.3" text-anchor="middle">1000</text><text x="110.5" y="651.6" text-anchor="end">1000</text></g>
<g font-size="36">
<text x="135.6" y="679.7">R<tspan font-size="24" dy="-11">2</tspan><tspan dy="11">=0.48</tspan></text>
<text x="135.6" y="722.4">RMSE=6.3 mg m<tspan font-size="24" dy="-10.5">-3</tspan></text>
<text x="135.6" y="765.1">MAPD=58.4%</text>
<text x="135.6" y="807.8">Number=1566</text>
</g>
<text x="661.3" y="1109.6" font-size="40" text-anchor="end">(D)</text>
<text x="400.8" y="1216.2" font-size="35.10" text-anchor="middle"><tspan>In situ Rrs estimated CHL (mg m</tspan><tspan font-size="27.0" dy="-17.6">-3</tspan><tspan dy="17.6">)</tspan></text>
<text transform="translate(46.0 883.4) rotate(-90)" font-size="36.00" text-anchor="middle"><tspan>OC-XGBRT CHL (mg m</tspan><tspan font-size="27.0" dy="-17.6">-3</tspan><tspan dy="17.6">)</tspan></text>
<rect x="707.0" y="642.2" width="29.0" height="481.5" fill="url(#jet)" stroke="#2a2a2a" stroke-width="1.2"/>
<path d="M736.0 1027.4h-5M736.0 931.1h-5M736.0 834.8h-5M736.0 738.5h-5" stroke="#300" stroke-width="1.3"/>
<g font-size="35"><text x="746.0" y="1135.4">0</text><text x="746.0" y="1039.1">0.2</text><text x="746.0" y="942.8">0.4</text><text x="746.0" y="846.5">0.6</text><text x="746.0" y="750.2">0.8</text><text x="746.0" y="653.9">1</text></g>
</g>
<g id="pE">
<path d="M1090.0 637.5V1123.7M902.8 961.6H1464.4M1277.2 637.5V1123.7M902.8 799.6H1464.4" stroke="#e3e3e3" stroke-width="1.2" fill="none"/>
<g fill="none" stroke-width="5.0" stroke-linecap="round"><path stroke="#00008a" d="M1087 726h0M929 1091h0M1140 715h0M1431 834h0M1422 868h0M1065 788h0M972 1069h0M1355 659h0M984 1037h0M1087 824h0M1079 825h0M1374 746h0"/><path stroke="#00009f" d="M1385 786h0M989 977h0M1197 674h0M1272 994h0M1237 644h0M1362 896h0M1018 1053h0M1046 1045h0M1004 1027h0"/><path stroke="#0000b5" d="M1193 1008h0M1228 999h0M1353 743h0M1334 672h0M1301 664h0M1112 1003h0M1027 1044h0M1344 710h0M1023 954h0M1189 1003h0M1347 726h0M1025 1041h0M1265 655h0M1321 946h0M1187 713h0M1214 681h0M1257 655h0M1164 769h0M1295 958h0M1289 961h0"/><path stroke="#0000ca" d="M1321 673h0M1362 856h0M1146 990h0M1170 994h0M1362 789h0M1363 847h0M1163 782h0M1336 914h0M1206 991h0M1260 975h0M1046 1026h0M1356 781h0M1340 751h0M1160 989h0M1327 682h0M1321 937h0M1250 665h0M1220 985h0M1280 953h0M1034 1025h0M1268 964h0M1225 981h0M1240 676h0M1194 718h0M1257 669h0M1215 695h0M1234 977h0"/><path stroke="#0000df" d="M1168 983h0M1259 965h0M1360 826h0M1240 973h0M1361 808h0M1011 989h0M1025 974h0M1192 982h0M1181 751h0M1284 678h0M1259 955h0M1090 884h0M1218 699h0M1245 682h0M1161 978h0M1252 942h0M1014 998h0M1293 939h0M1251 960h0M1042 938h0M1358 819h0M1178 764h0M1252 953h0M1248 948h0M1259 919h0M1192 735h0M1327 710h0M1239 692h0"/><path stroke="#0000f4" d="M1345 881h0M1313 687h0M1204 718h0M1033 1012h0M1339 890h0M1216 708h0M1278 921h0M1324 721h0M1020 992h0M1020 991h0M1297 933h0M1177 968h0M1322 727h0M1195 972h0M1288 928h0M1224 705h0M1050 930h0M1266 685h0M1021 995h0M1266 686h0M1265 914h0M1022 995h0M1320 913h0M1307 929h0M1054 925h0M1245 915h0M1026 1002h0M1325 756h0M1186 967h0M1286 923h0M1252 693h0M1239 701h0M1312 921h0M1260 691h0M1028 990h0M1306 924h0M1042 1005h0M1314 695h0M1201 965h0M1188 963h0M1272 691h0M1162 962h0"/><path stroke="#000bff" d="M1041 976h0M1232 941h0M1170 793h0M1225 954h0M1315 910h0M1033 996h0M1038 1001h0M1319 749h0M1346 801h0M1226 952h0M1164 959h0M1048 1002h0M1205 961h0M1308 695h0M1110 985h0M1303 919h0M1316 717h0M1299 918h0M1281 693h0M1287 693h0M1335 884h0M1259 906h0M1224 949h0M1305 914h0M1332 780h0M1205 959h0M1315 712h0M1055 999h0M1267 698h0M1057 929h0M1308 911h0M1306 697h0M1211 727h0M1204 957h0M1313 743h0M1154 961h0M1051 942h0M1343 801h0M1050 945h0M1135 972h0M1325 771h0M1335 788h0M1310 702h0M1218 722h0M1058 998h0M1224 941h0M1298 910h0M1341 800h0M1223 942h0M1231 913h0M1067 996h0"/><path stroke="#0020ff" d="M1208 734h0M1063 996h0M1048 981h0M1336 792h0M1306 702h0M1057 994h0M1182 950h0M1185 950h0M1197 753h0M1343 841h0M1306 706h0M1298 701h0M1224 722h0M1068 994h0M1289 701h0M1342 845h0M1217 943h0M1069 994h0M1253 901h0M1240 714h0M1313 755h0M1291 903h0M1331 790h0M1323 890h0M1340 811h0M1302 711h0M1340 820h0M1303 729h0M1201 947h0M1204 746h0M1054 967h0M1234 721h0"/><path stroke="#0035ff" d="M1214 936h0M1285 708h0M1077 914h0M1298 713h0M1068 990h0M1214 935h0M1132 969h0M1214 934h0M1055 953h0M1209 744h0M1338 818h0M1339 836h0M1325 884h0M1250 715h0M1197 761h0M1102 889h0M1337 860h0M1077 915h0M1336 814h0M1188 778h0M1296 719h0M1280 712h0M1058 974h0M1297 727h0M1210 745h0M1310 758h0M1330 875h0M1064 985h0M1283 714h0M1282 895h0M1198 763h0M1197 765h0M1229 906h0M1258 894h0M1111 975h0M1293 722h0M1334 864h0M1323 787h0M1300 741h0M1327 877h0"/><path stroke="#004aff" d="M1219 740h0M1254 892h0M1207 931h0M1331 816h0M1333 857h0M1284 722h0M1261 890h0M1302 888h0M1280 890h0M1244 725h0M1330 821h0M1264 719h0M1062 947h0M1072 928h0M1075 983h0M1273 889h0M1087 982h0M1313 774h0M1062 950h0M1313 884h0M1254 722h0M1331 828h0M1206 928h0M1063 967h0M1186 937h0M1312 883h0M1062 957h0M1088 981h0M1213 753h0M1200 769h0M1195 935h0"/><path stroke="#0060ff" d="M1111 971h0M1276 888h0M1330 837h0M1225 741h0M1233 735h0M1318 790h0M1293 887h0M1197 933h0M1134 961h0M1200 770h0M1324 812h0M1264 887h0M1089 979h0M1278 887h0M1329 857h0M1286 731h0M1074 929h0M1209 920h0M1142 955h0M1313 880h0M1324 869h0M1202 770h0M1300 884h0M1218 751h0M1073 976h0M1241 733h0M1262 724h0M1304 765h0M1261 725h0M1295 750h0M1322 871h0M1233 740h0M1263 725h0M1088 977h0M1082 977h0M1237 738h0M1323 866h0M1326 845h0"/><path stroke="#0075ff" d="M1068 948h0M1321 819h0M1267 882h0M1132 959h0M1303 768h0M1268 728h0M1239 890h0M1075 932h0M1093 908h0M1187 790h0M1069 951h0M1112 888h0M1213 761h0M1316 873h0M1241 738h0M1230 895h0M1081 974h0M1291 748h0M1313 875h0M1316 808h0M1270 881h0M1087 974h0M1320 826h0M1226 751h0M1318 824h0M1300 766h0M1206 770h0M1080 972h0M1090 972h0M1071 951h0M1316 819h0M1257 732h0M1075 967h0M1317 826h0M1321 857h0M1242 741h0M1072 949h0M1212 908h0M1093 970h0"/><path stroke="#008aff" d="M1321 843h0M1195 926h0M1264 732h0M1320 860h0M1302 876h0M1272 733h0M1304 776h0M1232 749h0M1200 779h0M1280 878h0M1088 970h0M1283 743h0M1292 757h0M1080 968h0M1306 783h0M1304 779h0M1315 831h0M1074 955h0M1105 965h0M1264 734h0M1307 787h0M1105 964h0M1076 942h0M1305 783h0M1298 875h0M1135 953h0M1317 842h0M1086 968h0M1317 844h0M1077 941h0M1234 752h0M1317 846h0M1259 737h0M1150 840h0M1302 779h0M1088 920h0M1267 736h0M1317 853h0M1237 887h0M1308 798h0M1077 946h0M1315 843h0M1311 832h0M1286 753h0"/><path stroke="#009fff" d="M1176 806h0M1304 784h0M1252 879h0M1198 919h0M1102 904h0M1243 748h0M1079 958h0M1110 961h0M1308 805h0M1291 873h0M1204 912h0M1270 740h0M1279 872h0M1307 866h0M1095 963h0M1090 963h0M1081 956h0M1310 835h0M1257 741h0M1134 951h0M1269 740h0M1278 871h0M1313 851h0M1084 960h0M1169 931h0M1080 947h0M1267 740h0M1274 744h0M1241 752h0M1306 809h0M1295 870h0M1312 855h0M1262 741h0M1085 958h0M1205 910h0M1192 921h0M1242 882h0M1143 853h0M1275 746h0M1283 869h0M1181 926h0M1244 751h0M1304 864h0M1126 954h0M1096 960h0M1306 862h0M1103 959h0M1268 743h0M1085 955h0M1266 870h0"/><path stroke="#00b5ff" d="M1282 755h0M1245 752h0M1304 797h0M1116 892h0M1199 914h0M1304 836h0M1226 765h0M1188 922h0M1124 954h0M1088 928h0M1273 748h0M1307 852h0M1263 869h0M1301 863h0M1271 867h0M1165 930h0M1306 856h0M1292 866h0M1132 949h0M1255 872h0M1100 911h0M1235 760h0M1301 794h0M1287 767h0M1300 861h0M1300 823h0M1292 864h0M1299 830h0M1220 770h0M1294 863h0M1288 769h0M1267 866h0M1182 923h0M1279 756h0M1273 751h0M1209 902h0M1176 925h0M1292 862h0M1096 918h0M1300 809h0"/><path stroke="#00caff" d="M1110 901h0M1230 765h0M1131 875h0M1138 865h0M1107 955h0M1093 951h0M1276 756h0M1089 932h0M1090 932h0M1298 848h0M1298 816h0M1297 820h0M1255 753h0M1276 862h0M1267 751h0M1091 929h0M1289 858h0M1254 754h0M1298 813h0M1294 854h0M1295 845h0M1294 844h0M1294 852h0M1269 753h0M1291 855h0M1293 852h0M1269 754h0M1292 844h0M1233 765h0M1291 852h0M1126 885h0M1285 856h0M1091 937h0M1291 849h0M1292 825h0M1109 952h0M1116 897h0M1114 900h0M1278 763h0M1256 867h0M1190 916h0M1282 854h0M1289 839h0M1277 762h0M1294 817h0M1092 942h0M1289 831h0M1093 932h0"/><path stroke="#00dfff" d="M1204 903h0M1289 830h0M1119 950h0M1273 858h0M1107 951h0M1293 790h0M1295 806h0M1286 832h0M1294 794h0M1276 765h0M1107 909h0M1269 858h0M1283 773h0M1265 759h0M1105 949h0M1280 769h0M1222 889h0M1281 847h0M1271 762h0M1293 792h0M1275 851h0M1292 791h0M1223 774h0M1243 765h0M1293 793h0M1177 812h0M1273 853h0M1225 886h0M1188 915h0M1130 944h0M1116 900h0M1282 775h0M1165 925h0M1179 919h0M1098 925h0M1125 946h0M1277 846h0M1293 802h0"/><path stroke="#00f4ff" d="M1235 769h0M1239 768h0M1212 781h0M1247 870h0M1269 764h0M1273 850h0M1276 770h0M1278 840h0M1291 798h0M1164 924h0M1102 921h0M1122 896h0M1290 800h0M1282 826h0M1273 770h0M1099 937h0M1207 786h0M1289 805h0M1148 855h0M1261 765h0M1289 794h0M1132 882h0M1100 926h0M1231 773h0M1240 874h0M1099 932h0M1105 918h0M1279 830h0M1105 943h0M1100 935h0M1191 910h0M1288 797h0M1125 943h0M1157 841h0M1135 937h0"/><path stroke="#0bfff4" d="M1273 843h0M1257 860h0M1129 941h0M1287 809h0M1263 767h0M1281 781h0M1103 940h0M1115 906h0M1287 798h0M1130 940h0M1101 930h0M1241 872h0M1131 939h0M1266 770h0M1286 805h0M1251 769h0M1262 769h0M1118 943h0M1104 937h0M1106 920h0M1282 787h0M1135 879h0M1280 820h0M1103 927h0M1268 772h0M1131 938h0M1157 924h0M1151 926h0M1282 814h0M1224 884h0M1254 770h0M1129 890h0M1170 919h0M1284 806h0M1114 911h0M1283 810h0M1133 883h0M1250 771h0M1134 935h0"/><path stroke="#20ffdf" d="M1244 868h0M1104 932h0M1105 926h0M1283 797h0M1258 771h0M1279 816h0M1135 934h0M1139 875h0M1276 783h0M1282 808h0M1111 917h0M1143 868h0M1108 936h0M1188 908h0M1116 939h0M1281 803h0M1277 786h0M1281 804h0M1107 925h0M1122 905h0M1221 781h0M1109 935h0M1258 773h0M1277 816h0M1108 933h0M1118 938h0M1150 923h0M1277 789h0M1184 910h0M1118 910h0"/><path stroke="#35ffca" d="M1117 937h0M1154 921h0M1131 933h0M1181 911h0M1111 934h0M1115 916h0M1277 791h0M1279 799h0M1261 776h0M1276 791h0M1253 775h0M1120 910h0M1147 864h0M1139 877h0M1124 935h0M1114 934h0M1242 776h0M1264 844h0M1127 933h0M1114 934h0M1267 839h0M1116 934h0M1118 913h0M1238 777h0M1260 849h0M1271 785h0M1112 924h0M1144 924h0M1271 826h0M1271 825h0M1122 934h0M1163 917h0M1131 930h0M1113 930h0M1127 932h0M1113 925h0M1114 921h0M1149 921h0M1213 887h0M1125 907h0M1129 930h0M1117 918h0"/><path stroke="#4affb5" d="M1274 794h0M1120 914h0M1165 916h0M1271 822h0M1116 928h0M1273 813h0M1246 778h0M1123 929h0M1249 859h0M1131 898h0M1131 927h0M1272 793h0M1204 795h0M1118 925h0M1263 840h0M1165 915h0M1181 908h0M1209 792h0M1133 895h0M1273 801h0M1133 924h0M1153 918h0M1129 926h0M1272 797h0M1182 907h0M1122 925h0M1262 783h0M1271 795h0M1255 852h0M1193 899h0M1136 922h0M1126 912h0M1213 885h0M1269 792h0M1242 864h0M1259 846h0M1134 896h0"/><path stroke="#60ff9f" d="M1137 889h0M1133 922h0M1126 923h0M1254 781h0M1265 787h0M1126 922h0M1220 786h0M1218 787h0M1262 785h0M1126 917h0M1148 918h0M1132 903h0M1205 890h0M1127 916h0M1133 920h0M1230 783h0M1208 888h0M1259 845h0M1135 896h0M1268 819h0M1221 786h0M1138 889h0M1142 918h0M1154 916h0M1186 812h0M1206 796h0M1140 917h0M1260 786h0M1253 783h0M1134 902h0M1266 823h0M1151 915h0M1153 915h0M1144 916h0M1221 787h0M1247 782h0M1141 916h0M1261 788h0M1134 914h0M1226 875h0M1268 813h0"/><path stroke="#75ff8a" d="M1239 782h0M1137 894h0M1147 871h0M1156 913h0M1140 888h0M1141 915h0M1212 884h0M1184 903h0M1140 888h0M1189 810h0M1248 783h0M1161 847h0M1168 836h0M1261 837h0M1177 906h0M1224 787h0M1145 913h0M1138 895h0M1163 911h0M1137 898h0M1258 788h0M1158 852h0M1148 872h0M1264 796h0M1138 908h0M1247 784h0M1225 874h0M1139 908h0M1215 881h0"/><path stroke="#8aff75" d="M1257 841h0M1248 785h0M1171 832h0M1252 849h0M1154 910h0M1244 785h0M1145 909h0M1252 787h0M1254 789h0M1140 901h0M1209 884h0M1141 905h0M1181 902h0M1141 895h0M1147 909h0M1264 805h0M1143 907h0M1182 819h0M1208 884h0M1144 907h0M1264 808h0M1174 830h0M1151 868h0M1208 797h0"/><path stroke="#9fff60" d="M1251 789h0M1165 907h0M1223 874h0M1168 906h0M1262 806h0M1179 901h0M1175 829h0M1144 898h0M1193 892h0M1250 790h0M1151 906h0M1220 875h0M1176 827h0M1160 854h0M1147 903h0M1207 883h0M1261 812h0M1153 906h0M1169 904h0M1170 837h0M1260 823h0"/><path stroke="#b5ff4a" d="M1157 861h0M1261 812h0M1146 894h0M1168 904h0M1193 891h0M1252 844h0M1148 884h0M1174 902h0M1207 882h0M1250 847h0M1255 838h0M1149 880h0M1150 903h0M1148 899h0M1257 799h0M1260 807h0M1165 904h0M1153 871h0M1153 903h0M1260 812h0M1157 862h0M1166 903h0M1245 852h0M1241 790h0M1250 793h0M1236 861h0M1258 827h0M1165 903h0M1249 793h0M1185 819h0"/><path stroke="#caff35" d="M1259 812h0M1238 790h0M1257 829h0M1254 799h0M1251 796h0M1242 854h0M1256 803h0M1210 799h0M1152 897h0M1237 791h0M1186 893h0M1163 853h0M1151 883h0M1155 869h0M1224 793h0M1241 854h0M1232 792h0"/><path stroke="#dfff20" d="M1180 896h0M1157 867h0M1210 800h0M1189 890h0M1209 801h0M1154 896h0M1151 885h0M1241 793h0M1173 837h0M1215 798h0M1152 889h0M1152 887h0M1190 889h0M1227 794h0M1225 868h0M1158 898h0M1190 816h0M1167 899h0M1155 896h0M1179 829h0M1253 833h0M1164 899h0M1187 891h0M1178 895h0M1248 797h0M1189 817h0M1201 882h0M1248 843h0M1216 798h0M1249 842h0M1154 878h0M1160 897h0M1184 824h0M1253 804h0"/><path stroke="#f4ff0b" d="M1251 836h0M1213 875h0M1157 895h0M1154 886h0M1159 896h0M1233 794h0M1155 879h0M1169 897h0M1156 875h0M1243 850h0M1154 883h0M1192 815h0M1156 891h0M1223 868h0M1232 860h0M1167 851h0M1162 895h0M1155 888h0M1251 804h0M1156 891h0M1242 796h0M1156 878h0M1175 837h0M1247 799h0M1177 893h0M1157 874h0M1157 876h0M1254 817h0M1166 852h0M1166 853h0"/><path stroke="#fff400" d="M1219 869h0M1217 871h0M1157 888h0M1249 803h0M1157 878h0M1228 862h0M1166 894h0M1202 808h0M1164 858h0M1187 823h0M1162 892h0M1234 796h0M1253 819h0M1242 798h0M1178 891h0M1180 890h0M1180 890h0M1158 882h0M1185 887h0M1163 862h0M1242 799h0M1169 849h0M1167 892h0"/><path stroke="#ffdf00" d="M1158 882h0M1239 798h0M1233 797h0M1159 886h0M1164 860h0M1183 828h0M1252 817h0M1232 797h0M1160 872h0M1218 801h0M1161 871h0M1206 875h0M1176 890h0M1160 881h0M1174 843h0M1251 824h0M1164 888h0M1174 890h0M1237 799h0M1174 842h0M1166 860h0M1164 888h0M1227 799h0M1161 881h0M1220 866h0"/><path stroke="#ffca00" d="M1192 819h0M1181 833h0M1228 799h0M1166 888h0M1250 817h0M1175 842h0M1184 885h0M1248 809h0M1218 802h0M1238 800h0M1216 868h0M1217 802h0M1179 887h0M1234 799h0M1232 855h0M1163 882h0M1228 799h0M1165 886h0M1169 855h0M1237 850h0M1238 801h0M1193 819h0M1249 814h0M1168 887h0M1172 887h0M1164 883h0M1208 807h0"/><path stroke="#ffb500" d="M1170 886h0M1246 833h0M1244 838h0M1192 880h0M1186 828h0M1165 880h0M1166 882h0M1246 809h0M1165 871h0M1182 884h0M1242 842h0M1184 883h0M1171 885h0M1239 803h0M1248 820h0M1219 864h0M1229 801h0M1200 814h0M1168 883h0M1176 885h0M1229 856h0M1216 805h0M1179 838h0M1234 852h0M1176 884h0M1186 828h0M1166 871h0M1170 856h0M1167 866h0M1240 843h0M1243 839h0M1186 828h0M1247 829h0M1233 802h0"/><path stroke="#ff9f00" d="M1193 878h0M1224 860h0M1245 810h0M1191 879h0M1245 811h0M1244 836h0M1242 839h0M1179 883h0M1233 803h0M1244 836h0M1172 855h0M1178 883h0M1227 856h0M1168 878h0M1167 875h0M1195 876h0M1246 824h0M1201 815h0M1185 832h0M1244 812h0M1173 853h0M1244 833h0M1183 880h0M1177 881h0"/><path stroke="#ff8a00" d="M1236 846h0M1171 879h0M1234 804h0M1220 861h0M1180 881h0M1169 869h0M1202 872h0M1235 805h0M1169 874h0M1179 843h0M1242 836h0M1203 872h0M1238 807h0M1240 809h0M1244 814h0M1175 879h0M1226 804h0M1199 817h0M1213 865h0M1207 869h0M1177 847h0M1172 876h0M1177 879h0M1188 830h0M1214 865h0M1201 871h0M1243 832h0M1186 832h0M1227 805h0M1201 871h0M1227 854h0M1244 827h0M1181 878h0M1243 814h0"/><path stroke="#ff7500" d="M1234 848h0M1242 813h0M1212 809h0M1200 872h0M1241 836h0M1222 859h0M1173 858h0M1214 864h0M1173 860h0M1229 852h0M1180 877h0M1243 817h0M1243 825h0M1243 827h0M1174 875h0M1202 870h0M1175 855h0M1209 812h0M1234 846h0M1189 830h0M1242 817h0M1235 844h0M1181 843h0M1240 812h0M1176 853h0M1200 871h0M1183 876h0M1173 867h0M1174 872h0M1184 837h0M1197 872h0M1177 875h0M1173 864h0M1174 861h0"/><path stroke="#ff6000" d="M1204 868h0M1177 874h0M1174 866h0M1179 848h0M1199 870h0M1177 873h0M1232 847h0M1242 820h0M1233 846h0M1242 819h0M1174 865h0M1242 823h0M1225 854h0M1227 807h0M1237 811h0M1217 809h0M1178 850h0M1182 842h0M1193 827h0M1241 819h0M1235 810h0M1191 873h0M1192 827h0M1175 866h0M1188 873h0M1238 813h0M1222 808h0M1181 846h0M1190 830h0M1176 870h0M1177 855h0M1179 872h0M1178 853h0"/><path stroke="#ff4a00" d="M1220 809h0M1217 810h0M1224 854h0M1177 870h0M1225 808h0M1178 871h0M1226 808h0M1176 868h0M1204 817h0M1183 872h0M1210 864h0M1177 858h0M1178 855h0M1177 857h0M1215 811h0M1237 813h0M1184 872h0M1220 856h0M1240 821h0M1180 849h0M1217 858h0M1178 867h0M1240 825h0M1237 814h0M1200 821h0M1192 870h0M1210 814h0M1239 818h0M1178 864h0M1208 863h0M1186 839h0M1224 809h0M1230 810h0M1240 825h0M1230 810h0M1228 810h0"/><path stroke="#ff3500" d="M1181 869h0M1178 860h0M1211 862h0M1179 865h0M1215 812h0M1180 867h0M1197 868h0M1237 834h0M1214 813h0M1198 867h0M1210 815h0M1181 851h0M1238 831h0M1216 858h0M1238 819h0M1205 819h0M1193 831h0M1235 837h0M1214 813h0M1192 831h0M1192 868h0M1180 859h0M1190 868h0M1215 813h0M1217 812h0M1209 816h0M1225 811h0M1187 868h0M1237 819h0M1183 849h0M1188 838h0M1238 824h0"/><path stroke="#ff2000" d="M1206 818h0M1187 867h0M1217 813h0M1183 865h0M1215 857h0M1190 836h0M1235 835h0M1182 856h0M1220 812h0M1182 858h0M1232 814h0M1196 866h0M1186 844h0M1182 858h0M1217 813h0M1206 819h0M1182 862h0M1197 865h0M1191 835h0M1189 866h0M1236 830h0M1183 861h0M1225 848h0M1224 849h0M1214 815h0M1183 859h0M1228 814h0M1203 863h0M1233 838h0M1193 865h0"/><path stroke="#ff0b00" d="M1211 858h0M1190 865h0M1184 853h0M1221 851h0M1231 840h0M1184 861h0M1191 864h0M1189 864h0M1186 862h0M1196 864h0M1206 860h0M1222 850h0M1220 814h0M1210 858h0M1233 835h0M1209 859h0M1203 861h0M1185 857h0M1234 833h0M1185 856h0M1193 864h0M1222 814h0M1185 857h0M1188 843h0M1200 826h0M1190 839h0M1218 852h0M1202 862h0M1199 827h0M1187 847h0M1234 832h0M1187 861h0M1192 836h0M1197 863h0M1188 861h0M1218 815h0M1233 820h0M1210 857h0"/><path stroke="#f40000" d="M1186 857h0M1202 825h0M1202 861h0M1214 855h0M1196 862h0M1232 820h0M1225 845h0M1189 844h0M1197 861h0M1192 839h0M1232 833h0M1232 834h0M1188 851h0M1233 826h0M1232 822h0M1202 826h0M1232 825h0M1231 834h0M1210 856h0M1195 860h0M1204 858h0M1198 830h0M1228 818h0M1192 840h0M1208 822h0M1201 828h0M1203 826h0"/><path stroke="#df0000" d="M1231 833h0M1232 825h0M1229 820h0M1214 819h0M1227 841h0M1190 846h0M1232 830h0M1201 827h0M1211 820h0M1189 855h0M1226 841h0M1216 818h0M1200 859h0M1228 819h0M1229 820h0M1189 852h0M1221 847h0M1193 839h0M1231 825h0M1230 823h0M1224 818h0M1214 852h0M1192 856h0M1197 858h0M1227 839h0M1209 823h0M1200 831h0M1211 853h0"/><path stroke="#ca0000" d="M1192 854h0M1221 846h0M1200 856h0M1194 855h0M1193 845h0M1208 854h0M1227 822h0M1212 852h0M1202 829h0M1215 849h0M1202 829h0M1222 844h0M1193 850h0M1199 855h0M1194 843h0M1200 832h0M1193 848h0M1222 820h0M1220 845h0M1227 824h0M1228 833h0M1209 852h0M1194 847h0M1226 823h0M1211 851h0M1205 827h0M1228 829h0M1226 835h0M1199 835h0M1207 827h0"/><path stroke="#b50000" d="M1215 822h0M1208 852h0M1195 851h0M1227 833h0M1199 853h0M1201 833h0M1223 823h0M1226 825h0M1219 822h0M1204 829h0M1210 850h0M1216 846h0M1217 823h0M1206 829h0M1220 823h0M1223 824h0M1198 839h0M1216 823h0M1222 839h0M1225 828h0M1204 851h0M1221 824h0M1220 842h0M1224 826h0M1225 829h0M1214 825h0"/><path stroke="#9f0000" d="M1217 844h0M1199 849h0M1224 827h0M1208 849h0M1207 850h0M1198 841h0M1213 825h0M1205 831h0M1225 831h0M1198 843h0M1220 825h0M1205 832h0M1199 842h0M1219 842h0M1223 836h0M1200 838h0M1199 841h0M1217 825h0M1200 840h0M1218 825h0M1202 848h0M1210 828h0M1206 831h0M1203 848h0M1211 827h0M1207 848h0M1221 827h0M1212 846h0M1221 827h0M1201 839h0M1201 839h0M1200 845h0M1219 840h0M1211 828h0M1212 827h0M1222 828h0M1207 831h0M1201 845h0M1201 842h0M1212 846h0M1217 827h0M1201 843h0M1217 827h0M1205 834h0M1202 845h0M1205 847h0M1222 832h0"/><path stroke="#8a0000" d="M1217 827h0M1207 846h0M1220 830h0M1204 837h0M1203 841h0M1218 828h0M1216 840h0M1215 842h0M1204 838h0M1217 838h0M1216 840h0M1215 829h0M1206 844h0M1209 844h0M1219 831h0M1219 835h0M1210 843h0M1211 842h0M1205 841h0M1209 843h0M1212 831h0M1209 834h0M1206 837h0M1206 841h0M1213 831h0M1213 831h0M1207 837h0M1211 833h0M1216 832h0M1210 841h0M1212 840h0M1214 832h0M1209 836h0M1210 837h0M1214 837h0M1212 840h0M1208 836h0M1208 839h0M1215 834h0M1211 838h0"/></g>
<line x1="902.8" y1="1123.7" x2="1464.4" y2="637.5" stroke="#000" stroke-width="2.4" stroke-dasharray="9.3 7.2"/>
<line x1="902.8" y1="1058.4" x2="1464.4" y2="671.6" stroke="#e8141c" stroke-width="2.6"/>
<path d="M902.8 1123.7v-5.6M902.8 637.5v5.6M902.8 1123.7h5.6M1464.4 1123.7h-5.6M1090.0 1123.7v-5.6M1090.0 637.5v5.6M902.8 961.6h5.6M1464.4 961.6h-5.6M1277.2 1123.7v-5.6M1277.2 637.5v5.6M902.8 799.6h5.6M1464.4 799.6h-5.6M1464.4 1123.7v-5.6M1464.4 637.5v5.6M902.8 637.5h5.6M1464.4 637.5h-5.6" stroke="#262626" stroke-width="1.3" fill="none"/>
<rect x="902.8" y="637.5" width="561.6" height="486.2" fill="none" stroke="#3a3a3a" stroke-width="1.15"/>
<g font-size="35"><text x="902.8" y="1161.0" text-anchor="middle">0.01</text><text x="897.7" y="1125.4" text-anchor="end">0.01</text><text x="1090.0" y="1161.0" text-anchor="middle">0.1</text><text x="897.7" y="973.1" text-anchor="end">0.1</text><text x="1277.2" y="1161.0" text-anchor="middle">1</text><text x="897.7" y="811.1" text-anchor="end">1</text><text x="1464.4" y="1161.0" text-anchor="middle">10</text><text x="897.7" y="653.1" text-anchor="end">10</text></g>
<g font-size="36">
<text x="920.7" y="681.0">R<tspan font-size="24" dy="-11">2</tspan><tspan dy="11">=0.51</tspan></text>
<text x="920.7" y="723.7">RMSE=0.82 m<tspan font-size="24" dy="-10.5">-1</tspan></text>
<text x="920.7" y="766.4">MAPD=50.2%</text>
<text x="920.7" y="809.1">Number=1566</text>
</g>
<text x="1445.6" y="1106.2" font-size="40" text-anchor="end">(E)</text>
<text x="1186.2" y="1216.2" font-size="36.30" text-anchor="middle"><tspan>In situ Rrs estimated Kd(490) (m</tspan><tspan font-size="28.0" dy="-18.1">-1</tspan><tspan dy="18.1">)</tspan></text>
<text transform="translate(835.4 880.6) rotate(-90)" font-size="36.30" text-anchor="middle"><tspan>OC-XGBRT Kd(490) (m</tspan><tspan font-size="27.2" dy="-17.8">-1</tspan><tspan dy="17.8">)</tspan></text>
<rect x="1487.0" y="637.5" width="27.3" height="481.9" fill="url(#jet)" stroke="#2a2a2a" stroke-width="1.2"/>
<path d="M1514.3 1023.0h-5M1514.3 926.6h-5M1514.3 830.3h-5M1514.3 733.9h-5" stroke="#300" stroke-width="1.3"/>
<g font-size="35"><text x="1524.3" y="1131.1">0</text><text x="1524.3" y="1034.7">0.2</text><text x="1524.3" y="938.3">0.4</text><text x="1524.3" y="842.0">0.6</text><text x="1524.3" y="745.6">0.8</text><text x="1524.3" y="649.2">1</text></g>
</g>
<g id="pF">
<path d="M1887.5 638.4V1123.7M1705.0 961.9H2252.6M2070.1 638.4V1123.7M1705.0 800.2H2252.6" stroke="#e3e3e3" stroke-width="1.2" fill="none"/>
<g fill="none" stroke-width="5.0" stroke-linecap="round"><path stroke="#00008a" d="M1967 701h0M2171 1014h0M1847 1017h0M2012 1039h0M1850 978h0M2019 688h0M2076 645h0M2004 1009h0M2102 984h0M2155 658h0M1982 986h0"/><path stroke="#00009f" d="M2132 996h0M1823 916h0M1942 763h0M2134 984h0M1935 1006h0M1836 898h0M2141 952h0M2064 684h0M2222 661h0M2205 654h0M1934 780h0M1839 909h0M2095 668h0M2049 969h0"/><path stroke="#0000b5" d="M2112 665h0M1902 1009h0M2068 958h0M1872 878h0M2148 935h0M2008 959h0M2009 732h0M2022 958h0M2117 673h0M2197 897h0"/><path stroke="#0000ca" d="M2119 929h0M2109 935h0M1910 1000h0M2137 916h0M1972 772h0M2099 938h0M1906 995h0M2167 919h0M2129 901h0M2132 681h0M2184 908h0M1903 987h0M2173 915h0M2049 949h0M2222 856h0M1929 980h0M1876 950h0M1998 943h0"/><path stroke="#0000df" d="M2158 911h0M2018 930h0M2027 933h0M1912 978h0M2088 931h0M2214 864h0M2222 837h0M2104 907h0M1870 921h0M1891 861h0"/><path stroke="#0000f4" d="M1902 847h0M2041 932h0M2209 866h0M1899 851h0M2049 935h0M1948 805h0M1954 799h0M2210 682h0M2099 895h0M2051 931h0M1981 944h0M1941 965h0"/><path stroke="#000bff" d="M1877 934h0M2067 928h0M2041 718h0M2208 857h0M2047 924h0M2169 892h0M2222 805h0M2187 684h0M2086 915h0M1961 798h0M2153 889h0M1976 946h0M2071 923h0M2128 696h0M1906 958h0M2069 708h0M1882 904h0M2201 860h0"/><path stroke="#0020ff" d="M2086 907h0M2090 897h0M2151 884h0M1952 811h0M2220 707h0M1930 834h0M2223 778h0M2055 714h0M2196 686h0M2201 687h0M2182 878h0M1989 779h0M2172 883h0M2099 875h0M2019 907h0M1882 926h0M2223 750h0M1907 853h0M1885 932h0"/><path stroke="#0035ff" d="M2064 913h0M1885 931h0M2214 818h0M2163 881h0M2209 829h0M2149 875h0M2057 909h0M2077 903h0M2207 695h0M2207 695h0M2078 900h0M2133 862h0M1894 940h0M2194 691h0M2221 730h0M2151 874h0M2077 896h0M1929 840h0M1920 956h0M1926 957h0M2192 858h0"/><path stroke="#004aff" d="M2154 873h0M2219 743h0M2131 858h0M2160 874h0M2219 726h0M2119 858h0M2059 902h0M2161 702h0M2060 901h0M1916 952h0M2120 856h0M2094 868h0M2057 900h0M2143 861h0M2173 700h0M2105 862h0M2051 723h0M2035 896h0M1997 778h0M2041 895h0"/><path stroke="#0060ff" d="M2176 867h0M2187 856h0M2148 706h0M1965 813h0M2060 894h0M2070 883h0M2059 893h0M2077 875h0M1892 926h0M2172 867h0M2028 894h0M2113 708h0M2070 880h0M2205 822h0M2178 861h0M1968 812h0M2069 880h0M2053 890h0M1900 937h0M2189 700h0M1947 834h0"/><path stroke="#0075ff" d="M1897 933h0M2180 857h0M2214 777h0M2174 704h0M2000 779h0M2207 709h0M2098 859h0M2094 712h0M1922 948h0M1952 946h0M2109 853h0M2180 853h0M2067 720h0M2204 707h0M2055 884h0M2097 858h0M2198 705h0M2170 858h0"/><path stroke="#008aff" d="M2000 782h0M2162 858h0M1894 916h0M1992 909h0M2154 853h0M1958 831h0M1895 896h0M2211 766h0M2057 878h0M2129 712h0M1931 947h0M2193 830h0M2019 758h0M2107 849h0"/><path stroke="#009fff" d="M2171 851h0M2172 851h0M2176 848h0M2165 852h0M1972 819h0M1914 940h0M1941 945h0M2135 843h0M1946 944h0M1947 944h0M2163 850h0M2193 709h0M2181 710h0M1984 914h0M2095 716h0M2092 854h0M2206 724h0M2163 848h0M1984 914h0M2010 893h0M2207 737h0M1949 841h0"/><path stroke="#00b5ff" d="M2185 834h0M1945 943h0M2189 712h0M1968 931h0M2141 716h0M2039 741h0M1982 812h0M1901 923h0M2131 839h0M2196 820h0M1983 811h0M2190 827h0M2004 895h0M2198 816h0M2047 876h0M2145 841h0M2205 732h0M2196 715h0M2089 853h0M2194 714h0M2016 889h0M2207 771h0M2192 823h0M2064 864h0M1967 830h0M2205 736h0M2199 812h0M2202 724h0M2055 731h0M1979 818h0M2206 775h0M2206 777h0M1984 812h0M2125 716h0M2153 842h0M2204 732h0M2200 722h0M2192 715h0M2163 718h0"/><path stroke="#00caff" d="M1968 831h0M2151 718h0M2071 858h0M2123 836h0M1974 827h0M2176 835h0M1957 841h0M2090 849h0M1998 794h0M2086 851h0M2195 815h0M2181 717h0M2202 747h0M2153 720h0M2143 837h0M2203 794h0M2167 720h0M2086 850h0M1989 810h0M1931 940h0M2200 735h0M2201 751h0M2196 724h0"/><path stroke="#00dfff" d="M2146 721h0M2036 876h0M2145 721h0M2006 889h0M2151 836h0M2201 799h0M2095 720h0M2197 728h0M2078 851h0M1908 926h0M2153 722h0M2202 765h0M1995 802h0M2199 744h0M1945 938h0M1975 831h0M2113 719h0M1997 893h0M2183 825h0M1972 921h0M2008 887h0M1945 849h0M2163 723h0M2076 851h0M1966 840h0M2192 726h0M2193 727h0M2134 832h0M2182 824h0M2111 720h0"/><path stroke="#00f4ff" d="M2173 724h0M1981 826h0M2062 731h0M2195 735h0M2171 831h0M2188 726h0M2030 875h0M1947 849h0M1966 926h0M2183 725h0M1992 812h0M2200 769h0M1983 826h0M1964 843h0M2008 885h0M1903 912h0M2163 831h0M2160 726h0M2115 721h0M2136 829h0M1929 858h0M1955 848h0M2183 729h0"/><path stroke="#0bfff4" d="M1989 820h0M2011 882h0M2199 792h0M2107 833h0M1997 806h0M2130 724h0M2197 762h0M2043 867h0M2168 828h0M2129 828h0M2169 827h0M2192 742h0M2092 724h0M2022 767h0M1976 838h0M2045 865h0M1979 906h0M2199 781h0M1931 858h0M2086 842h0M2133 724h0M2012 881h0M2092 840h0M2163 828h0M1919 930h0M2054 858h0M2176 732h0M2140 827h0M2044 864h0M1970 918h0"/><path stroke="#20ffdf" d="M2166 826h0M1927 861h0M2028 871h0M2167 732h0M2114 828h0M2145 728h0M1923 931h0M2097 835h0M2183 737h0M2193 757h0M2128 725h0M2185 739h0M2152 730h0M2154 731h0M2076 844h0M2185 813h0M2148 826h0M2040 865h0M1946 933h0M2113 724h0M2157 826h0M2157 825h0M2063 735h0M2044 862h0M1967 920h0M2033 757h0M2130 824h0M2029 762h0M1984 838h0M2195 792h0M2184 811h0M2189 805h0M2058 852h0"/><path stroke="#35ffca" d="M2111 827h0M2190 803h0M1942 856h0M2192 762h0M2133 823h0M1982 896h0M2076 842h0M2067 734h0M2037 753h0M2194 767h0M2026 767h0M2007 879h0M2182 744h0M2005 800h0M1984 891h0M2162 736h0M2193 768h0M2092 727h0M2116 824h0M2155 735h0M2190 761h0M1910 916h0M2091 835h0M2173 741h0M2058 850h0M2109 826h0M2188 803h0M2140 732h0M1971 913h0M1969 852h0M2073 841h0"/><path stroke="#4affb5" d="M2158 821h0M2039 753h0M2185 753h0M2164 739h0M2145 734h0M2045 858h0M1990 835h0M2179 812h0M2002 878h0M2094 728h0M2159 820h0M1998 879h0M1974 851h0M2189 800h0M2173 815h0M2147 820h0M1958 924h0M2171 744h0M1988 883h0M1938 930h0M2006 875h0M1915 921h0M2190 796h0M2030 865h0M2014 788h0M2177 748h0M2091 832h0M1979 851h0M2001 877h0M2180 809h0M1983 849h0M2151 738h0M2010 797h0M2123 729h0M2115 728h0M2148 737h0M1998 821h0M1994 831h0M2089 833h0M2174 747h0M1990 881h0M2166 816h0M1908 905h0"/><path stroke="#60ff9f" d="M2042 752h0M1995 878h0M1917 921h0M2151 818h0M2180 753h0M1933 862h0M2065 737h0M2182 756h0M2191 778h0M1930 928h0M1923 925h0M2009 871h0M1970 909h0M1995 834h0M1980 890h0M2173 749h0M2163 744h0M1961 857h0M1985 850h0M2189 792h0M1997 830h0M2031 862h0M2015 790h0M2046 853h0M2023 777h0M1948 927h0M2180 756h0M2037 759h0M1995 875h0M1940 928h0M2168 749h0M2186 796h0M1976 857h0M1930 927h0M2001 872h0M2159 815h0M1983 855h0M2130 733h0M1931 927h0M2189 776h0"/><path stroke="#75ff8a" d="M1960 859h0M2147 815h0M2187 793h0M1968 859h0M2033 860h0M2022 779h0M1998 831h0M2123 732h0M2046 750h0M2004 870h0M2168 750h0M2024 863h0M1987 876h0M2187 793h0M2131 815h0M1980 858h0M2010 800h0M1948 860h0M2146 815h0M2001 821h0M1980 859h0M2028 861h0M2159 747h0M1995 872h0M2164 749h0M1910 901h0M2149 814h0M2006 868h0M2042 854h0M2068 838h0M2095 731h0M1985 875h0M1992 850h0M2127 815h0M2001 869h0M2046 851h0M2116 731h0M2110 730h0M1970 905h0M1972 862h0M2069 837h0M1910 895h0M2123 815h0M2031 768h0M1963 861h0M2187 782h0M2001 828h0M1980 863h0M2024 861h0M2119 816h0M2081 832h0M1918 876h0M2057 842h0"/><path stroke="#8aff75" d="M2045 850h0M2175 805h0M2115 817h0M2179 762h0M1995 850h0M1987 864h0M1985 868h0M2143 742h0M2118 816h0M1999 838h0M1981 875h0M1994 867h0M1992 866h0M1936 926h0M1983 870h0M2185 775h0M1962 915h0M2150 812h0M2005 865h0M2095 731h0M1981 870h0M2155 748h0M2040 758h0M1962 916h0M1949 862h0M1967 863h0M2157 811h0M1976 885h0M1996 864h0M2074 834h0M2166 755h0M1995 856h0M1995 862h0M2169 756h0M1955 920h0M1922 920h0M1925 870h0M1918 916h0M1920 874h0M1914 885h0M2013 802h0M2023 781h0M2004 862h0M2005 862h0M1953 862h0M1977 876h0M1998 853h0M2059 744h0M2017 860h0M2077 832h0M2106 819h0M1945 863h0M2138 811h0M2033 855h0M2013 861h0M2000 845h0"/><path stroke="#9fff60" d="M2139 810h0M2182 792h0M2048 752h0M2001 857h0M2032 855h0M2175 764h0M2006 860h0M2182 789h0M1926 922h0M2182 775h0M2149 748h0M2182 777h0M2181 792h0M2181 792h0M2183 785h0M1919 916h0M1939 924h0M2182 780h0M2093 824h0M2182 780h0M2177 797h0M2028 775h0M2015 799h0M2040 760h0M1947 923h0M2004 855h0M2173 800h0M2100 820h0M1961 865h0M2010 811h0M2041 848h0M2016 797h0M1923 874h0M2027 777h0M2021 788h0M1970 871h0M2169 762h0M2011 856h0M2052 841h0M2018 856h0M2169 802h0M2009 816h0"/><path stroke="#b5ff4a" d="M2180 777h0M2122 811h0M1972 877h0M2158 805h0M2168 801h0M2168 763h0M2173 768h0M2095 734h0M2159 804h0M1964 868h0M2149 752h0M2177 791h0M2006 847h0M2066 742h0M2008 851h0M2125 738h0M2178 777h0M2179 786h0M2084 825h0M1968 899h0M2049 754h0M2010 816h0M2178 778h0M2161 803h0M2088 736h0M2124 738h0M1913 898h0M1960 913h0M2137 745h0M1946 921h0M2125 739h0M1914 890h0M1963 869h0M2102 734h0M1956 866h0M2050 840h0M1936 922h0M1964 908h0M1971 885h0M2167 800h0M2170 798h0M1920 878h0M2175 774h0M1969 897h0M2073 740h0M2007 839h0M2045 843h0M2170 769h0M2177 781h0M2176 779h0M1970 885h0"/><path stroke="#caff35" d="M1952 866h0M2122 738h0M2026 851h0M2172 772h0M2140 804h0M1919 911h0M2019 851h0M2016 851h0M2079 826h0M2143 803h0M2074 828h0M2149 803h0M2061 833h0M2069 742h0M2158 800h0M2131 743h0M2168 770h0M2011 845h0M2025 786h0M1917 887h0M2014 848h0M1960 910h0M2163 798h0M2162 798h0M2014 847h0M2107 813h0M2041 843h0M2172 788h0M1934 870h0M1962 872h0M2173 781h0M2139 749h0M2104 736h0M2080 739h0"/><path stroke="#dfff20" d="M2024 848h0M2161 797h0M2011 835h0M2023 848h0M2084 738h0M2116 738h0M2043 841h0M1916 903h0M2137 802h0M2156 798h0M2161 769h0M1922 880h0M2013 841h0M2084 822h0M1962 873h0M2015 813h0M2021 798h0M1917 903h0M1964 876h0M1947 918h0M2039 842h0M2014 817h0M1967 889h0M2158 768h0M2016 842h0M2014 837h0M1918 888h0M2124 804h0M2028 784h0M2103 812h0M2165 777h0M2038 842h0M2158 794h0M2160 792h0M2060 749h0M2128 744h0M2018 808h0M2153 765h0M2014 824h0"/><path stroke="#f4ff0b" d="M2134 800h0M1917 895h0M1951 915h0M1917 895h0M2104 737h0M2062 748h0M2043 763h0M2018 841h0M2024 844h0M2162 776h0M2041 839h0M2144 757h0M2024 844h0M2152 765h0M1938 918h0M2110 809h0M2156 769h0M2059 830h0M2152 766h0M2163 785h0M2039 769h0M2160 789h0M2017 838h0M2089 818h0M2017 815h0M2158 790h0M2095 815h0M1951 871h0M2157 790h0M1932 917h0M2018 812h0M2129 746h0M2148 794h0M1945 870h0M2016 820h0M1917 895h0M2054 754h0M2101 812h0M2157 789h0M1951 871h0M2018 812h0M1925 912h0M1922 883h0M2159 780h0M1959 907h0M2019 809h0M1953 912h0"/><path stroke="#fff400" d="M2156 786h0M2146 793h0M2017 822h0M2157 780h0M2147 764h0M2144 761h0M1952 913h0M2150 768h0M2156 784h0M2157 782h0M2017 827h0M2150 768h0M2019 815h0M2089 816h0M2030 840h0M2155 778h0M2025 839h0M2134 752h0M2151 771h0M2147 791h0M2039 836h0M1929 914h0M2020 836h0M2139 795h0M2141 794h0M2018 825h0M2039 836h0M2151 771h0M2153 775h0M2031 839h0M2019 818h0M1919 896h0M2050 759h0M2139 794h0M1931 875h0M1926 879h0M2067 747h0M2144 791h0M2031 784h0M1921 904h0M1919 896h0M2120 802h0M2034 837h0M2147 768h0M1960 879h0M1921 904h0M2023 835h0M1963 893h0M1920 901h0M2109 806h0M2021 812h0M2021 811h0M2058 826h0M2141 791h0M2150 784h0M1963 893h0M1938 915h0"/><path stroke="#ffdf00" d="M2132 796h0M2024 835h0M2023 804h0M2024 835h0M2056 827h0M2100 740h0M2101 809h0M2023 807h0M2136 793h0M2020 822h0M2122 746h0M1942 915h0M1944 873h0M1924 883h0M1959 880h0M2026 834h0M2059 753h0M2069 748h0M2065 823h0M1956 906h0M1920 893h0M2094 812h0M1925 908h0M1921 900h0M2057 825h0M2022 818h0M2139 790h0M2022 825h0M1946 874h0M2033 783h0M2024 829h0M2133 793h0M2033 833h0M2142 785h0M2142 766h0M1955 878h0M2024 827h0"/><path stroke="#ffca00" d="M2044 829h0M2024 825h0M2078 745h0M2024 822h0M2034 831h0M2057 755h0M1940 875h0M2027 828h0M2034 830h0M2048 826h0M2136 760h0M2035 781h0M2112 802h0M2029 829h0M1938 876h0M2142 778h0M2045 827h0M2130 792h0M2082 815h0M2142 776h0M1957 901h0M1950 909h0M2126 794h0M2141 773h0M2099 808h0M2052 824h0M2126 794h0M1926 906h0M1925 904h0M2114 800h0M2111 801h0M2048 765h0M2036 828h0M2058 756h0M2113 745h0M2034 828h0M2026 817h0M2131 790h0M2140 772h0M1933 910h0"/><path stroke="#ffb500" d="M2054 823h0M2058 756h0M2079 816h0M2033 827h0M2120 797h0M2073 818h0M2111 801h0M2089 812h0M2114 746h0M2066 820h0M2050 824h0M2134 761h0M2042 826h0M2030 824h0M1923 894h0M2098 807h0M2127 753h0M1929 882h0M2059 821h0M2124 793h0M1956 901h0M1953 905h0M1958 887h0M2097 807h0M2131 758h0M2061 754h0M1938 877h0M2128 790h0M2080 746h0M2134 762h0M1924 901h0M2136 767h0M1929 907h0M2134 762h0M2029 819h0M2077 816h0M1955 902h0M1951 880h0M2129 757h0M2036 783h0M2029 805h0M1957 893h0M1955 900h0"/><path stroke="#ff9f00" d="M2123 792h0M2065 819h0M2060 756h0M1945 909h0M2116 797h0M2133 764h0M2036 785h0M2039 780h0M2052 821h0M1925 892h0M2042 775h0M1929 905h0M2094 744h0M1926 889h0M1927 886h0M1936 909h0M2067 817h0M1956 894h0M2031 810h0M2088 810h0M2035 790h0M2037 820h0M1925 893h0M1955 896h0M2077 748h0M2134 770h0M2132 780h0M1935 880h0M2126 757h0M1930 884h0M2075 814h0M2070 816h0M2033 798h0M1929 886h0M2131 763h0M2132 766h0"/><path stroke="#ff8a00" d="M1945 907h0M1952 901h0M2039 819h0M2130 764h0M2113 748h0M2131 766h0M1935 881h0M1954 890h0M1939 880h0M2033 803h0M2057 760h0M2073 751h0M1953 888h0M2035 793h0M2124 787h0M2060 817h0M2047 818h0M2128 762h0M2044 818h0M2095 746h0M2132 774h0M1952 886h0M2123 756h0M2128 782h0M2039 784h0M1931 886h0M2108 748h0M2048 771h0M1944 906h0M1952 899h0M2062 816h0M2047 772h0M2086 808h0M1952 899h0M2034 799h0M1932 884h0M2130 769h0M1952 887h0M2035 810h0M2111 749h0"/><path stroke="#ff7500" d="M2054 817h0M1932 885h0M2076 812h0M1928 893h0M1948 903h0M2079 811h0M1936 883h0M1941 882h0M1929 890h0M1951 899h0M2121 756h0M2044 778h0M2061 759h0M2104 748h0M1935 884h0M1952 891h0M2126 762h0M2036 794h0M1930 900h0M1939 883h0M1939 905h0M2115 791h0M2101 747h0M1945 883h0M2100 800h0M2040 786h0M2086 807h0M1944 904h0M2097 747h0M2128 772h0M2128 777h0M2037 807h0M2038 809h0M2119 788h0M2095 747h0M1934 886h0M1930 892h0M2037 797h0M1950 896h0M2118 755h0M1938 904h0M2119 787h0M2124 761h0M2117 754h0M2050 772h0M2060 814h0M2039 789h0M2095 802h0"/><path stroke="#ff6000" d="M1934 886h0M2046 776h0M2114 753h0M1950 894h0M2116 754h0M2039 789h0M1931 891h0M2124 763h0M2038 802h0M2049 773h0M2042 811h0M1949 896h0M2110 792h0M2066 757h0M1942 885h0M2040 808h0M2038 798h0M2124 765h0M1942 885h0M1946 887h0M2066 758h0M2112 791h0M2083 750h0M1947 897h0M1948 892h0M2125 769h0M2038 799h0M2062 760h0M1936 888h0M2045 780h0M1935 889h0M2091 803h0M1933 892h0M1934 898h0M2104 796h0M2125 774h0M2054 812h0M2091 749h0M1947 891h0M1947 894h0M1941 900h0M1940 900h0"/><path stroke="#ff4a00" d="M2100 750h0M2040 793h0M1944 888h0M2040 800h0M2110 752h0M1937 888h0M1934 897h0M2060 812h0M2098 749h0M1944 889h0M1936 899h0M2041 805h0M1935 897h0M2118 784h0M2097 750h0M1945 896h0M2041 803h0M2102 796h0M1938 889h0M1942 889h0M2077 753h0M1942 889h0M2123 769h0M1943 897h0M2114 787h0M2055 769h0M1944 893h0M2099 750h0M2119 782h0M2044 806h0M2098 750h0M2042 804h0M2109 791h0M2096 750h0M2091 751h0M2115 785h0M1940 893h0M2042 792h0"/><path stroke="#ff3500" d="M2046 782h0M2077 806h0M2103 752h0M2099 751h0M2118 781h0M2062 763h0M2089 751h0M2083 753h0M2117 781h0M2113 758h0M2099 752h0M2110 756h0M2063 808h0M2104 792h0M2060 809h0M2048 781h0M2119 776h0M2095 797h0M2060 808h0M2065 762h0M2064 763h0M2111 786h0M2070 807h0M2085 753h0M2045 790h0M2092 752h0M2045 792h0"/><path stroke="#ff2000" d="M2058 769h0M2117 777h0M2057 807h0M2045 791h0M2096 752h0M2051 805h0M2090 753h0M2112 783h0M2069 806h0M2084 754h0M2103 754h0M2080 803h0M2057 806h0M2054 806h0M2053 776h0M2117 768h0M2075 804h0M2046 793h0M2115 765h0M2116 767h0M2086 800h0M2069 805h0M2113 781h0M2053 804h0M2062 767h0M2055 805h0M2047 797h0M2050 801h0M2079 802h0"/><path stroke="#ff0b00" d="M2097 793h0M2052 803h0M2101 755h0M2049 787h0M2049 799h0M2062 805h0M2115 770h0M2048 794h0M2048 797h0M2115 773h0M2069 762h0M2095 794h0M2099 755h0M2072 803h0M2048 792h0M2088 797h0M2049 796h0M2049 791h0M2070 762h0M2112 763h0M2072 761h0M2082 800h0M2049 792h0M2073 802h0M2113 766h0M2114 773h0M2051 799h0M2084 799h0M2063 803h0M2112 766h0M2051 785h0"/><path stroke="#f40000" d="M2060 771h0M2108 782h0M2073 761h0M2105 784h0M2062 802h0M2050 793h0M2053 799h0M2063 769h0M2107 762h0M2067 801h0M2107 782h0M2082 758h0M2061 801h0M2082 797h0M2109 777h0M2066 801h0M2057 778h0M2055 798h0M2063 770h0M2099 788h0M2094 757h0M2109 767h0M2096 758h0M2053 789h0"/><path stroke="#df0000" d="M2097 758h0M2095 790h0M2090 758h0M2109 770h0M2071 799h0M2078 761h0M2078 797h0M2108 769h0M2058 780h0M2068 799h0M2079 761h0M2062 774h0M2091 791h0M2055 791h0M2082 796h0M2058 781h0M2094 789h0M2077 762h0M2104 764h0M2056 788h0M2101 783h0"/><path stroke="#ca0000" d="M2058 794h0M2064 773h0M2106 769h0M2064 773h0M2087 760h0M2105 776h0M2104 778h0M2105 767h0M2095 787h0M2059 792h0M2066 796h0M2074 766h0M2059 789h0M2104 769h0M2079 794h0M2095 761h0M2078 764h0M2100 764h0M2079 794h0M2099 781h0M2095 762h0M2090 761h0M2061 780h0M2083 762h0M2061 791h0M2085 791h0M2077 765h0"/><path stroke="#b50000" d="M2103 774h0M2103 772h0M2102 768h0M2060 788h0M2093 786h0M2068 794h0M2085 791h0M2077 765h0M2061 786h0M2074 794h0M2097 764h0M2061 784h0M2064 779h0M2100 778h0M2068 793h0M2080 792h0M2101 768h0M2082 764h0M2101 772h0M2063 782h0M2083 764h0M2098 779h0M2070 771h0M2089 787h0M2101 771h0M2067 775h0M2079 791h0M2091 785h0M2089 787h0M2071 771h0M2067 775h0M2093 765h0"/><path stroke="#9f0000" d="M2097 767h0M2080 766h0M2082 766h0M2091 765h0M2066 784h0M2087 765h0M2097 776h0M2079 789h0M2087 786h0M2096 769h0M2067 780h0M2084 786h0M2082 787h0M2075 771h0M2081 768h0M2083 786h0M2076 788h0M2070 779h0M2069 781h0M2069 784h0M2089 767h0M2089 767h0M2069 780h0"/><path stroke="#8a0000" d="M2086 768h0M2071 785h0M2086 784h0M2087 783h0M2071 785h0M2082 786h0M2071 778h0M2093 776h0M2079 786h0M2093 771h0M2092 777h0M2083 784h0M2072 782h0M2072 780h0M2073 777h0M2091 775h0M2078 773h0M2079 772h0M2080 772h0M2090 773h0M2079 782h0M2078 775h0M2087 777h0M2078 781h0M2082 781h0M2080 777h0M2081 777h0M2083 777h0M2085 778h0M2078 777h0M2084 774h0M2083 777h0M2082 775h0"/></g>
<line x1="1705.0" y1="1123.7" x2="2252.6" y2="638.4" stroke="#000" stroke-width="2.4" stroke-dasharray="9.3 7.2"/>
<line x1="1705.0" y1="1017.9" x2="2252.6" y2="701.5" stroke="#e8141c" stroke-width="2.6"/>
<path d="M1705.0 1123.7v-5.6M1705.0 638.4v5.6M1705.0 1123.7h5.6M2252.6 1123.7h-5.6M1887.5 1123.7v-5.6M1887.5 638.4v5.6M1705.0 961.9h5.6M2252.6 961.9h-5.6M2070.1 1123.7v-5.6M2070.1 638.4v5.6M1705.0 800.2h5.6M2252.6 800.2h-5.6M2252.6 1123.7v-5.6M2252.6 638.4v5.6M1705.0 638.4h5.6M2252.6 638.4h-5.6" stroke="#262626" stroke-width="1.3" fill="none"/>
<rect x="1705.0" y="638.4" width="547.6" height="485.3" fill="none" stroke="#3a3a3a" stroke-width="1.15"/>
<g font-size="35"><text x="1705.0" y="1156.6" text-anchor="middle">0.001</text><text x="1697.0" y="1123.9" text-anchor="end">0.001</text><text x="1887.5" y="1156.6" text-anchor="middle">0.01</text><text x="1697.0" y="973.4" text-anchor="end">0.01</text><text x="2070.1" y="1156.6" text-anchor="middle">0.1</text><text x="1697.0" y="811.7" text-anchor="end">0.1</text><text x="2252.6" y="1156.6" text-anchor="middle">1</text><text x="1697.0" y="653.1" text-anchor="end">1</text></g>
<g font-size="36">
<text x="1722.9" y="681.0">R<tspan font-size="24" dy="-11">2</tspan><tspan dy="11">=0.45</tspan></text>
<text x="1722.9" y="723.7">RMSE=0.08 m<tspan font-size="24" dy="-10.5">-1</tspan></text>
<text x="1722.9" y="766.4">MAPD=63.7%</text>
<text x="1722.9" y="809.1">Number=1483</text>
</g>
<text x="2240.1" y="1105.3" font-size="40" text-anchor="end">(F)</text>
<text x="1977.7" y="1207.7" font-size="36.60" text-anchor="middle"><tspan>In situ Rrs estimated a</tspan><tspan font-size="28.2" dy="17.9">dg</tspan><tspan dy="-17.9">(443) (m</tspan><tspan font-size="28.2" dy="-18.3">-1</tspan><tspan dy="18.3">)</tspan></text>
<text transform="translate(1630.4 881.0) rotate(-90)" font-size="36.60" text-anchor="middle"><tspan>OC-XGBRT a</tspan><tspan font-size="27.5" dy="17.6">dg</tspan><tspan dy="-17.6">(443) (m</tspan><tspan font-size="27.5" dy="-17.9">-1</tspan><tspan dy="17.9">)</tspan></text>
<rect x="2276.4" y="639.7" width="28.6" height="481.3" fill="url(#jet)" stroke="#2a2a2a" stroke-width="1.2"/>
<path d="M2305.0 1024.7h-5M2305.0 928.5h-5M2305.0 832.2h-5M2305.0 736.0h-5" stroke="#300" stroke-width="1.3"/>
<g font-size="35"><text x="2315.0" y="1132.7">0</text><text x="2315.0" y="1036.4">0.2</text><text x="2315.0" y="940.2">0.4</text><text x="2315.0" y="843.9">0.6</text><text x="2315.0" y="747.7">0.8</text><text x="2315.0" y="651.4">1</text></g>
</g>
<g id="pG">
<path d="M256.0 1260.5V1742.4M114.3 1621.9H681.0M397.7 1260.5V1742.4M114.3 1501.5H681.0M539.3 1260.5V1742.4M114.3 1381.0H681.0" stroke="#e3e3e3" stroke-width="1.2" fill="none"/>
<g fill="none" stroke-width="5.0" stroke-linecap="round"><path stroke="#00008a" d="M459 1720h0M471 1658h0M200 1571h0M176 1599h0M147 1664h0M149 1659h0M447 1691h0M531 1525h0M167 1712h0M526 1524h0"/><path stroke="#00009f" d="M444 1410h0M488 1615h0M505 1539h0M484 1497h0M266 1470h0M362 1735h0M183 1714h0M472 1621h0M439 1632h0M466 1621h0M385 1725h0M194 1717h0M429 1706h0M195 1716h0M416 1408h0M229 1737h0M446 1616h0M431 1631h0M421 1652h0M410 1720h0M334 1737h0M465 1445h0M508 1576h0M477 1490h0M313 1440h0M489 1546h0M405 1713h0M462 1443h0M416 1697h0M437 1423h0M342 1426h0M425 1417h0M490 1552h0M237 1732h0M411 1693h0M231 1728h0"/><path stroke="#0000b5" d="M478 1592h0M447 1586h0M404 1416h0M403 1705h0M473 1523h0M247 1732h0M498 1584h0M478 1585h0M498 1572h0M192 1686h0M447 1436h0M492 1587h0M235 1533h0M494 1578h0M286 1466h0M468 1555h0M458 1563h0M277 1732h0M449 1571h0M429 1589h0M367 1712h0M463 1548h0M289 1730h0M439 1575h0M308 1729h0M464 1466h0M237 1545h0M387 1686h0M418 1598h0M423 1590h0M247 1523h0M237 1559h0M404 1650h0"/><path stroke="#0000ca" d="M279 1725h0M198 1614h0M276 1486h0M298 1723h0M355 1711h0M377 1684h0M390 1673h0M369 1690h0M393 1667h0M459 1532h0M404 1609h0M318 1719h0M240 1569h0M336 1717h0M258 1717h0M189 1648h0M290 1719h0M350 1709h0M399 1625h0M248 1532h0M234 1705h0M356 1700h0M395 1653h0M363 1682h0M262 1714h0M392 1655h0"/><path stroke="#0000df" d="M313 1711h0M327 1711h0M381 1665h0M373 1430h0M292 1709h0M351 1692h0M317 1708h0M296 1706h0M221 1599h0M445 1547h0M345 1700h0M287 1481h0M330 1707h0M363 1662h0M320 1704h0M336 1704h0M378 1430h0M249 1545h0M390 1636h0M197 1628h0M215 1689h0M367 1659h0M268 1514h0M453 1469h0M340 1668h0M197 1631h0M338 1673h0M369 1657h0M377 1657h0M352 1652h0M347 1656h0M339 1687h0M338 1690h0M332 1675h0M298 1697h0M195 1641h0M332 1690h0M323 1681h0M376 1653h0M445 1460h0M383 1431h0M332 1664h0M272 1705h0M332 1449h0M379 1644h0M255 1705h0M384 1630h0M301 1689h0M379 1641h0M333 1659h0M385 1621h0M382 1632h0M361 1635h0M309 1677h0M383 1619h0M380 1624h0M242 1698h0"/><path stroke="#0000f4" d="M255 1541h0M393 1434h0M256 1702h0M377 1624h0M202 1668h0M253 1556h0M435 1456h0M214 1683h0M334 1649h0M316 1463h0M453 1516h0M291 1685h0M299 1679h0M337 1642h0M387 1605h0M299 1677h0M372 1616h0M300 1676h0M225 1687h0M258 1697h0M264 1531h0M201 1657h0M330 1644h0M428 1557h0M232 1688h0M265 1531h0M268 1694h0M424 1451h0M450 1480h0M386 1437h0M356 1620h0M262 1693h0"/><path stroke="#000bff" d="M392 1596h0M261 1544h0M271 1526h0M235 1595h0M267 1692h0M348 1624h0M206 1632h0M289 1496h0M394 1592h0M326 1640h0M444 1528h0M349 1447h0M300 1665h0M369 1608h0M313 1470h0M446 1477h0M217 1618h0M274 1684h0M277 1522h0M207 1634h0M206 1656h0M272 1530h0M445 1478h0M446 1521h0M286 1507h0M288 1503h0M241 1684h0M409 1446h0M342 1622h0M265 1684h0M245 1588h0M265 1684h0M410 1447h0M398 1584h0M289 1502h0M329 1633h0M321 1639h0"/><path stroke="#0020ff" d="M448 1492h0M330 1460h0M315 1644h0M270 1680h0M407 1447h0M305 1653h0M260 1682h0M339 1622h0M207 1644h0M226 1678h0M408 1447h0M229 1679h0M448 1499h0M231 1605h0M444 1482h0M387 1591h0M263 1679h0M292 1662h0M336 1459h0M391 1588h0M293 1661h0M243 1679h0M309 1479h0M353 1608h0M431 1466h0M298 1655h0M258 1576h0M211 1638h0M301 1488h0M213 1660h0M257 1677h0M282 1524h0M352 1607h0M335 1619h0M227 1674h0M395 1445h0"/><path stroke="#0035ff" d="M341 1457h0M303 1647h0M274 1670h0M275 1669h0M220 1624h0M370 1597h0M218 1665h0M409 1452h0M216 1662h0M215 1659h0M268 1670h0M407 1567h0M272 1667h0M218 1631h0M441 1519h0M353 1603h0M347 1455h0M228 1670h0M280 1535h0M309 1484h0M365 1448h0M375 1592h0M331 1617h0M245 1671h0M315 1632h0M231 1670h0M226 1668h0M437 1526h0M241 1671h0M389 1583h0M271 1558h0M216 1645h0M341 1608h0M223 1664h0"/><path stroke="#004aff" d="M354 1452h0M419 1552h0M429 1539h0M321 1623h0M440 1489h0M304 1492h0M283 1656h0M361 1451h0M434 1478h0M306 1491h0M226 1663h0M231 1618h0M220 1654h0M415 1459h0M369 1449h0M420 1549h0M430 1473h0M229 1622h0M307 1490h0M285 1652h0M297 1507h0M400 1570h0M235 1616h0M269 1659h0M279 1655h0M296 1641h0M272 1565h0M232 1620h0M313 1627h0M279 1654h0M271 1658h0M258 1661h0M278 1555h0M283 1543h0M404 1454h0M439 1506h0M226 1659h0M262 1584h0M289 1646h0M237 1615h0"/><path stroke="#0060ff" d="M279 1553h0M238 1615h0M360 1453h0M284 1544h0M285 1648h0M297 1638h0M243 1609h0M300 1505h0M378 1585h0M247 1605h0M265 1583h0M257 1594h0M283 1549h0M226 1653h0M294 1639h0M228 1632h0M264 1656h0M248 1605h0M252 1600h0M326 1475h0M292 1527h0M398 1568h0M284 1548h0M341 1600h0M278 1563h0M288 1541h0M234 1657h0M232 1627h0M435 1487h0M315 1485h0M230 1654h0M304 1502h0M276 1566h0M329 1473h0M231 1654h0M230 1633h0M240 1657h0M322 1611h0M285 1551h0M243 1656h0M296 1634h0M243 1656h0M263 1590h0M410 1556h0M283 1556h0"/><path stroke="#0075ff" d="M230 1649h0M276 1569h0M230 1637h0M430 1479h0M229 1644h0M276 1647h0M334 1601h0M294 1529h0M230 1643h0M262 1651h0M273 1647h0M341 1597h0M306 1623h0M231 1647h0M275 1573h0M246 1612h0M289 1546h0M232 1646h0M328 1604h0M265 1649h0M270 1648h0M252 1652h0M313 1616h0M259 1598h0M294 1633h0M372 1453h0M239 1651h0M380 1580h0M283 1562h0M309 1619h0M317 1486h0M300 1627h0M237 1649h0M293 1537h0M329 1601h0M307 1621h0M288 1636h0M263 1648h0M234 1644h0M386 1576h0M259 1600h0M341 1595h0M432 1520h0M252 1649h0M238 1647h0M402 1458h0M236 1643h0M434 1509h0M311 1496h0M237 1632h0M236 1641h0M311 1615h0M240 1628h0"/><path stroke="#008aff" d="M314 1612h0M433 1495h0M311 1614h0M270 1586h0M240 1643h0M278 1574h0M434 1505h0M412 1549h0M264 1596h0M287 1633h0M355 1460h0M241 1632h0M323 1482h0M344 1591h0M260 1643h0M339 1593h0M305 1618h0M323 1601h0M261 1643h0M376 1580h0M252 1613h0M343 1591h0M242 1633h0M289 1561h0M252 1613h0M355 1587h0M377 1579h0M349 1589h0M252 1614h0M282 1573h0M245 1632h0M246 1627h0M268 1639h0M297 1538h0M433 1503h0M322 1600h0M313 1607h0M258 1609h0M248 1631h0M343 1468h0M255 1638h0M319 1601h0M278 1580h0M271 1636h0"/><path stroke="#009fff" d="M367 1582h0M277 1633h0M303 1614h0M294 1558h0M263 1605h0M284 1629h0M253 1634h0M349 1587h0M262 1636h0M251 1627h0M293 1562h0M381 1575h0M255 1634h0M299 1534h0M280 1580h0M259 1611h0M264 1635h0M280 1630h0M330 1592h0M303 1613h0M256 1617h0M384 1572h0M254 1626h0M349 1586h0M301 1529h0M257 1619h0M416 1541h0M257 1629h0M300 1537h0M265 1606h0M431 1504h0M268 1631h0M262 1630h0M291 1570h0M360 1461h0M430 1510h0M430 1507h0M263 1611h0M280 1627h0M427 1488h0M368 1580h0M275 1592h0M308 1512h0M309 1508h0M294 1617h0M260 1619h0M292 1571h0M261 1625h0M262 1626h0M413 1545h0M289 1620h0M289 1575h0M302 1533h0M263 1615h0M419 1536h0M427 1519h0M422 1480h0M299 1612h0M289 1576h0"/><path stroke="#00b5ff" d="M272 1601h0M281 1586h0M349 1584h0M287 1620h0M282 1585h0M283 1584h0M299 1564h0M276 1595h0M388 1567h0M347 1468h0M320 1492h0M286 1581h0M397 1461h0M286 1581h0M429 1504h0M297 1570h0M285 1619h0M314 1594h0M334 1586h0M283 1586h0M272 1622h0M281 1620h0M424 1526h0M274 1602h0M383 1458h0M308 1600h0M269 1619h0M308 1516h0M276 1620h0M279 1619h0M303 1539h0M291 1613h0M278 1619h0M270 1615h0M277 1619h0M304 1602h0M300 1605h0M287 1584h0M367 1460h0M311 1594h0M299 1571h0M276 1601h0M277 1618h0M321 1588h0M274 1616h0M397 1558h0M280 1616h0M303 1563h0M276 1615h0M298 1576h0M284 1590h0M303 1542h0M276 1608h0M280 1599h0M420 1481h0M278 1604h0M292 1609h0M311 1589h0M321 1586h0M279 1601h0M293 1608h0M420 1530h0M285 1591h0M308 1520h0M371 1575h0M284 1610h0"/><path stroke="#00caff" d="M350 1581h0M322 1585h0M319 1585h0M288 1608h0M293 1585h0M302 1597h0M306 1591h0M305 1531h0M313 1585h0M287 1593h0M308 1587h0M308 1587h0M299 1583h0M318 1584h0M286 1606h0M300 1583h0M307 1586h0M303 1591h0M305 1579h0M309 1516h0M290 1591h0M297 1598h0M305 1536h0M298 1597h0M295 1601h0M306 1583h0M312 1583h0M307 1575h0M289 1603h0M373 1574h0M298 1596h0M342 1474h0M301 1590h0M289 1601h0M293 1591h0M291 1597h0M377 1460h0M413 1473h0M421 1527h0M308 1568h0M325 1581h0M331 1581h0M316 1505h0M423 1490h0M382 1460h0M322 1579h0"/><path stroke="#00dfff" d="M348 1471h0M308 1555h0M333 1483h0M363 1575h0M327 1578h0M313 1567h0M424 1496h0M368 1463h0M309 1554h0M360 1576h0M404 1547h0M342 1578h0M421 1488h0M323 1575h0M381 1462h0M314 1513h0"/><path stroke="#00f4ff" d="M312 1557h0M312 1522h0M415 1480h0M310 1549h0M312 1557h0M328 1575h0M310 1542h0M328 1491h0M323 1572h0M317 1565h0M386 1464h0M420 1491h0M423 1504h0M408 1475h0M326 1494h0M405 1472h0M386 1464h0M324 1571h0M386 1464h0M323 1570h0M422 1505h0M422 1504h0M312 1535h0M312 1545h0M398 1469h0M420 1517h0"/><path stroke="#0bfff4" d="M322 1502h0M320 1506h0M337 1483h0M332 1573h0M341 1575h0M380 1564h0M315 1520h0M351 1574h0M336 1573h0M337 1484h0M387 1558h0M314 1524h0M313 1544h0M414 1484h0M419 1519h0M414 1529h0M398 1549h0M415 1526h0M341 1573h0M315 1523h0M412 1481h0M408 1538h0M315 1525h0M327 1568h0M402 1472h0M368 1569h0M319 1511h0"/><path stroke="#20ffdf" d="M374 1465h0M316 1551h0M321 1509h0M385 1558h0M413 1483h0M338 1485h0M327 1497h0M411 1531h0M329 1494h0M317 1550h0M320 1511h0M418 1497h0M396 1471h0M319 1518h0"/><path stroke="#35ffca" d="M331 1567h0M410 1482h0M400 1544h0M364 1469h0M377 1562h0M317 1534h0M317 1526h0M418 1507h0M333 1491h0M416 1494h0M325 1503h0M416 1492h0M320 1551h0M406 1536h0M385 1468h0M385 1468h0M387 1555h0M350 1569h0M339 1568h0M375 1468h0M410 1529h0M354 1569h0M413 1488h0M415 1519h0M378 1468h0M319 1546h0M318 1536h0M411 1529h0"/><path stroke="#4affb5" d="M323 1510h0M399 1543h0M417 1504h0M343 1568h0M335 1566h0M326 1560h0M379 1559h0M395 1547h0M377 1560h0M414 1518h0M320 1542h0M405 1480h0M348 1568h0M331 1497h0M320 1540h0M365 1565h0M321 1525h0M326 1556h0M345 1567h0M393 1548h0"/><path stroke="#60ff9f" d="M401 1477h0M352 1567h0M320 1538h0M371 1562h0M415 1510h0M351 1567h0M373 1561h0M402 1478h0M330 1560h0M326 1508h0M331 1560h0M412 1492h0M392 1547h0M398 1477h0M404 1481h0M323 1546h0M403 1480h0M353 1565h0M328 1556h0M372 1560h0M325 1551h0"/><path stroke="#75ff8a" d="M378 1471h0M333 1560h0M386 1552h0M369 1472h0M337 1492h0M336 1494h0M412 1517h0M370 1560h0M323 1524h0M339 1490h0M377 1471h0M328 1554h0M395 1476h0M370 1472h0M397 1541h0M345 1485h0M381 1472h0M412 1513h0M397 1541h0"/><path stroke="#8aff75" d="M337 1495h0M405 1485h0M327 1514h0M383 1473h0M324 1541h0M365 1561h0M383 1552h0M374 1472h0M411 1499h0M334 1557h0M393 1476h0M412 1501h0M350 1563h0M382 1551h0M373 1557h0M332 1503h0M377 1473h0M325 1539h0M372 1474h0M350 1562h0"/><path stroke="#9fff60" d="M330 1551h0M335 1556h0M367 1559h0M326 1527h0M325 1532h0M392 1542h0M333 1554h0M404 1529h0M407 1521h0M330 1549h0M371 1475h0M358 1560h0M326 1529h0M410 1510h0M334 1554h0M408 1495h0M394 1479h0"/><path stroke="#b5ff4a" d="M346 1559h0M368 1476h0M334 1553h0M328 1541h0M405 1523h0M393 1540h0M330 1547h0M330 1515h0M328 1521h0M337 1555h0M332 1548h0M343 1557h0M374 1553h0M328 1536h0M348 1558h0M408 1515h0M346 1558h0M342 1557h0M328 1533h0"/><path stroke="#caff35" d="M331 1544h0M377 1476h0M332 1547h0M366 1556h0M388 1543h0M337 1553h0M390 1541h0M347 1489h0M358 1558h0M407 1499h0M353 1485h0M359 1557h0M330 1541h0M406 1496h0M334 1548h0M350 1558h0M361 1480h0M332 1544h0M365 1556h0M348 1557h0M342 1555h0M407 1508h0M400 1487h0M342 1555h0"/><path stroke="#dfff20" d="M407 1513h0M400 1487h0M374 1477h0M359 1557h0M377 1550h0M407 1504h0M357 1483h0M357 1557h0M396 1484h0M391 1539h0M406 1504h0M397 1485h0M381 1478h0M344 1554h0M396 1533h0M346 1492h0M395 1534h0M400 1527h0M335 1510h0M332 1517h0M401 1525h0M398 1530h0M333 1517h0M390 1538h0"/><path stroke="#f4ff0b" d="M397 1530h0M351 1488h0M342 1497h0M366 1553h0M390 1482h0M406 1506h0M403 1519h0M384 1479h0M334 1541h0M360 1554h0M373 1479h0M349 1554h0M394 1485h0M397 1488h0M395 1486h0M378 1479h0M395 1532h0M401 1493h0M341 1550h0M340 1549h0"/><path stroke="#fff400" d="M333 1536h0M402 1497h0M387 1539h0M401 1494h0M339 1547h0M355 1487h0M365 1552h0M334 1535h0M404 1507h0M364 1483h0M338 1545h0M403 1503h0M347 1494h0M342 1548h0M403 1501h0M393 1486h0M403 1506h0"/><path stroke="#ffdf00" d="M403 1508h0M344 1498h0M372 1548h0M402 1500h0M386 1482h0M337 1511h0M403 1512h0M342 1547h0M370 1549h0M396 1489h0M337 1541h0M338 1510h0M335 1533h0M348 1494h0M352 1551h0M401 1517h0M398 1493h0M391 1533h0M353 1551h0M345 1498h0M359 1486h0M361 1485h0M341 1504h0M338 1540h0M342 1546h0M335 1529h0"/><path stroke="#ffca00" d="M336 1523h0M349 1494h0M389 1485h0M336 1521h0M384 1483h0M399 1497h0M355 1489h0M397 1523h0M361 1486h0M362 1549h0M396 1525h0M401 1504h0M400 1514h0M347 1498h0M338 1514h0M349 1548h0M375 1544h0M377 1483h0M362 1549h0M391 1531h0M337 1523h0M337 1525h0M339 1513h0M337 1529h0M390 1487h0M348 1497h0"/><path stroke="#ffb500" d="M340 1511h0M382 1484h0M346 1546h0M397 1496h0M369 1546h0M399 1516h0M349 1547h0M369 1546h0M349 1547h0M390 1488h0M339 1537h0M375 1483h0M386 1535h0M353 1548h0M338 1519h0M385 1485h0M388 1487h0M351 1547h0M338 1531h0M361 1488h0M338 1530h0M389 1531h0"/><path stroke="#ff9f00" d="M341 1538h0M397 1517h0M396 1520h0M350 1546h0M393 1492h0M368 1545h0M346 1544h0M350 1546h0M348 1545h0M343 1540h0M393 1525h0M371 1544h0M339 1530h0M398 1501h0M360 1489h0M372 1485h0M364 1487h0M344 1506h0M377 1485h0M348 1500h0M371 1543h0M341 1536h0M340 1518h0M353 1546h0M343 1510h0M396 1498h0M353 1495h0M361 1489h0"/><path stroke="#ff8a00" d="M373 1542h0M370 1543h0M362 1546h0M368 1544h0M360 1546h0M349 1499h0M363 1488h0M373 1486h0M369 1486h0M397 1502h0M395 1498h0M375 1486h0M340 1530h0M349 1543h0M384 1534h0M377 1486h0M350 1543h0M360 1545h0M347 1502h0M350 1544h0M349 1543h0M348 1542h0M397 1509h0M380 1537h0M397 1513h0M347 1541h0M387 1489h0M393 1522h0M349 1501h0M343 1535h0M341 1525h0M352 1544h0M342 1516h0M343 1512h0M371 1542h0M396 1513h0M352 1543h0"/><path stroke="#ff7500" d="M396 1513h0M396 1512h0M350 1500h0M348 1503h0M394 1519h0M366 1543h0M371 1541h0M342 1528h0M396 1512h0M393 1521h0M376 1487h0M359 1544h0M390 1525h0M382 1534h0M350 1501h0M382 1488h0M380 1536h0M355 1543h0M396 1509h0M385 1531h0M343 1514h0M357 1543h0M377 1487h0M350 1541h0M353 1542h0M362 1543h0M355 1496h0M352 1542h0M376 1538h0M395 1511h0M364 1542h0M391 1495h0M343 1520h0M395 1506h0M395 1509h0M346 1509h0M345 1535h0M395 1507h0M370 1488h0"/><path stroke="#ff6000" d="M392 1520h0M354 1497h0M359 1543h0M365 1490h0M343 1525h0M353 1499h0M359 1543h0M344 1514h0M371 1488h0M374 1488h0M343 1529h0M389 1494h0M351 1540h0M350 1502h0M366 1541h0M362 1542h0M390 1495h0M381 1532h0M383 1531h0M385 1529h0M344 1530h0M361 1493h0M361 1542h0M351 1502h0M382 1532h0M394 1513h0M347 1510h0M376 1536h0M383 1531h0M383 1531h0M364 1541h0"/><path stroke="#ff4a00" d="M351 1502h0M394 1505h0M344 1527h0M362 1493h0M353 1500h0M345 1515h0M388 1494h0M383 1530h0M393 1514h0M370 1490h0M386 1493h0M354 1500h0M348 1509h0M345 1530h0M391 1499h0M375 1536h0M346 1515h0M347 1510h0M348 1535h0M372 1490h0M347 1532h0M377 1490h0M387 1525h0M365 1540h0M382 1491h0M381 1531h0M393 1509h0M360 1540h0M378 1490h0M345 1520h0M351 1537h0M346 1530h0M345 1522h0M393 1508h0M365 1539h0M383 1529h0"/><path stroke="#ff3500" d="M389 1498h0M376 1491h0M368 1491h0M383 1493h0M382 1492h0M392 1506h0M367 1492h0M392 1504h0M371 1536h0M346 1522h0M376 1534h0M378 1491h0M348 1511h0M355 1500h0M351 1536h0M379 1532h0M348 1531h0M355 1537h0M362 1495h0M372 1491h0M349 1532h0M354 1537h0M390 1501h0M392 1510h0M358 1498h0M347 1517h0M355 1537h0M387 1522h0M380 1493h0M390 1515h0M386 1497h0M373 1492h0"/><path stroke="#ff2000" d="M388 1521h0M386 1523h0M386 1496h0M376 1492h0M379 1531h0M389 1501h0M391 1512h0M348 1528h0M348 1525h0M355 1502h0M388 1500h0M382 1494h0M358 1537h0M372 1535h0M356 1536h0M349 1512h0M367 1493h0M348 1519h0M372 1535h0M386 1497h0M348 1525h0M390 1513h0M388 1518h0M384 1495h0M372 1493h0M352 1533h0M357 1536h0M369 1493h0M381 1528h0M390 1509h0M357 1536h0M368 1494h0M385 1497h0M388 1501h0M385 1497h0M381 1495h0M365 1495h0"/><path stroke="#ff0b00" d="M369 1535h0M378 1530h0M387 1501h0M360 1536h0M387 1500h0M388 1516h0M386 1520h0M383 1524h0M360 1499h0M350 1527h0M388 1514h0M357 1534h0M350 1522h0M372 1494h0M385 1499h0M363 1497h0M378 1528h0M351 1514h0M385 1520h0M365 1534h0M387 1516h0M379 1495h0M380 1526h0M371 1532h0M352 1528h0M350 1523h0M353 1529h0M382 1497h0"/><path stroke="#f40000" d="M376 1529h0M352 1527h0M366 1534h0M351 1524h0M364 1498h0M375 1529h0M356 1505h0M369 1496h0M385 1520h0M379 1496h0M351 1517h0M354 1508h0M369 1496h0M382 1498h0M387 1504h0M351 1519h0M376 1496h0M359 1501h0M357 1532h0M356 1531h0M381 1498h0M352 1525h0M371 1496h0M374 1496h0M352 1515h0M386 1504h0M386 1514h0M378 1527h0M360 1532h0M387 1511h0M374 1529h0M354 1510h0M354 1527h0M365 1532h0M362 1501h0"/><path stroke="#df0000" d="M354 1528h0M369 1497h0M354 1510h0M353 1525h0M374 1496h0M385 1503h0M366 1531h0M358 1531h0M354 1526h0M370 1497h0M354 1526h0M379 1498h0M354 1512h0M367 1531h0M383 1502h0M357 1528h0M373 1497h0M373 1528h0M355 1512h0M375 1526h0M363 1501h0M376 1498h0M354 1521h0M384 1515h0M382 1502h0M354 1519h0M372 1498h0M354 1515h0M362 1502h0"/><path stroke="#ca0000" d="M382 1502h0M361 1529h0M367 1500h0M375 1499h0M383 1504h0M355 1519h0M372 1499h0M384 1507h0M364 1502h0M357 1525h0M383 1508h0M379 1520h0M367 1528h0M374 1499h0M356 1512h0M363 1528h0M376 1524h0M383 1509h0M365 1528h0M367 1528h0M367 1501h0M373 1526h0M380 1519h0M356 1520h0M382 1507h0M356 1519h0M373 1500h0M356 1517h0"/><path stroke="#b50000" d="M358 1524h0M380 1519h0M376 1523h0M382 1515h0M380 1518h0M367 1502h0M361 1506h0M360 1526h0M359 1510h0M358 1524h0M356 1516h0M381 1516h0M378 1502h0M357 1522h0M357 1521h0M373 1501h0M363 1527h0M359 1509h0M380 1505h0M382 1512h0M357 1521h0M379 1518h0M381 1515h0M359 1524h0M374 1501h0M359 1510h0M357 1520h0M358 1512h0M358 1514h0M367 1502h0M360 1508h0M367 1503h0M366 1504h0M372 1502h0M367 1503h0M375 1502h0M368 1525h0M369 1525h0M368 1503h0M359 1520h0M366 1525h0M380 1514h0M371 1502h0"/><path stroke="#9f0000" d="M372 1523h0M361 1523h0M366 1505h0M380 1510h0M379 1508h0M369 1524h0M372 1503h0M379 1510h0M378 1506h0M377 1517h0M361 1521h0M379 1511h0M376 1519h0M362 1509h0M360 1519h0M368 1523h0M361 1512h0M360 1520h0M369 1523h0M372 1504h0M369 1523h0M378 1509h0M376 1517h0M377 1508h0M367 1506h0M362 1512h0M362 1512h0M377 1515h0M362 1520h0M361 1517h0M376 1507h0M373 1520h0M376 1516h0M368 1506h0M364 1510h0M375 1517h0"/><path stroke="#8a0000" d="M377 1509h0M362 1519h0M376 1508h0M363 1512h0M373 1519h0M372 1519h0M374 1506h0M365 1520h0M366 1508h0M375 1508h0M365 1520h0M375 1508h0M376 1510h0M375 1514h0M376 1512h0M363 1516h0M371 1507h0M368 1520h0M363 1514h0M367 1508h0M368 1507h0M364 1511h0M365 1510h0M363 1515h0M370 1507h0M363 1514h0M368 1519h0M369 1519h0M364 1516h0M372 1508h0M368 1519h0M374 1512h0M365 1517h0M371 1509h0M365 1516h0M368 1510h0M366 1517h0M373 1511h0M366 1516h0M372 1510h0M367 1516h0M372 1515h0M367 1516h0M366 1514h0M369 1515h0M370 1510h0M371 1513h0M368 1516h0M369 1515h0M371 1511h0M370 1512h0M371 1510h0"/></g>
<line x1="114.3" y1="1742.4" x2="681.0" y2="1260.5" stroke="#000" stroke-width="2.4" stroke-dasharray="9.3 7.2"/>
<line x1="114.3" y1="1704.0" x2="681.0" y2="1342.4" stroke="#e8141c" stroke-width="2.6"/>
<path d="M114.3 1742.4v-5.6M114.3 1260.5v5.6M114.3 1742.4h5.6M681.0 1742.4h-5.6M256.0 1742.4v-5.6M256.0 1260.5v5.6M114.3 1621.9h5.6M681.0 1621.9h-5.6M397.7 1742.4v-5.6M397.7 1260.5v5.6M114.3 1501.5h5.6M681.0 1501.5h-5.6M539.3 1742.4v-5.6M539.3 1260.5v5.6M114.3 1381.0h5.6M681.0 1381.0h-5.6M681.0 1742.4v-5.6M681.0 1260.5v5.6M114.3 1260.5h5.6M681.0 1260.5h-5.6" stroke="#262626" stroke-width="1.3" fill="none"/>
<rect x="114.3" y="1260.5" width="566.7" height="481.9" fill="none" stroke="#3a3a3a" stroke-width="1.15"/>
<g font-size="35"><text x="114.3" y="1783.0" text-anchor="middle">0.1</text><text x="111.0" y="1753.4" text-anchor="end">0.1</text><text x="256.0" y="1783.0" text-anchor="middle">1</text><text x="111.0" y="1633.4" text-anchor="end">1</text><text x="397.7" y="1783.0" text-anchor="middle">10</text><text x="111.0" y="1513.0" text-anchor="end">10</text><text x="539.3" y="1783.0" text-anchor="middle">100</text><text x="111.0" y="1392.5" text-anchor="end">100</text><text x="681.0" y="1783.0" text-anchor="middle">1000</text><text x="111.0" y="1274.1" text-anchor="end">1000</text></g>
<g font-size="36">
<text x="133.5" y="1303.2">R<tspan font-size="24" dy="-11">2</tspan><tspan dy="11">=0.39</tspan></text>
<text x="133.5" y="1345.9">RMSE=7.8 mg m<tspan font-size="24" dy="-10.5">-3</tspan></text>
<text x="133.5" y="1388.6">MAPD=65.2%</text>
<text x="133.5" y="1431.3">Number=1546</text>
</g>
<text x="665.2" y="1719.8" font-size="40" text-anchor="end">(G)</text>
<text x="398.6" y="1842.6" font-size="35.10" text-anchor="middle"><tspan>In situ Rrs estimated CHL (mg m</tspan><tspan font-size="27.0" dy="-17.6">-3</tspan><tspan dy="17.6">)</tspan></text>
<text transform="translate(43.9 1501.5) rotate(-90)" font-size="36.00" text-anchor="middle"><tspan>OC-SMART CHL (mg m</tspan><tspan font-size="27.0" dy="-17.6">-3</tspan><tspan dy="17.6">)</tspan></text>
<rect x="706.6" y="1260.5" width="28.2" height="480.5" fill="url(#jet)" stroke="#2a2a2a" stroke-width="1.2"/>
<path d="M734.8 1644.9h-5M734.8 1548.8h-5M734.8 1452.7h-5M734.8 1356.6h-5" stroke="#300" stroke-width="1.3"/>
<g font-size="35"><text x="744.8" y="1752.7">0</text><text x="744.8" y="1656.6">0.2</text><text x="744.8" y="1560.5">0.4</text><text x="744.8" y="1464.4">0.6</text><text x="744.8" y="1368.3">0.8</text><text x="744.8" y="1272.2">1</text></g>
</g>
<g id="pH">
<path d="M1089.0 1261.4V1741.1M902.8 1581.2H1461.4M1275.2 1261.4V1741.1M902.8 1421.3H1461.4" stroke="#e3e3e3" stroke-width="1.2" fill="none"/>
<g fill="none" stroke-width="5.0" stroke-linecap="round"><path stroke="#00008a" d="M1385 1613h0M1021 1495h0M979 1735h0M1355 1675h0M955 1610h0M1404 1494h0M1373 1369h0M979 1693h0M1310 1675h0M1258 1734h0"/><path stroke="#00009f" d="M1272 1720h0M993 1585h0M1286 1672h0M1003 1683h0M1327 1640h0M1333 1591h0M1038 1722h0M1103 1735h0M1074 1715h0M1263 1688h0"/><path stroke="#0000b5" d="M1373 1455h0M1168 1298h0M1109 1736h0M1310 1633h0M1367 1509h0M1006 1612h0M1320 1605h0M1242 1265h0M1199 1735h0M1302 1341h0M1300 1633h0M1331 1551h0M1283 1328h0M1248 1701h0M1171 1303h0M994 1632h0M1011 1566h0M1368 1462h0M1045 1711h0M1029 1684h0M1023 1551h0M1041 1706h0M1357 1520h0M1227 1707h0M1310 1593h0M1019 1556h0M1303 1609h0M1065 1701h0M1356 1515h0M1337 1386h0"/><path stroke="#0000ca" d="M1241 1272h0M1339 1403h0M1003 1644h0M1180 1326h0M1307 1579h0M1029 1557h0M1268 1297h0M1345 1518h0M1316 1355h0M1046 1686h0M1321 1359h0M1008 1636h0M1073 1508h0M1346 1497h0M1241 1689h0M1315 1561h0M1279 1631h0M1064 1689h0M1124 1727h0M1152 1737h0M1012 1641h0M1013 1641h0M1027 1577h0M1323 1526h0M1188 1729h0M1270 1318h0"/><path stroke="#0000df" d="M1319 1365h0M1333 1508h0M1030 1618h0M1303 1360h0M1210 1278h0M1199 1282h0M1038 1667h0M1312 1554h0M1352 1450h0M1102 1684h0M1259 1297h0M1187 1354h0M1140 1440h0M1321 1376h0M1167 1732h0M1334 1488h0M1029 1645h0M1081 1680h0M1240 1284h0M1277 1610h0M1116 1686h0M1120 1689h0"/><path stroke="#0000f4" d="M1325 1498h0M1347 1460h0M1329 1410h0M1276 1604h0M1212 1694h0M1173 1727h0M1342 1441h0M1181 1720h0M1131 1715h0M1133 1717h0M1336 1473h0M1100 1676h0M1039 1652h0M1196 1292h0M1176 1398h0M1117 1680h0M1175 1721h0M1182 1713h0M1303 1374h0M1039 1589h0M1307 1530h0M1322 1486h0M1151 1723h0M1041 1647h0M1231 1288h0M1182 1708h0M1264 1623h0M1073 1673h0M1047 1660h0M1336 1466h0M1341 1452h0M1264 1621h0M1267 1615h0M1123 1471h0M1195 1350h0M1044 1627h0M1249 1646h0M1232 1671h0M1318 1393h0M1303 1378h0"/><path stroke="#000bff" d="M1300 1551h0M1228 1676h0M1307 1514h0M1257 1629h0M1258 1319h0M1071 1533h0M1044 1608h0M1053 1560h0M1223 1680h0M1139 1707h0M1302 1537h0M1139 1705h0M1140 1707h0M1206 1688h0M1144 1713h0M1334 1437h0M1197 1363h0M1143 1709h0M1333 1463h0M1291 1558h0M1242 1652h0M1214 1683h0M1179 1698h0M1047 1631h0M1167 1710h0M1249 1303h0M1155 1713h0M1157 1712h0M1087 1510h0M1289 1380h0M1297 1544h0M1224 1673h0M1280 1375h0M1200 1360h0M1201 1353h0M1045 1582h0M1282 1565h0M1198 1309h0M1172 1692h0M1054 1656h0M1201 1362h0"/><path stroke="#0020ff" d="M1145 1679h0M1211 1294h0M1259 1603h0M1208 1295h0M1163 1687h0M1241 1646h0M1190 1685h0M1311 1484h0M1047 1587h0M1281 1381h0M1116 1663h0M1262 1364h0M1163 1682h0M1259 1362h0M1254 1607h0M1208 1298h0M1054 1620h0M1202 1374h0M1239 1302h0M1147 1675h0M1058 1564h0M1267 1576h0M1263 1582h0M1255 1601h0M1248 1335h0M1246 1625h0M1213 1673h0M1192 1680h0M1302 1392h0M1208 1347h0M1317 1412h0M1277 1381h0M1199 1678h0M1203 1315h0M1190 1679h0M1161 1676h0M1293 1523h0M1241 1640h0M1251 1358h0M1277 1561h0M1300 1502h0M1262 1580h0M1261 1367h0M1300 1502h0M1135 1667h0M1206 1371h0M1245 1311h0M1155 1673h0M1205 1307h0M1268 1569h0"/><path stroke="#0035ff" d="M1229 1654h0M1170 1674h0M1247 1327h0M1211 1341h0M1051 1596h0M1097 1659h0M1088 1661h0M1257 1582h0M1326 1446h0M1279 1556h0M1240 1347h0M1128 1661h0M1070 1549h0M1218 1352h0M1063 1654h0M1192 1672h0M1239 1637h0M1262 1571h0M1249 1591h0M1267 1376h0M1214 1340h0M1082 1529h0M1324 1442h0M1300 1397h0M1174 1411h0M1109 1495h0M1220 1349h0M1243 1329h0M1242 1332h0M1236 1307h0M1285 1543h0M1249 1583h0M1116 1654h0M1057 1610h0M1239 1311h0M1184 1667h0M1209 1309h0M1317 1458h0M1061 1644h0M1228 1346h0M1240 1601h0M1168 1665h0M1242 1318h0M1299 1494h0M1201 1665h0M1229 1344h0M1210 1319h0M1243 1586h0M1301 1401h0M1238 1602h0M1139 1661h0M1063 1646h0M1212 1308h0M1055 1585h0M1287 1518h0M1067 1652h0M1201 1662h0M1240 1586h0M1175 1661h0M1142 1660h0M1126 1653h0M1241 1575h0M1196 1661h0M1221 1337h0M1240 1325h0M1268 1558h0"/><path stroke="#004aff" d="M1189 1659h0M1229 1366h0M1075 1655h0M1296 1401h0M1214 1311h0M1238 1328h0M1246 1564h0M1306 1409h0M1318 1451h0M1235 1590h0M1215 1312h0M1232 1638h0M1102 1506h0M1252 1561h0M1284 1526h0M1163 1425h0M1192 1656h0M1316 1453h0M1232 1333h0M1218 1652h0M1253 1371h0M1297 1403h0M1216 1315h0M1160 1659h0M1297 1490h0M1238 1368h0M1285 1513h0M1149 1658h0M1219 1314h0M1247 1370h0M1119 1647h0M1227 1314h0M1219 1317h0M1074 1651h0M1232 1623h0M1214 1651h0M1096 1515h0M1303 1464h0M1229 1569h0M1228 1322h0M1079 1652h0M1244 1370h0M1231 1630h0M1315 1448h0M1257 1554h0M1116 1645h0M1299 1477h0M1276 1541h0M1300 1409h0M1219 1377h0M1230 1615h0M1076 1649h0M1082 1539h0M1183 1647h0M1061 1589h0M1226 1575h0"/><path stroke="#0060ff" d="M1097 1648h0M1144 1653h0M1215 1647h0M1122 1487h0M1083 1650h0M1202 1389h0M1062 1587h0M1069 1636h0M1080 1649h0M1232 1554h0M1127 1643h0M1080 1649h0M1273 1540h0M1064 1578h0M1293 1487h0M1065 1576h0M1297 1410h0M1224 1560h0M1220 1642h0M1277 1526h0M1312 1444h0M1273 1538h0M1229 1376h0M1312 1441h0M1252 1378h0M1302 1416h0M1066 1603h0M1224 1634h0M1264 1546h0M1106 1508h0M1164 1648h0M1225 1611h0M1080 1547h0M1077 1643h0M1269 1396h0M1136 1644h0M1069 1573h0M1270 1539h0M1074 1560h0M1237 1547h0M1092 1528h0M1309 1434h0M1142 1645h0M1212 1640h0M1292 1483h0M1308 1431h0M1226 1551h0M1309 1436h0M1074 1635h0M1218 1636h0M1219 1578h0M1190 1403h0M1250 1380h0M1181 1639h0M1212 1639h0M1306 1446h0"/><path stroke="#0075ff" d="M1297 1415h0M1231 1548h0M1276 1511h0M1208 1388h0M1068 1596h0M1068 1584h0M1178 1415h0M1289 1412h0M1215 1635h0M1217 1573h0M1214 1636h0M1072 1617h0M1068 1595h0M1255 1542h0M1263 1539h0M1288 1486h0M1100 1519h0M1304 1442h0M1303 1426h0M1120 1496h0M1082 1549h0M1165 1431h0M1257 1389h0M1171 1639h0M1212 1564h0M1214 1577h0M1253 1539h0M1113 1504h0M1208 1632h0M1099 1523h0M1286 1487h0M1201 1631h0M1218 1609h0M1294 1458h0M1301 1432h0M1267 1525h0M1288 1482h0M1265 1530h0M1301 1438h0M1202 1631h0M1072 1585h0M1169 1638h0M1126 1629h0M1078 1625h0M1297 1426h0"/><path stroke="#008aff" d="M1249 1385h0M1175 1633h0M1079 1563h0M1084 1634h0M1242 1383h0M1147 1639h0M1297 1447h0M1101 1635h0M1250 1537h0M1194 1628h0M1208 1392h0M1076 1613h0M1177 1631h0M1102 1634h0M1153 1450h0M1101 1635h0M1206 1627h0M1078 1567h0M1287 1418h0M1209 1575h0M1208 1572h0M1251 1535h0M1102 1634h0M1092 1538h0M1174 1631h0M1167 1634h0M1291 1423h0M1149 1637h0M1263 1523h0M1139 1631h0M1234 1538h0M1076 1600h0M1208 1621h0M1114 1627h0M1267 1511h0M1209 1587h0M1209 1586h0M1120 1501h0M1153 1636h0M1287 1470h0M1078 1598h0M1210 1614h0M1209 1614h0M1199 1621h0M1210 1609h0M1101 1527h0M1137 1626h0M1264 1514h0M1210 1607h0M1122 1499h0M1203 1565h0M1205 1579h0M1256 1527h0M1293 1434h0M1116 1506h0"/><path stroke="#009fff" d="M1210 1603h0M1079 1592h0M1185 1620h0M1207 1556h0M1250 1531h0M1209 1603h0M1166 1631h0M1263 1515h0M1152 1634h0M1291 1433h0M1083 1567h0M1257 1524h0M1238 1387h0M1230 1387h0M1100 1628h0M1270 1410h0M1091 1627h0M1148 1631h0M1206 1595h0M1087 1623h0M1107 1522h0M1085 1620h0M1197 1404h0M1083 1574h0M1205 1608h0M1084 1615h0M1289 1435h0M1086 1558h0M1198 1613h0M1088 1622h0M1083 1597h0M1152 1630h0M1234 1533h0M1159 1630h0M1200 1585h0M1252 1394h0M1252 1394h0M1200 1585h0M1177 1616h0M1144 1625h0M1130 1615h0M1242 1389h0M1201 1608h0M1201 1607h0M1157 1629h0M1199 1586h0M1188 1610h0M1085 1604h0M1197 1609h0M1130 1493h0M1283 1471h0M1085 1602h0M1139 1480h0M1274 1492h0M1114 1515h0M1181 1610h0M1118 1615h0M1271 1413h0"/><path stroke="#00b5ff" d="M1118 1614h0M1124 1613h0M1179 1610h0M1086 1573h0M1201 1557h0M1216 1392h0M1276 1487h0M1197 1601h0M1100 1622h0M1195 1591h0M1196 1598h0M1277 1486h0M1102 1621h0M1190 1587h0M1188 1582h0M1182 1602h0M1103 1620h0M1188 1580h0M1093 1549h0M1191 1597h0M1188 1590h0M1087 1581h0M1105 1530h0M1185 1581h0M1190 1571h0M1283 1466h0M1182 1590h0M1096 1619h0M1092 1615h0M1200 1555h0M1285 1447h0M1179 1594h0M1098 1619h0M1254 1517h0M1095 1617h0M1217 1539h0M1135 1489h0M1155 1622h0M1102 1535h0M1150 1621h0M1124 1504h0M1112 1611h0M1090 1560h0M1093 1600h0M1225 1392h0M1260 1506h0M1093 1594h0M1156 1620h0M1140 1481h0M1171 1595h0M1095 1610h0M1114 1608h0M1166 1611h0M1108 1610h0M1166 1610h0"/><path stroke="#00caff" d="M1103 1611h0M1112 1607h0M1281 1464h0M1183 1569h0M1212 1540h0M1102 1608h0M1149 1615h0M1157 1615h0M1102 1607h0M1153 1616h0M1254 1401h0M1192 1559h0M1166 1600h0M1099 1599h0M1174 1577h0M1092 1568h0M1095 1553h0M1174 1577h0M1110 1604h0M1245 1396h0M1277 1427h0M1097 1588h0M1177 1426h0M1102 1542h0M1155 1612h0M1153 1611h0M1094 1575h0M1242 1521h0M1265 1412h0M1160 1605h0M1280 1440h0M1150 1609h0M1095 1573h0M1155 1457h0M1120 1600h0M1095 1562h0M1158 1604h0M1245 1517h0M1159 1601h0M1117 1598h0"/><path stroke="#00dfff" d="M1145 1605h0M1155 1604h0M1150 1606h0M1137 1601h0M1110 1534h0M1114 1596h0M1251 1401h0M1153 1603h0M1178 1564h0M1228 1527h0M1109 1593h0M1154 1600h0M1164 1579h0M1101 1549h0M1148 1471h0M1278 1439h0M1188 1556h0M1184 1421h0M1219 1397h0M1247 1512h0M1160 1585h0M1199 1547h0M1271 1422h0M1125 1515h0M1261 1496h0M1131 1597h0M1101 1577h0M1275 1471h0M1102 1580h0M1151 1596h0M1271 1481h0M1231 1524h0M1109 1541h0M1102 1577h0M1232 1523h0M1107 1585h0M1274 1472h0M1260 1497h0M1268 1486h0"/><path stroke="#00f4ff" d="M1150 1595h0M1101 1560h0M1257 1499h0M1123 1523h0M1138 1494h0M1177 1560h0M1164 1570h0M1164 1445h0M1246 1511h0M1234 1521h0M1179 1558h0M1106 1549h0M1121 1527h0M1156 1583h0M1128 1515h0M1128 1514h0M1167 1565h0M1134 1503h0M1165 1566h0M1179 1557h0M1124 1525h0M1137 1593h0M1116 1538h0M1110 1546h0M1147 1590h0M1200 1410h0M1142 1489h0M1204 1407h0M1272 1471h0M1144 1591h0M1162 1566h0M1107 1553h0M1106 1571h0M1123 1588h0"/><path stroke="#0bfff4" d="M1125 1525h0M1248 1506h0M1110 1579h0M1231 1519h0M1193 1546h0M1128 1523h0M1148 1478h0M1213 1403h0M1266 1422h0M1107 1560h0M1226 1522h0M1109 1556h0M1114 1547h0M1108 1559h0M1162 1561h0M1257 1413h0M1160 1563h0M1124 1534h0M1111 1552h0M1108 1561h0M1147 1582h0M1177 1553h0M1140 1586h0M1111 1574h0M1130 1523h0M1272 1437h0M1272 1440h0M1218 1402h0M1120 1582h0M1127 1533h0M1151 1473h0M1149 1576h0M1144 1582h0"/><path stroke="#20ffdf" d="M1142 1584h0M1195 1542h0M1111 1560h0M1231 1518h0M1269 1474h0M1189 1422h0M1149 1575h0M1118 1547h0M1126 1537h0M1267 1478h0M1130 1529h0M1115 1574h0M1119 1548h0M1164 1555h0M1121 1546h0M1173 1552h0M1115 1573h0M1123 1580h0M1144 1579h0M1145 1577h0M1121 1579h0M1121 1579h0M1264 1424h0M1150 1567h0M1118 1575h0M1137 1582h0M1156 1557h0M1137 1510h0M1143 1577h0M1266 1427h0M1240 1404h0M1166 1553h0M1270 1458h0M1134 1581h0M1208 1531h0M1224 1520h0M1246 1502h0M1115 1566h0M1127 1544h0M1134 1525h0M1116 1561h0M1164 1552h0"/><path stroke="#35ffca" d="M1267 1472h0M1125 1551h0M1129 1577h0M1124 1552h0M1139 1575h0M1270 1447h0M1137 1576h0M1213 1526h0M1192 1540h0M1270 1447h0M1130 1576h0M1149 1555h0M1127 1575h0M1153 1474h0M1136 1533h0M1236 1510h0M1136 1542h0M1134 1575h0M1145 1556h0M1145 1554h0M1217 1405h0M1138 1572h0M1134 1550h0M1149 1551h0M1123 1563h0M1138 1543h0M1133 1574h0M1141 1564h0M1125 1559h0M1127 1571h0M1135 1571h0M1126 1560h0M1127 1570h0M1265 1431h0M1137 1564h0M1180 1545h0M1135 1558h0M1136 1561h0M1243 1408h0M1188 1541h0M1136 1567h0M1225 1404h0M1268 1446h0M1134 1565h0M1132 1565h0"/><path stroke="#4affb5" d="M1140 1536h0M1175 1546h0M1268 1447h0M1147 1545h0M1145 1500h0M1142 1510h0M1140 1529h0M1150 1546h0M1147 1544h0M1145 1542h0M1146 1541h0M1222 1406h0M1208 1527h0M1147 1496h0M1234 1406h0M1160 1545h0M1207 1527h0M1178 1543h0M1201 1417h0M1145 1504h0M1146 1536h0M1179 1543h0M1239 1503h0M1179 1435h0M1222 1517h0M1154 1542h0M1255 1419h0M1147 1501h0"/><path stroke="#60ff9f" d="M1144 1513h0M1179 1542h0M1263 1472h0M1146 1532h0M1182 1433h0M1195 1533h0M1145 1515h0M1228 1407h0M1160 1466h0M1200 1529h0M1204 1416h0M1228 1407h0M1146 1524h0M1265 1449h0M1174 1541h0M1265 1452h0M1162 1540h0M1147 1510h0M1146 1518h0M1260 1476h0M1174 1540h0M1228 1510h0"/><path stroke="#75ff8a" d="M1220 1409h0M1150 1495h0M1148 1504h0M1260 1473h0M1150 1529h0M1202 1527h0M1147 1514h0M1224 1409h0M1250 1488h0M1251 1487h0M1240 1411h0M1237 1410h0M1262 1436h0M1191 1533h0M1256 1478h0M1153 1528h0M1222 1410h0"/><path stroke="#8aff75" d="M1261 1436h0M1255 1479h0M1199 1527h0M1163 1466h0M1155 1528h0M1230 1505h0M1204 1418h0M1151 1518h0M1158 1479h0M1216 1412h0M1259 1434h0M1215 1515h0M1161 1532h0M1152 1509h0M1239 1413h0M1153 1522h0M1166 1461h0M1187 1532h0M1251 1423h0M1205 1419h0M1157 1527h0"/><path stroke="#9fff60" d="M1174 1535h0M1257 1473h0M1207 1520h0M1153 1517h0M1169 1534h0M1232 1412h0M1162 1531h0M1156 1489h0M1243 1417h0M1211 1416h0M1184 1436h0M1168 1458h0M1169 1533h0M1156 1495h0M1175 1532h0M1247 1486h0M1154 1509h0M1163 1529h0"/><path stroke="#b5ff4a" d="M1258 1438h0M1164 1529h0M1163 1472h0M1230 1413h0M1203 1521h0M1171 1455h0M1162 1475h0M1155 1509h0M1231 1500h0M1156 1506h0M1165 1469h0M1242 1489h0M1250 1480h0M1157 1496h0M1174 1452h0M1161 1479h0M1239 1417h0M1218 1509h0M1249 1425h0M1166 1466h0M1254 1471h0M1164 1525h0"/><path stroke="#caff35" d="M1187 1527h0M1170 1528h0M1184 1439h0M1179 1444h0M1253 1472h0M1184 1527h0M1229 1415h0M1158 1510h0M1222 1415h0M1257 1454h0M1166 1524h0M1256 1446h0M1194 1522h0M1224 1416h0M1181 1527h0M1189 1525h0M1181 1443h0M1186 1526h0M1188 1525h0M1255 1465h0M1169 1525h0M1162 1482h0M1253 1470h0M1248 1427h0M1170 1525h0"/><path stroke="#dfff20" d="M1164 1520h0M1223 1416h0M1213 1419h0M1160 1511h0M1250 1430h0M1249 1428h0M1164 1520h0M1163 1519h0M1214 1509h0M1165 1473h0M1162 1486h0M1160 1493h0M1164 1476h0M1255 1456h0M1210 1421h0M1246 1480h0M1185 1440h0M1230 1497h0M1202 1516h0M1253 1466h0M1245 1481h0M1249 1429h0M1176 1524h0M1254 1443h0M1245 1425h0M1167 1520h0M1254 1457h0M1252 1437h0"/><path stroke="#f4ff0b" d="M1254 1457h0M1189 1437h0M1214 1420h0M1238 1421h0M1179 1524h0M1252 1466h0M1163 1484h0M1187 1439h0M1252 1466h0M1170 1466h0M1171 1521h0M1251 1435h0M1233 1419h0M1174 1457h0M1250 1435h0M1164 1509h0M1248 1432h0M1166 1476h0M1183 1522h0M1191 1519h0M1246 1476h0M1232 1492h0M1243 1426h0M1242 1482h0M1196 1432h0"/><path stroke="#fff400" d="M1190 1519h0M1172 1519h0M1164 1487h0M1252 1457h0M1176 1521h0M1185 1520h0M1239 1424h0M1205 1512h0M1232 1492h0M1247 1432h0M1185 1442h0M1164 1500h0M1171 1518h0M1246 1431h0M1175 1520h0M1239 1424h0M1165 1483h0M1236 1487h0M1251 1458h0M1165 1485h0M1164 1496h0M1248 1435h0M1242 1427h0M1240 1483h0M1251 1446h0M1251 1457h0M1173 1517h0M1200 1430h0M1166 1505h0M1248 1436h0"/><path stroke="#ffdf00" d="M1212 1424h0M1176 1458h0M1224 1497h0M1182 1448h0M1244 1476h0M1244 1430h0M1243 1476h0M1250 1445h0M1186 1517h0M1166 1489h0M1190 1516h0M1188 1517h0M1170 1512h0M1175 1461h0M1189 1516h0M1179 1517h0M1214 1504h0M1179 1516h0M1248 1438h0M1224 1496h0M1167 1493h0M1168 1481h0M1249 1442h0M1224 1422h0"/><path stroke="#ffca00" d="M1226 1423h0M1198 1512h0M1239 1480h0M1246 1467h0M1219 1499h0M1179 1455h0M1173 1511h0M1245 1469h0M1203 1509h0M1224 1495h0M1212 1503h0M1234 1486h0M1187 1444h0M1181 1453h0M1242 1431h0M1168 1497h0M1226 1493h0M1211 1503h0M1183 1514h0M1181 1514h0M1248 1449h0M1237 1427h0M1169 1499h0M1172 1473h0M1193 1512h0"/><path stroke="#ffb500" d="M1242 1474h0M1213 1501h0M1244 1469h0M1174 1509h0M1189 1443h0M1178 1460h0M1196 1437h0M1175 1466h0M1240 1431h0M1173 1472h0M1244 1437h0M1209 1503h0M1193 1511h0M1175 1467h0M1241 1433h0M1208 1504h0M1246 1446h0M1237 1480h0M1226 1425h0M1222 1426h0M1215 1499h0M1208 1503h0M1177 1508h0"/><path stroke="#ff9f00" d="M1216 1498h0M1181 1510h0M1171 1493h0M1171 1489h0M1209 1502h0M1246 1455h0M1209 1430h0M1172 1496h0M1197 1438h0M1235 1480h0M1182 1455h0M1175 1503h0M1225 1427h0M1236 1478h0M1184 1509h0M1221 1427h0M1173 1496h0M1242 1438h0M1206 1502h0M1227 1488h0M1231 1428h0M1244 1460h0M1172 1487h0M1175 1502h0M1231 1429h0M1207 1502h0M1181 1507h0"/><path stroke="#ff8a00" d="M1231 1483h0M1183 1454h0M1177 1467h0M1228 1486h0M1229 1428h0M1183 1455h0M1219 1428h0M1177 1503h0M1173 1485h0M1188 1449h0M1186 1507h0M1219 1493h0M1215 1429h0M1191 1506h0M1243 1450h0M1185 1506h0M1196 1441h0"/><path stroke="#ff7500" d="M1221 1491h0M1184 1505h0M1201 1503h0M1178 1500h0M1188 1449h0M1224 1429h0M1239 1467h0M1226 1486h0M1212 1432h0M1241 1460h0M1206 1499h0M1225 1430h0M1180 1500h0M1242 1454h0M1241 1456h0M1177 1477h0"/><path stroke="#ff6000" d="M1195 1503h0M1226 1485h0M1183 1501h0M1177 1486h0M1235 1473h0M1230 1433h0M1188 1502h0M1185 1456h0M1179 1473h0M1184 1459h0M1177 1485h0M1214 1433h0M1178 1479h0M1213 1433h0M1208 1435h0M1186 1501h0M1215 1433h0M1179 1490h0M1182 1497h0M1231 1477h0M1219 1432h0M1214 1433h0M1235 1439h0"/><path stroke="#ff4a00" d="M1180 1472h0M1202 1440h0M1184 1498h0M1187 1456h0M1212 1434h0M1204 1497h0M1179 1487h0M1216 1433h0M1179 1479h0M1180 1490h0M1194 1500h0M1180 1490h0M1239 1457h0M1236 1442h0M1208 1437h0M1232 1437h0M1216 1434h0M1228 1479h0M1238 1454h0M1193 1448h0M1238 1452h0M1182 1493h0M1237 1445h0M1234 1469h0M1218 1488h0M1182 1471h0M1181 1476h0M1196 1498h0M1202 1496h0"/><path stroke="#ff3500" d="M1190 1452h0M1201 1496h0M1220 1434h0M1207 1438h0M1190 1453h0M1212 1491h0M1236 1445h0M1187 1496h0M1198 1444h0M1232 1440h0M1188 1457h0M1230 1438h0M1223 1482h0M1213 1436h0M1181 1480h0M1184 1491h0M1191 1497h0M1197 1497h0M1220 1435h0M1194 1497h0M1235 1465h0M1199 1496h0M1232 1440h0M1203 1441h0M1195 1448h0M1228 1437h0M1196 1496h0M1218 1436h0M1211 1490h0"/><path stroke="#ff2000" d="M1205 1441h0M1205 1493h0M1197 1447h0M1235 1461h0M1183 1481h0M1189 1458h0M1185 1490h0M1185 1467h0M1192 1494h0M1229 1473h0M1185 1489h0M1185 1488h0M1184 1486h0M1185 1487h0M1200 1493h0M1204 1442h0M1189 1493h0M1190 1456h0M1219 1484h0M1187 1490h0M1207 1491h0M1226 1439h0M1184 1480h0M1205 1491h0M1221 1481h0M1211 1488h0M1234 1455h0M1230 1442h0M1193 1493h0M1212 1487h0"/><path stroke="#ff0b00" d="M1234 1451h0M1234 1457h0M1185 1483h0M1234 1455h0M1223 1479h0M1191 1457h0M1231 1445h0M1191 1457h0M1233 1458h0M1189 1488h0M1233 1455h0M1214 1485h0M1188 1465h0M1230 1469h0M1198 1491h0M1189 1488h0M1187 1484h0M1189 1487h0M1192 1490h0M1230 1444h0M1202 1490h0M1226 1441h0M1186 1473h0M1208 1488h0M1205 1489h0M1195 1490h0M1231 1465h0M1219 1481h0M1228 1470h0M1190 1488h0M1192 1458h0M1216 1440h0"/><path stroke="#f40000" d="M1191 1460h0M1224 1476h0M1213 1441h0M1221 1479h0M1224 1441h0M1191 1462h0M1210 1442h0M1228 1445h0M1196 1489h0M1220 1478h0M1230 1450h0M1194 1455h0M1226 1444h0M1210 1443h0M1214 1482h0M1230 1451h0M1208 1486h0M1196 1487h0M1229 1463h0M1229 1463h0M1219 1478h0M1209 1444h0"/><path stroke="#df0000" d="M1201 1449h0M1190 1479h0M1198 1452h0M1230 1453h0M1189 1473h0M1207 1445h0M1226 1446h0M1194 1485h0M1228 1448h0M1191 1466h0M1198 1486h0M1229 1459h0M1227 1466h0M1215 1480h0M1192 1463h0M1190 1473h0M1221 1444h0M1224 1471h0M1193 1482h0M1224 1446h0M1202 1450h0M1218 1477h0M1208 1446h0M1226 1467h0M1216 1444h0M1197 1484h0M1224 1470h0M1202 1450h0M1196 1483h0"/><path stroke="#ca0000" d="M1198 1455h0M1192 1475h0M1223 1447h0M1218 1445h0M1218 1445h0M1201 1452h0M1227 1460h0M1225 1449h0M1193 1468h0M1198 1456h0M1226 1464h0M1225 1449h0M1226 1455h0M1205 1482h0M1195 1461h0M1205 1450h0M1211 1446h0M1210 1480h0M1197 1480h0M1197 1480h0M1194 1467h0M1215 1477h0M1207 1449h0M1194 1471h0"/><path stroke="#b50000" d="M1210 1479h0M1219 1447h0M1195 1473h0M1219 1472h0M1200 1456h0M1196 1476h0M1215 1447h0M1217 1474h0M1211 1478h0M1216 1474h0M1218 1472h0M1196 1466h0M1206 1451h0M1207 1450h0M1219 1449h0M1202 1454h0M1197 1474h0M1196 1471h0M1214 1448h0M1214 1475h0M1223 1455h0M1221 1467h0M1222 1465h0M1201 1457h0M1218 1471h0M1216 1449h0"/><path stroke="#9f0000" d="M1199 1462h0M1198 1471h0M1207 1453h0M1205 1454h0M1200 1461h0M1213 1473h0M1213 1451h0M1214 1451h0M1213 1451h0M1203 1457h0M1208 1475h0M1218 1452h0M1220 1456h0M1211 1452h0M1215 1470h0M1216 1468h0M1206 1474h0M1218 1454h0M1207 1455h0M1219 1457h0M1202 1471h0M1215 1469h0"/><path stroke="#8a0000" d="M1205 1473h0M1205 1473h0M1201 1468h0M1201 1465h0M1202 1470h0M1205 1472h0M1218 1456h0M1217 1465h0M1217 1466h0M1214 1469h0M1202 1470h0M1211 1471h0M1202 1468h0M1216 1455h0M1205 1470h0M1215 1467h0M1204 1468h0M1206 1458h0M1204 1465h0M1209 1457h0M1214 1457h0M1214 1457h0M1207 1459h0M1215 1460h0M1211 1467h0M1215 1462h0M1209 1467h0M1207 1462h0M1212 1465h0M1211 1459h0M1209 1463h0M1207 1464h0M1212 1461h0M1212 1462h0M1210 1462h0M1209 1463h0"/></g>
<line x1="902.8" y1="1741.1" x2="1461.4" y2="1261.4" stroke="#000" stroke-width="2.4" stroke-dasharray="9.3 7.2"/>
<line x1="902.8" y1="1741.1" x2="1461.4" y2="1283.1" stroke="#e8141c" stroke-width="2.6"/>
<path d="M902.8 1741.1v-5.6M902.8 1261.4v5.6M902.8 1741.1h5.6M1461.4 1741.1h-5.6M1089.0 1741.1v-5.6M1089.0 1261.4v5.6M902.8 1581.2h5.6M1461.4 1581.2h-5.6M1275.2 1741.1v-5.6M1275.2 1261.4v5.6M902.8 1421.3h5.6M1461.4 1421.3h-5.6M1461.4 1741.1v-5.6M1461.4 1261.4v5.6M902.8 1261.4h5.6M1461.4 1261.4h-5.6" stroke="#262626" stroke-width="1.3" fill="none"/>
<rect x="902.8" y="1261.4" width="558.6" height="479.7" fill="none" stroke="#3a3a3a" stroke-width="1.15"/>
<g font-size="35"><text x="902.8" y="1776.9" text-anchor="middle">0.01</text><text x="897.6" y="1749.6" text-anchor="end">0.01</text><text x="1089.0" y="1776.9" text-anchor="middle">0.1</text><text x="897.6" y="1592.7" text-anchor="end">0.1</text><text x="1275.2" y="1776.9" text-anchor="middle">1</text><text x="897.6" y="1432.8" text-anchor="end">1</text><text x="1461.4" y="1776.9" text-anchor="middle">10</text><text x="897.6" y="1276.3" text-anchor="end">10</text></g>
<g font-size="36">
<text x="920.7" y="1303.2">R<tspan font-size="24" dy="-11">2</tspan><tspan dy="11">=0.43</tspan></text>
<text x="920.7" y="1345.9">RMSE=1.7 m<tspan font-size="24" dy="-10.5">-1</tspan></text>
<text x="920.7" y="1388.6">MAPD=69.4%</text>
<text x="920.7" y="1431.3">Number=1546</text>
</g>
<text x="1449.9" y="1719.8" font-size="40" text-anchor="end">(H)</text>
<text x="1184.0" y="1844.7" font-size="36.30" text-anchor="middle"><tspan>In situ Rrs estimated Kd(490) (m</tspan><tspan font-size="28.0" dy="-18.1">-1</tspan><tspan dy="18.1">)</tspan></text>
<text transform="translate(835.4 1501.2) rotate(-90)" font-size="36.30" text-anchor="middle"><tspan>OC-SMART Kd(490) (m</tspan><tspan font-size="27.2" dy="-17.8">-1</tspan><tspan dy="17.8">)</tspan></text>
<rect x="1487.9" y="1261.4" width="28.6" height="478.9" fill="url(#jet)" stroke="#2a2a2a" stroke-width="1.2"/>
<path d="M1516.5 1644.5h-5M1516.5 1548.7h-5M1516.5 1453.0h-5M1516.5 1357.2h-5" stroke="#300" stroke-width="1.3"/>
<g font-size="35"><text x="1526.5" y="1752.0">0</text><text x="1526.5" y="1656.2">0.2</text><text x="1526.5" y="1560.4">0.4</text><text x="1526.5" y="1464.7">0.6</text><text x="1526.5" y="1368.9">0.8</text><text x="1526.5" y="1273.1">1</text></g>
</g>
<g id="pI">
<path d="M1886.1 1261.4V1741.5M1704.2 1581.5H2250.0M2068.1 1261.4V1741.5M1704.2 1421.4H2250.0" stroke="#e3e3e3" stroke-width="1.2" fill="none"/>
<g fill="none" stroke-width="5.0" stroke-linecap="round"><path stroke="#00008a" d="M1861 1322h0M1726 1497h0M1777 1513h0M2014 1293h0M1784 1632h0M1787 1666h0M2027 1328h0M2054 1648h0M2114 1608h0M1838 1684h0M2088 1598h0M1940 1711h0M1927 1713h0M1868 1710h0M2145 1572h0"/><path stroke="#00009f" d="M1852 1708h0M1882 1669h0M2056 1608h0M1850 1633h0M1833 1568h0M1924 1663h0M2118 1557h0M2129 1560h0M2035 1620h0M1997 1677h0M2004 1663h0M1947 1357h0"/><path stroke="#0000b5" d="M1968 1644h0M1985 1663h0M1986 1659h0M2131 1530h0M1871 1420h0M1862 1618h0M1968 1357h0M1826 1483h0M1958 1635h0M1921 1385h0M1940 1372h0M1904 1650h0M1868 1620h0M2032 1604h0M1881 1643h0M1973 1361h0"/><path stroke="#0000ca" d="M1888 1615h0M1826 1500h0M1828 1543h0M1909 1401h0M1908 1402h0M1880 1629h0M1997 1602h0M1889 1636h0M1959 1609h0M1923 1639h0M2187 1369h0M2145 1514h0M1960 1597h0M1885 1424h0M1858 1444h0M1942 1628h0M1915 1634h0M1934 1632h0M1941 1386h0M1994 1593h0M1955 1588h0"/><path stroke="#0000df" d="M2122 1513h0M1858 1562h0M1942 1607h0M1840 1484h0M2099 1360h0M1981 1580h0M1857 1451h0M1979 1579h0M1912 1595h0M2167 1503h0M1913 1593h0M1913 1596h0M1919 1617h0M2132 1359h0M2029 1581h0M2005 1590h0M2058 1362h0M1916 1599h0M2022 1586h0M2015 1589h0M1983 1373h0M1930 1607h0M2080 1363h0M1928 1607h0M2102 1518h0M2057 1557h0M2019 1581h0M1948 1574h0M2184 1488h0"/><path stroke="#0000f4" d="M2047 1562h0M2007 1577h0M1840 1538h0M2082 1535h0M2084 1533h0M1998 1562h0M2073 1541h0M2088 1527h0M1904 1429h0M1898 1570h0M1840 1531h0M2006 1372h0M2048 1556h0M2032 1562h0M1876 1449h0M1859 1467h0M1949 1567h0M1885 1443h0"/><path stroke="#000bff" d="M1862 1463h0M1985 1556h0M1855 1479h0M1990 1553h0M1842 1516h0M1856 1478h0M2050 1548h0M2020 1556h0M2060 1539h0M2079 1524h0M1916 1426h0M2016 1553h0M2113 1368h0M1895 1565h0M2146 1498h0M2049 1544h0M1930 1566h0M2108 1500h0M1875 1559h0M2062 1532h0M1850 1502h0M1868 1467h0M2084 1512h0"/><path stroke="#0020ff" d="M1871 1556h0M1852 1539h0M1977 1551h0M1935 1412h0M2074 1520h0M1970 1554h0M1889 1449h0M2041 1544h0M2107 1498h0M1881 1559h0M2177 1378h0M2018 1374h0M2077 1514h0M2132 1369h0M1960 1556h0M1901 1443h0M2080 1508h0M2026 1545h0M1938 1413h0M1891 1451h0M1966 1393h0M2163 1489h0M1849 1523h0M1934 1561h0M2018 1540h0M2183 1475h0M2019 1539h0"/><path stroke="#0035ff" d="M2047 1526h0M1857 1537h0M2027 1537h0M1992 1384h0M1983 1540h0M2024 1536h0M2153 1491h0M1872 1475h0M1898 1559h0M1852 1517h0M1884 1555h0M2183 1472h0M2186 1391h0M2159 1488h0M2157 1374h0M2032 1375h0M1871 1480h0M1962 1399h0M2047 1517h0M1919 1438h0M2017 1530h0M1855 1527h0M1871 1482h0M2009 1527h0M1923 1435h0M2046 1516h0M2152 1488h0M2010 1527h0"/><path stroke="#004aff" d="M2188 1399h0M2064 1504h0M2062 1505h0M1936 1421h0M1890 1461h0M2043 1517h0M1856 1516h0M2120 1375h0M2017 1524h0M2003 1522h0M2194 1454h0M1881 1549h0M2140 1488h0M2078 1495h0M1984 1530h0M1925 1437h0M2044 1511h0M2145 1375h0M1927 1436h0M1896 1553h0M1956 1408h0M2097 1489h0M2194 1443h0"/><path stroke="#0060ff" d="M1868 1495h0M2188 1462h0M2185 1398h0M2162 1480h0M1989 1391h0M1976 1396h0M2011 1515h0M1936 1429h0M2090 1488h0M2178 1390h0M1953 1547h0M2190 1421h0M2153 1482h0M1862 1520h0M2188 1410h0M1867 1532h0M1961 1407h0M1868 1502h0"/><path stroke="#0075ff" d="M2117 1379h0M1980 1525h0M1996 1510h0M2187 1457h0M1985 1519h0M2085 1379h0M1902 1461h0M1951 1416h0M2036 1506h0M2143 1482h0M2025 1510h0M2108 1484h0M1902 1462h0M2190 1442h0M2188 1451h0M1975 1401h0M2055 1495h0M1867 1515h0M2184 1406h0M1985 1515h0M2150 1380h0M2020 1383h0M2103 1483h0M2073 1488h0M1889 1544h0M1980 1519h0M2000 1505h0M1973 1527h0"/><path stroke="#008aff" d="M1962 1536h0M2185 1454h0M2028 1505h0M2180 1460h0M2184 1455h0M1873 1529h0M1869 1517h0M1923 1550h0M2063 1490h0M2017 1385h0M2161 1471h0M2069 1487h0M1952 1421h0M1978 1402h0M1909 1461h0M2085 1382h0M2053 1380h0M1880 1494h0M1971 1525h0M2084 1382h0M1946 1544h0M2029 1502h0M1954 1539h0"/><path stroke="#009fff" d="M1872 1515h0M2117 1479h0M1873 1512h0M1887 1538h0M2185 1445h0M2156 1472h0M1887 1538h0M1887 1538h0M2023 1501h0M1907 1466h0M1995 1498h0M2018 1501h0M1971 1521h0M2014 1500h0M2184 1443h0M2181 1413h0M2165 1389h0M2052 1490h0M2161 1387h0M2019 1500h0M2182 1449h0M2183 1444h0"/><path stroke="#00b5ff" d="M2169 1461h0M2179 1452h0M2029 1497h0M2181 1416h0M2183 1434h0M1877 1509h0M2064 1383h0M1934 1544h0M1880 1526h0M1974 1512h0M2181 1446h0M1954 1426h0M1968 1521h0M1887 1533h0M1883 1530h0M1941 1445h0M2137 1474h0M1966 1522h0M1914 1544h0M1878 1517h0M1992 1493h0M1930 1544h0M2143 1472h0M1879 1521h0M1985 1403h0M1921 1544h0M1930 1459h0M2124 1475h0M2158 1389h0M1948 1436h0M2124 1387h0M2107 1476h0"/><path stroke="#00caff" d="M1932 1458h0M1974 1411h0M2167 1395h0M2099 1476h0M1922 1464h0M2030 1493h0M1903 1540h0M2012 1493h0M1898 1482h0M2037 1385h0M2168 1457h0M2179 1433h0M2170 1398h0M1909 1473h0M1938 1455h0M2176 1447h0M1893 1489h0M2175 1409h0M2016 1492h0M1892 1491h0M1892 1492h0M1884 1521h0M1910 1540h0M2137 1388h0M1968 1512h0M1899 1482h0M1906 1475h0M1950 1438h0"/><path stroke="#00dfff" d="M2154 1391h0M1950 1532h0M2127 1389h0M2066 1480h0M1994 1487h0M1954 1432h0M1951 1437h0M1939 1457h0M1950 1439h0M2136 1470h0M1953 1528h0M2060 1385h0M1916 1540h0M1979 1494h0M1918 1540h0M1936 1461h0M1934 1538h0M1940 1536h0M2027 1490h0M1927 1467h0M2153 1462h0M1902 1482h0M1920 1471h0M1922 1470h0M1979 1412h0M2132 1390h0M1989 1406h0M1980 1490h0M2017 1488h0M1939 1536h0"/><path stroke="#00f4ff" d="M2159 1458h0M1962 1428h0M1907 1479h0M2160 1395h0M1917 1538h0M2135 1468h0M2149 1392h0M2063 1479h0M1892 1500h0M2011 1486h0M1932 1469h0M1933 1536h0M2120 1470h0M1889 1517h0M1889 1519h0M2108 1470h0M1933 1469h0M1949 1527h0M1949 1450h0M1971 1495h0M1890 1519h0M1991 1481h0M2173 1429h0M2173 1418h0M2173 1431h0M1915 1477h0M1949 1451h0M1906 1483h0M1982 1412h0M2105 1391h0M2171 1412h0M2147 1393h0M2173 1428h0M1968 1425h0M2160 1454h0M1915 1477h0"/><path stroke="#0bfff4" d="M1937 1469h0M2162 1399h0M1961 1433h0M1953 1521h0M2013 1484h0M1915 1478h0M2168 1445h0M2140 1393h0M1964 1502h0M2161 1399h0M1954 1519h0M1910 1482h0M1903 1488h0M1967 1497h0M1893 1503h0M2089 1471h0M1954 1519h0M2171 1416h0M2077 1389h0M2102 1392h0M2121 1393h0M1939 1470h0M1923 1476h0M1913 1481h0M2166 1445h0M2168 1442h0M2147 1461h0M2148 1394h0M2038 1482h0M1893 1508h0M1990 1409h0M1972 1424h0M2167 1409h0M2115 1467h0M1974 1486h0M1893 1516h0M1970 1490h0M2152 1396h0M2108 1393h0M1954 1516h0M1987 1477h0"/><path stroke="#20ffdf" d="M1919 1479h0M1970 1489h0M2158 1399h0M2101 1468h0M2132 1464h0M2012 1397h0M1957 1446h0M2142 1461h0M1950 1519h0M1907 1529h0M1927 1533h0M1972 1485h0M1990 1474h0M1962 1496h0M1899 1523h0M2031 1481h0M1914 1532h0M2121 1465h0M1974 1482h0M1897 1503h0M1897 1503h0M1896 1511h0M2139 1461h0M2004 1476h0M2018 1480h0M1958 1502h0M1958 1448h0M1959 1446h0M2035 1480h0M1951 1467h0M2166 1412h0M2014 1398h0M1951 1468h0M1966 1488h0M1927 1481h0M2039 1479h0M1959 1447h0M1918 1531h0M2124 1464h0"/><path stroke="#35ffca" d="M1971 1430h0M1957 1501h0M1927 1531h0M1939 1527h0M2019 1480h0M1964 1440h0M2139 1461h0M1960 1447h0M2011 1477h0M1974 1427h0M1897 1511h0M1972 1429h0M2034 1479h0M1980 1421h0M1935 1528h0M1898 1506h0M1958 1494h0M1951 1512h0M1950 1475h0M1928 1482h0M2023 1479h0M1993 1470h0M2141 1459h0M1961 1487h0M1901 1520h0M1924 1484h0M1970 1479h0M1967 1481h0M1963 1484h0M1912 1528h0M1961 1487h0M1926 1529h0M2019 1397h0M1976 1474h0M1908 1525h0M2162 1409h0M2014 1476h0M2035 1478h0M1900 1506h0M1958 1484h0M2163 1440h0M1941 1483h0M1996 1469h0M1954 1479h0M1940 1523h0M1903 1519h0M1957 1477h0M1904 1499h0M1958 1476h0M1901 1508h0M1959 1478h0M2052 1475h0"/><path stroke="#4affb5" d="M1973 1473h0M1951 1502h0M2145 1455h0M1975 1471h0M2165 1420h0M1969 1438h0M1943 1486h0M1961 1459h0M1951 1491h0M1948 1510h0M1912 1526h0M1938 1486h0M1960 1471h0M1967 1474h0M2116 1463h0M2161 1409h0M1961 1467h0M2017 1476h0M2060 1391h0M1933 1526h0M1903 1506h0M1949 1505h0M1967 1472h0M2160 1442h0M1950 1497h0M1967 1471h0M1903 1506h0M1907 1521h0M2127 1398h0M2014 1474h0M2014 1474h0M2111 1463h0M1964 1456h0M1913 1493h0M1965 1468h0M1965 1466h0M1966 1450h0M1965 1456h0M1988 1418h0M1945 1493h0M1936 1489h0M1966 1451h0M2160 1439h0M1933 1489h0M1940 1491h0M1947 1503h0M1985 1421h0M1975 1465h0M1967 1460h0M2134 1458h0M2019 1475h0M1977 1431h0M1982 1463h0"/><path stroke="#60ff9f" d="M1933 1491h0M1916 1494h0M1968 1457h0M1939 1493h0M1914 1495h0M1974 1462h0M1969 1453h0M1913 1523h0M1974 1462h0M1923 1492h0M1912 1522h0M2025 1475h0M1984 1424h0M1933 1492h0M1940 1516h0M2008 1469h0M1971 1459h0M1941 1514h0M2145 1402h0M1910 1519h0M1943 1502h0M1933 1521h0M2099 1397h0M1978 1460h0M1980 1430h0M1979 1432h0M1920 1523h0M1976 1437h0M1915 1498h0M2153 1406h0M1941 1509h0M2120 1459h0M1911 1518h0M1973 1450h0M1920 1495h0M2160 1432h0M1973 1449h0M1909 1514h0M1931 1520h0M2036 1474h0M2010 1469h0M1998 1462h0M2010 1404h0"/><path stroke="#75ff8a" d="M2156 1411h0M2105 1461h0M1910 1510h0M2050 1472h0M1976 1444h0M1988 1458h0M2156 1439h0M1977 1446h0M1980 1435h0M2142 1451h0M1979 1438h0M1990 1457h0M1937 1511h0M1923 1520h0M1936 1512h0M1914 1503h0M2149 1446h0M1978 1443h0M2073 1467h0M2156 1411h0M1917 1501h0M2010 1467h0M1930 1517h0M1990 1457h0M1913 1513h0M2008 1466h0M1984 1453h0M1982 1452h0M2158 1418h0M1935 1510h0M2154 1439h0M1935 1510h0M1933 1513h0M2022 1471h0M1990 1456h0M2155 1412h0M2108 1400h0M1980 1441h0M2092 1462h0M1917 1516h0M1934 1508h0M2157 1434h0M1923 1517h0M1932 1511h0M1918 1506h0M1931 1505h0"/><path stroke="#8aff75" d="M2157 1418h0M1928 1503h0M1921 1504h0M2011 1466h0M1930 1505h0M2154 1413h0M1919 1513h0M1929 1506h0M2057 1469h0M1918 1511h0M2084 1463h0M2011 1466h0M2077 1465h0M1920 1509h0M2057 1469h0M2112 1402h0M1927 1510h0M2019 1401h0M2085 1463h0M2111 1458h0M1923 1511h0M1926 1509h0M2030 1398h0M1987 1428h0M2141 1448h0M2135 1405h0M2135 1451h0M1997 1416h0M2093 1399h0M2014 1466h0M2009 1407h0M2005 1410h0M2001 1413h0M2000 1458h0M1985 1438h0M1989 1428h0"/><path stroke="#9fff60" d="M2154 1431h0M2011 1406h0M2044 1470h0M2117 1455h0M2134 1451h0M2146 1443h0M2055 1468h0M2107 1402h0M2040 1397h0M2115 1404h0M2141 1407h0M2148 1440h0M2138 1447h0M2137 1407h0M2025 1401h0M2154 1423h0M2063 1396h0M2134 1449h0M2124 1405h0M1993 1449h0M2033 1469h0M2092 1400h0M1989 1437h0M2145 1411h0M2148 1413h0M2141 1444h0"/><path stroke="#b5ff4a" d="M2067 1397h0M2152 1429h0M1994 1448h0M2151 1431h0M2123 1452h0M2148 1415h0M2001 1416h0M2149 1416h0M1991 1440h0M2134 1447h0M2148 1435h0M2120 1451h0M2145 1439h0M2147 1416h0M2053 1397h0M2032 1400h0M1992 1432h0M2101 1456h0M2034 1400h0M1994 1443h0"/><path stroke="#caff35" d="M2143 1439h0M2134 1409h0M2067 1464h0M2149 1424h0M2137 1411h0M1993 1437h0M2056 1398h0M2097 1456h0M2009 1411h0M2086 1401h0M2062 1398h0M2048 1466h0M2140 1413h0M2010 1411h0M2018 1406h0M2122 1409h0M2122 1409h0M2142 1414h0M2146 1431h0M1995 1441h0M2036 1401h0M2122 1409h0M2147 1423h0M2030 1464h0M2146 1420h0M2138 1413h0"/><path stroke="#dfff20" d="M2141 1415h0M2144 1434h0M2121 1409h0M2015 1459h0M2126 1446h0M2027 1403h0M2108 1452h0M2145 1427h0M2092 1404h0M2063 1463h0M1996 1430h0M2092 1456h0M2064 1463h0M2023 1462h0M2121 1411h0M2139 1436h0M1998 1427h0M2040 1401h0M2092 1404h0M2038 1464h0M2062 1463h0M2124 1446h0M2142 1432h0M2142 1421h0"/><path stroke="#f4ff0b" d="M2139 1418h0M2057 1463h0M2004 1448h0M2141 1421h0M2068 1461h0M2114 1448h0M2073 1401h0M2136 1417h0M2007 1417h0M2133 1438h0M2139 1421h0M2131 1439h0M2001 1426h0M2110 1410h0M1999 1432h0M2098 1407h0M2121 1413h0M2139 1423h0M2136 1434h0M2100 1451h0M2121 1414h0M2131 1438h0"/><path stroke="#fff400" d="M2111 1448h0M2100 1408h0M2124 1442h0M2029 1405h0M2136 1420h0M2055 1401h0M2116 1445h0M2136 1432h0M2116 1413h0M2009 1450h0M2002 1427h0M2014 1453h0M2121 1442h0M2136 1430h0M2015 1454h0M2095 1452h0M2126 1417h0M2111 1412h0M2001 1437h0M2121 1415h0M2135 1425h0M2010 1417h0M2020 1456h0M2120 1416h0"/><path stroke="#ffdf00" d="M2133 1424h0M2128 1436h0M2002 1430h0M2123 1439h0M2131 1423h0M2127 1420h0M2050 1461h0M2061 1402h0M2040 1404h0M2028 1458h0M2131 1430h0M2128 1422h0M2123 1419h0M2120 1440h0M2100 1410h0M2130 1429h0M2097 1409h0M2123 1419h0M2012 1416h0M2003 1433h0M2128 1424h0M2110 1444h0M2091 1451h0"/><path stroke="#ffca00" d="M2124 1435h0M2105 1446h0M2023 1410h0M2064 1403h0M2126 1433h0M2045 1403h0M2095 1450h0M2084 1453h0M2123 1421h0M2120 1438h0M2045 1460h0M2005 1427h0M2004 1431h0M2005 1432h0M2113 1417h0M2122 1422h0M2096 1410h0M2005 1429h0M2111 1417h0M2086 1452h0M2106 1414h0M2098 1411h0M2106 1444h0M2013 1447h0M2010 1421h0M2117 1420h0M2082 1407h0M2119 1422h0M2016 1449h0M2122 1429h0M2064 1457h0"/><path stroke="#ffb500" d="M2113 1440h0M2032 1457h0M2118 1435h0M2014 1447h0M2117 1436h0M2013 1446h0M2052 1404h0M2016 1448h0M2116 1422h0M2034 1457h0M2112 1438h0M2072 1455h0M2082 1452h0M2055 1458h0M2082 1452h0M2112 1421h0M2010 1441h0M2044 1406h0M2009 1425h0M2011 1422h0M2091 1411h0M2075 1453h0"/><path stroke="#ff9f00" d="M2043 1457h0M2011 1422h0M2116 1429h0M2015 1446h0M2008 1430h0M2018 1448h0M2038 1407h0M2037 1456h0M2060 1456h0M2112 1424h0M2086 1449h0M2014 1420h0M2102 1442h0M2105 1440h0M2059 1456h0M2059 1405h0M2037 1455h0M2023 1450h0M2081 1451h0M2095 1445h0M2103 1441h0M2052 1456h0"/><path stroke="#ff8a00" d="M2110 1434h0M2087 1411h0M2022 1415h0M2109 1435h0M2107 1421h0M2012 1425h0M2019 1417h0M2060 1406h0M2020 1417h0M2043 1455h0M2108 1434h0M2021 1448h0M2081 1450h0M2107 1435h0M2070 1407h0M2099 1418h0M2012 1436h0M2050 1455h0M2014 1440h0M2016 1443h0M2105 1435h0M2046 1407h0M2055 1455h0M2100 1419h0"/><path stroke="#ff7500" d="M2090 1445h0M2012 1432h0M2022 1417h0M2103 1437h0M2106 1427h0M2102 1437h0M2106 1430h0M2032 1452h0M2046 1408h0M2014 1436h0M2047 1454h0M2070 1408h0M2102 1436h0M2084 1412h0M2015 1425h0M2103 1435h0M2013 1432h0M2068 1452h0M2014 1429h0M2100 1438h0M2016 1425h0M2065 1452h0M2014 1435h0M2015 1427h0M2015 1426h0M2017 1440h0M2052 1454h0M2028 1414h0"/><path stroke="#ff6000" d="M2101 1435h0M2015 1437h0M2016 1438h0M2070 1409h0M2102 1433h0M2022 1419h0M2093 1442h0M2044 1453h0M2097 1420h0M2036 1451h0M2096 1439h0M2025 1416h0M2084 1413h0M2093 1418h0M2063 1452h0M2065 1451h0M2067 1409h0M2015 1432h0M2084 1445h0M2021 1420h0M2095 1420h0M2091 1417h0M2100 1432h0M2100 1429h0M2078 1447h0M2088 1443h0M2088 1416h0"/><path stroke="#ff4a00" d="M2029 1447h0M2017 1427h0M2030 1415h0M2043 1410h0M2029 1447h0M2032 1449h0M2018 1427h0M2099 1431h0M2051 1452h0M2017 1431h0M2018 1426h0M2098 1432h0M2073 1448h0M2096 1436h0M2098 1431h0M2097 1424h0M2023 1420h0M2079 1446h0M2096 1423h0M2097 1425h0M2090 1418h0M2032 1415h0M2021 1424h0M2032 1448h0M2019 1428h0M2050 1451h0M2047 1411h0M2021 1439h0"/><path stroke="#ff3500" d="M2040 1450h0M2074 1447h0M2089 1439h0M2082 1415h0M2026 1443h0M2092 1421h0M2093 1436h0M2084 1416h0M2078 1414h0M2083 1416h0M2071 1412h0M2085 1417h0M2083 1417h0M2040 1448h0M2053 1411h0M2062 1411h0M2036 1415h0M2044 1449h0M2082 1416h0M2048 1412h0M2052 1411h0M2027 1443h0M2082 1442h0M2023 1438h0M2063 1411h0M2087 1419h0"/><path stroke="#ff2000" d="M2084 1417h0M2077 1414h0M2023 1438h0M2029 1420h0M2022 1435h0M2023 1436h0M2092 1426h0M2027 1441h0M2084 1418h0M2064 1412h0M2072 1446h0M2040 1448h0M2031 1419h0M2075 1414h0M2040 1415h0M2062 1448h0M2078 1443h0M2076 1444h0M2070 1413h0M2033 1444h0M2023 1429h0M2081 1417h0M2086 1421h0"/><path stroke="#ff0b00" d="M2039 1416h0M2071 1414h0M2056 1448h0M2081 1441h0M2040 1415h0M2089 1432h0M2024 1431h0M2028 1438h0M2049 1414h0M2048 1414h0M2055 1413h0M2051 1447h0M2070 1415h0M2083 1420h0M2030 1441h0M2026 1426h0M2033 1442h0M2087 1434h0"/><path stroke="#f40000" d="M2044 1416h0M2074 1442h0M2026 1430h0M2084 1436h0M2087 1431h0M2076 1441h0M2047 1415h0M2079 1440h0M2033 1421h0M2038 1418h0M2060 1446h0M2036 1420h0M2086 1431h0M2038 1443h0M2083 1435h0M2030 1437h0M2040 1418h0M2052 1415h0M2032 1423h0M2085 1426h0"/><path stroke="#df0000" d="M2064 1444h0M2043 1417h0M2038 1420h0M2083 1426h0M2078 1421h0M2044 1444h0M2076 1420h0M2030 1428h0M2057 1416h0M2030 1433h0M2083 1430h0M2054 1444h0M2083 1429h0M2039 1420h0M2066 1417h0M2072 1419h0M2045 1443h0M2041 1442h0M2081 1432h0M2031 1429h0M2033 1426h0M2081 1431h0M2077 1436h0M2073 1439h0M2081 1426h0M2035 1424h0M2032 1434h0"/><path stroke="#ca0000" d="M2061 1417h0M2041 1420h0M2043 1442h0M2061 1417h0M2036 1437h0M2070 1440h0M2072 1438h0M2058 1442h0M2059 1417h0M2035 1425h0M2048 1442h0M2069 1419h0M2080 1431h0M2039 1439h0M2043 1441h0M2034 1430h0M2079 1429h0M2038 1423h0M2056 1442h0M2040 1422h0M2037 1424h0M2075 1423h0M2077 1426h0"/><path stroke="#b50000" d="M2077 1432h0M2051 1419h0M2054 1419h0M2075 1434h0M2038 1436h0M2044 1439h0M2075 1424h0M2077 1428h0M2060 1440h0M2076 1426h0M2073 1435h0M2063 1440h0M2057 1419h0M2075 1428h0M2062 1420h0M2048 1421h0M2042 1437h0M2063 1420h0M2061 1439h0M2053 1440h0M2067 1438h0M2058 1440h0M2073 1425h0M2049 1421h0M2071 1424h0"/><path stroke="#9f0000" d="M2074 1431h0M2054 1439h0M2062 1421h0M2074 1430h0M2073 1426h0M2058 1439h0M2039 1429h0M2053 1439h0M2041 1426h0M2059 1421h0M2061 1421h0M2043 1436h0M2042 1426h0M2043 1425h0M2041 1429h0M2069 1434h0M2060 1438h0M2060 1422h0M2049 1438h0M2071 1427h0M2049 1437h0M2044 1426h0M2071 1431h0M2044 1434h0M2059 1422h0M2042 1431h0M2043 1428h0M2045 1434h0M2066 1424h0M2066 1424h0M2044 1427h0M2064 1424h0"/><path stroke="#8a0000" d="M2069 1429h0M2047 1425h0M2068 1432h0M2055 1436h0M2057 1436h0M2067 1428h0M2046 1432h0M2049 1434h0M2055 1424h0M2050 1434h0M2051 1434h0M2052 1426h0M2049 1433h0M2065 1431h0M2051 1427h0M2049 1429h0M2063 1428h0M2063 1431h0M2049 1430h0M2064 1430h0M2063 1431h0M2062 1427h0M2054 1433h0M2062 1431h0M2055 1433h0M2058 1427h0M2055 1428h0M2059 1431h0M2052 1430h0M2053 1428h0M2054 1428h0M2055 1429h0"/></g>
<line x1="1704.2" y1="1741.5" x2="2250.0" y2="1261.4" stroke="#000" stroke-width="2.4" stroke-dasharray="9.3 7.2"/>
<line x1="1704.2" y1="1562.0" x2="2250.0" y2="1374.8" stroke="#e8141c" stroke-width="2.6"/>
<path d="M1704.2 1741.5v-5.6M1704.2 1261.4v5.6M1704.2 1741.5h5.6M2250.0 1741.5h-5.6M1886.1 1741.5v-5.6M1886.1 1261.4v5.6M1704.2 1581.5h5.6M2250.0 1581.5h-5.6M2068.1 1741.5v-5.6M2068.1 1261.4v5.6M1704.2 1421.4h5.6M2250.0 1421.4h-5.6M2250.0 1741.5v-5.6M2250.0 1261.4v5.6M1704.2 1261.4h5.6M2250.0 1261.4h-5.6" stroke="#262626" stroke-width="1.3" fill="none"/>
<rect x="1704.2" y="1261.4" width="545.8" height="480.1" fill="none" stroke="#3a3a3a" stroke-width="1.15"/>
<g font-size="35"><text x="1704.2" y="1778.3" text-anchor="middle">0.001</text><text x="1700.1" y="1750.7" text-anchor="end">0.001</text><text x="1886.1" y="1778.3" text-anchor="middle">0.01</text><text x="1700.1" y="1593.0" text-anchor="end">0.01</text><text x="2068.1" y="1778.3" text-anchor="middle">0.1</text><text x="1700.1" y="1432.9" text-anchor="end">0.1</text><text x="2250.0" y="1778.3" text-anchor="middle">1</text><text x="1700.1" y="1276.3" text-anchor="end">1</text></g>
<g font-size="36">
<text x="1722.9" y="1303.2">R<tspan font-size="24" dy="-11">2</tspan><tspan dy="11">=0.29</tspan></text>
<text x="1722.9" y="1345.9">RMSE=0.11 m<tspan font-size="24" dy="-10.5">-1</tspan></text>
<text x="1722.9" y="1388.6">MAPD=108.2%</text>
<text x="1722.9" y="1431.3">Number=1329</text>
</g>
<text x="2234.6" y="1723.2" font-size="40" text-anchor="end">(I)</text>
<text x="1978.1" y="1838.3" font-size="36.60" text-anchor="middle"><tspan>In situ Rrs estimated a</tspan><tspan font-size="28.2" dy="17.9">dg</tspan><tspan dy="-17.9">(443) (m</tspan><tspan font-size="28.2" dy="-18.3">-1</tspan><tspan dy="18.3">)</tspan></text>
<text transform="translate(1630.4 1501.5) rotate(-90)" font-size="36.60" text-anchor="middle"><tspan>OC-SMART a</tspan><tspan font-size="27.5" dy="17.6">dg</tspan><tspan dy="-17.6">(443) (m</tspan><tspan font-size="27.5" dy="-17.9">-1</tspan><tspan dy="17.9">)</tspan></text>
<rect x="2274.3" y="1260.5" width="28.7" height="484.0" fill="url(#jet)" stroke="#2a2a2a" stroke-width="1.2"/>
<path d="M2303.0 1647.7h-5M2303.0 1550.9h-5M2303.0 1454.1h-5M2303.0 1357.3h-5" stroke="#300" stroke-width="1.3"/>
<g font-size="35"><text x="2313.0" y="1756.2">0</text><text x="2313.0" y="1659.4">0.2</text><text x="2313.0" y="1562.6">0.4</text><text x="2313.0" y="1465.8">0.6</text><text x="2313.0" y="1369.0">0.8</text><text x="2313.0" y="1272.2">1</text></g>
</g>
<g id="pJ">
<path d="M257.0 1883.5V2367.5M115.6 2246.5H681.4M398.5 1883.5V2367.5M115.6 2125.5H681.4M539.9 1883.5V2367.5M115.6 2004.5H681.4" stroke="#e3e3e3" stroke-width="1.2" fill="none"/>
<g fill="none" stroke-width="5.0" stroke-linecap="round"><path stroke="#00008a" d="M153 2171h0M382 2062h0M488 2173h0M132 2300h0M507 2231h0M488 2198h0M462 2314h0M236 2155h0M154 2328h0"/><path stroke="#00009f" d="M450 2151h0M210 2175h0M440 2131h0M283 2137h0M176 2239h0M428 2127h0M174 2260h0M255 2167h0M272 2149h0M309 2123h0M161 2290h0"/><path stroke="#0000b5" d="M484 2242h0M222 2187h0M207 2216h0M176 2326h0M193 2238h0M230 2191h0M313 2132h0M193 2244h0M223 2197h0M206 2228h0M170 2296h0M219 2208h0M204 2341h0M478 2254h0M279 2165h0M476 2263h0M419 2349h0M476 2260h0M296 2161h0"/><path stroke="#0000ca" d="M417 2348h0M472 2262h0M328 2127h0M322 2135h0M273 2178h0M452 2208h0M466 2257h0M185 2287h0M185 2287h0M185 2288h0M452 2220h0M191 2322h0M187 2314h0M452 2285h0M383 2115h0M373 2113h0"/><path stroke="#0000df" d="M298 2173h0M296 2174h0M189 2304h0M449 2284h0M193 2313h0M380 2117h0M427 2165h0M367 2117h0M453 2265h0M438 2185h0M380 2118h0M201 2281h0M241 2217h0M336 2140h0M335 2142h0"/><path stroke="#0000f4" d="M447 2234h0M240 2222h0M415 2154h0M212 2263h0M399 2135h0M221 2248h0M438 2293h0M346 2134h0M226 2339h0M211 2325h0M221 2256h0"/><path stroke="#000bff" d="M251 2217h0M256 2213h0M205 2315h0M255 2214h0M224 2253h0M408 2151h0M345 2140h0M402 2341h0M276 2202h0M400 2343h0M264 2210h0M218 2268h0M299 2190h0M434 2197h0M304 2188h0M363 2130h0M297 2349h0M370 2129h0M266 2212h0M340 2153h0M405 2336h0M284 2200h0"/><path stroke="#0020ff" d="M435 2203h0M238 2246h0M310 2187h0M234 2251h0M220 2271h0M425 2305h0M258 2348h0M361 2134h0M243 2243h0M357 2136h0M382 2348h0M253 2229h0M255 2228h0M393 2140h0M436 2282h0M269 2215h0M231 2259h0M283 2204h0M307 2191h0M324 2343h0M387 2345h0M438 2268h0M240 2252h0"/><path stroke="#0035ff" d="M256 2232h0M259 2228h0M324 2181h0M248 2245h0M438 2251h0M248 2343h0M428 2194h0M281 2209h0M365 2137h0M302 2344h0M353 2145h0M248 2249h0M383 2138h0M271 2218h0M220 2283h0M361 2346h0M318 2188h0M230 2270h0M357 2345h0M373 2346h0M415 2172h0M306 2343h0M282 2212h0M219 2317h0M296 2203h0M217 2309h0M258 2242h0M427 2198h0M302 2200h0"/><path stroke="#004aff" d="M397 2334h0M228 2275h0M217 2306h0M435 2239h0M426 2198h0M238 2266h0M434 2231h0M223 2287h0M220 2293h0M432 2279h0M424 2191h0M348 2156h0M245 2263h0M220 2297h0M220 2301h0M220 2307h0M238 2269h0M261 2248h0M236 2332h0M385 2340h0M401 2328h0M383 2144h0M288 2214h0M374 2342h0"/><path stroke="#0060ff" d="M224 2317h0M316 2196h0M382 2340h0M377 2143h0M269 2238h0M326 2188h0M251 2264h0M264 2249h0M432 2236h0M270 2238h0M236 2276h0M341 2338h0M232 2326h0M297 2339h0M266 2340h0M228 2289h0M277 2340h0M386 2147h0M432 2252h0M224 2306h0M377 2339h0M227 2318h0M424 2201h0M237 2279h0M254 2266h0"/><path stroke="#0075ff" d="M269 2249h0M267 2252h0M315 2336h0M431 2247h0M282 2226h0M352 2338h0M414 2307h0M415 2183h0M429 2268h0M304 2209h0M228 2295h0M408 2314h0M246 2333h0M237 2283h0M270 2253h0M255 2336h0M229 2301h0M409 2312h0M383 2151h0M287 2336h0M282 2232h0"/><path stroke="#008aff" d="M320 2333h0M229 2309h0M391 2156h0M377 2150h0M382 2151h0M257 2272h0M428 2256h0M300 2216h0M381 2334h0M243 2328h0M367 2152h0M423 2211h0M406 2172h0M408 2176h0M371 2336h0M398 2163h0M389 2329h0M307 2212h0M278 2244h0M372 2151h0M261 2335h0M305 2214h0M304 2333h0M232 2312h0M427 2232h0M267 2335h0M288 2229h0M363 2155h0M300 2333h0M370 2152h0"/><path stroke="#009fff" d="M348 2333h0M297 2221h0M381 2153h0M265 2334h0M376 2152h0M233 2306h0M296 2333h0M235 2316h0M257 2276h0M265 2334h0M423 2276h0M341 2332h0M284 2237h0M362 2157h0M382 2154h0M243 2286h0M298 2221h0M264 2273h0M238 2320h0M234 2306h0M422 2214h0M378 2154h0M259 2276h0M286 2237h0M374 2333h0M355 2164h0M365 2333h0"/><path stroke="#00b5ff" d="M342 2330h0M301 2223h0M323 2207h0M390 2161h0M278 2264h0M283 2248h0M247 2325h0M270 2274h0M283 2250h0M246 2323h0M260 2330h0M305 2221h0M365 2332h0M338 2188h0M238 2311h0M399 2316h0M239 2313h0M246 2323h0M305 2221h0M243 2292h0M376 2330h0M322 2209h0M329 2327h0M422 2223h0M304 2328h0M358 2164h0M278 2268h0M415 2292h0M271 2276h0M257 2283h0M244 2319h0M296 2328h0M363 2331h0M346 2329h0"/><path stroke="#00caff" d="M247 2322h0M261 2283h0M290 2242h0M286 2250h0M253 2287h0M413 2294h0M422 2261h0M418 2280h0M421 2268h0M241 2308h0M282 2266h0M308 2325h0M252 2289h0M295 2326h0M250 2291h0M410 2190h0M257 2326h0M323 2212h0M334 2199h0M320 2215h0M312 2324h0M417 2280h0M279 2277h0M264 2326h0M343 2326h0M341 2189h0"/><path stroke="#00dfff" d="M304 2324h0M335 2199h0M247 2317h0M278 2279h0M351 2327h0M298 2324h0M289 2254h0M382 2162h0M250 2293h0M325 2323h0M302 2323h0M246 2300h0M286 2269h0M384 2163h0M359 2328h0M263 2325h0M306 2228h0M261 2287h0M352 2327h0M401 2309h0M387 2321h0M289 2257h0M419 2268h0M416 2280h0M336 2199h0M275 2324h0M277 2324h0M295 2322h0M259 2323h0M289 2261h0M362 2327h0M316 2321h0M289 2262h0M249 2298h0M249 2299h0M263 2323h0M416 2278h0M333 2205h0M271 2323h0"/><path stroke="#00f4ff" d="M367 2164h0M287 2275h0M420 2232h0M257 2321h0M374 2163h0M296 2244h0M309 2229h0M295 2246h0M408 2191h0M265 2323h0M262 2290h0M294 2249h0M272 2322h0M308 2230h0M328 2212h0M302 2236h0M260 2292h0M399 2309h0M274 2287h0M316 2224h0M299 2241h0M315 2319h0M294 2249h0M367 2326h0M296 2245h0M340 2195h0M305 2233h0M281 2285h0M290 2269h0M360 2169h0M304 2234h0M289 2320h0M250 2304h0M280 2286h0M292 2319h0M293 2319h0M337 2200h0M315 2319h0M409 2194h0M268 2321h0M281 2320h0M272 2289h0M260 2320h0M251 2307h0M309 2231h0M416 2217h0M314 2318h0M330 2319h0M307 2233h0M296 2252h0M287 2318h0M282 2319h0M261 2319h0M256 2297h0M304 2318h0M347 2185h0M419 2255h0M326 2318h0M255 2315h0M288 2283h0M259 2296h0M351 2180h0"/><path stroke="#0bfff4" d="M406 2298h0M291 2317h0M412 2286h0M263 2319h0M292 2317h0M253 2306h0M351 2180h0M257 2315h0M305 2316h0M267 2294h0M310 2232h0M256 2314h0M373 2323h0M286 2316h0M406 2192h0M291 2316h0M311 2232h0M290 2282h0M257 2299h0M272 2293h0M300 2316h0M394 2312h0M255 2306h0M313 2231h0M255 2306h0M361 2171h0M327 2217h0M300 2248h0M262 2316h0M344 2192h0M413 2281h0M372 2166h0M296 2266h0M281 2315h0M382 2168h0M271 2316h0M277 2295h0M312 2315h0M258 2303h0M297 2266h0M265 2315h0M258 2309h0M293 2285h0M285 2313h0M271 2297h0M415 2270h0M296 2313h0M397 2308h0M393 2175h0M265 2299h0M292 2312h0M416 2224h0M297 2269h0M271 2298h0M260 2303h0M348 2187h0M295 2279h0"/><path stroke="#20ffdf" d="M263 2301h0M330 2216h0M294 2285h0M416 2228h0M364 2323h0M306 2241h0M264 2301h0M267 2299h0M329 2316h0M273 2299h0M262 2311h0M309 2313h0M260 2307h0M276 2299h0M288 2296h0M362 2172h0M265 2302h0M303 2249h0M294 2289h0M288 2307h0M321 2227h0M300 2259h0M290 2307h0M283 2306h0M379 2168h0M331 2216h0M264 2305h0M302 2251h0M279 2303h0M276 2309h0M273 2302h0M265 2305h0M303 2249h0M298 2277h0M277 2306h0M415 2265h0M383 2317h0M353 2181h0M330 2217h0M331 2315h0M268 2309h0M297 2308h0M267 2306h0M273 2307h0M309 2240h0M303 2309h0M383 2316h0M297 2306h0M296 2293h0M388 2173h0M299 2281h0M302 2308h0M368 2321h0M305 2249h0M353 2182h0M300 2281h0M298 2291h0"/><path stroke="#35ffca" d="M403 2191h0M302 2264h0M329 2313h0M308 2246h0M362 2320h0M300 2286h0M304 2258h0M356 2180h0M354 2183h0M300 2291h0M416 2247h0M305 2255h0M318 2310h0M302 2302h0M307 2250h0M304 2265h0M304 2260h0M307 2305h0M315 2237h0M391 2176h0M307 2304h0M302 2299h0M398 2185h0M415 2255h0M367 2172h0M313 2307h0M346 2317h0M317 2308h0M305 2300h0M371 2171h0M305 2268h0M347 2317h0M374 2171h0M304 2287h0M305 2274h0M415 2250h0M331 2221h0M307 2301h0M349 2317h0M305 2283h0M415 2236h0M403 2295h0M393 2180h0M363 2175h0"/><path stroke="#4affb5" d="M379 2316h0M315 2305h0M346 2197h0M316 2239h0M400 2298h0M342 2315h0M308 2298h0M377 2172h0M331 2222h0M308 2261h0M326 2309h0M309 2298h0M358 2181h0M307 2275h0M386 2312h0M315 2303h0M308 2267h0M312 2301h0M313 2247h0M308 2292h0M399 2300h0M309 2294h0M357 2317h0M309 2288h0M379 2314h0M413 2260h0M382 2174h0M337 2214h0M367 2175h0M324 2232h0M310 2281h0M348 2197h0M407 2283h0"/><path stroke="#60ff9f" d="M370 2174h0M352 2316h0M319 2241h0M311 2265h0M311 2269h0M366 2316h0M408 2279h0M337 2310h0M349 2196h0M320 2240h0M402 2293h0M324 2304h0M348 2314h0M319 2242h0M312 2279h0M352 2191h0M315 2252h0M407 2282h0M357 2185h0M320 2299h0M313 2269h0M317 2248h0M313 2265h0M411 2266h0M350 2313h0M401 2294h0M377 2175h0M412 2229h0M315 2288h0M385 2309h0M360 2315h0M326 2235h0M325 2302h0M397 2189h0M316 2254h0"/><path stroke="#75ff8a" d="M325 2236h0M319 2295h0M318 2294h0M315 2283h0M330 2304h0M320 2297h0M338 2309h0M316 2290h0M379 2176h0M342 2310h0M411 2228h0M319 2294h0M315 2268h0M332 2227h0M317 2289h0M315 2274h0M397 2191h0M392 2184h0M320 2294h0M385 2178h0M346 2206h0M365 2180h0M365 2180h0M403 2203h0M320 2293h0M319 2291h0M321 2246h0M319 2251h0M389 2305h0M317 2267h0M371 2313h0M403 2287h0M411 2232h0M381 2310h0M376 2312h0M320 2287h0"/><path stroke="#8aff75" d="M404 2209h0M384 2179h0M378 2310h0M378 2178h0M375 2178h0M383 2308h0M320 2261h0M338 2305h0M321 2255h0M407 2271h0M408 2269h0M401 2289h0M329 2236h0M392 2187h0M354 2194h0M344 2308h0M367 2312h0M325 2244h0M388 2304h0M331 2234h0M321 2256h0M343 2307h0M332 2300h0M410 2239h0M354 2310h0M330 2298h0M381 2180h0M335 2302h0M322 2276h0"/><path stroke="#9fff60" d="M360 2187h0M373 2180h0M324 2285h0M342 2305h0M396 2194h0M326 2288h0M379 2181h0M338 2224h0M384 2305h0M348 2208h0M332 2235h0M392 2299h0M324 2270h0M343 2304h0M341 2303h0M378 2181h0M349 2307h0M324 2275h0M405 2273h0M353 2200h0M392 2190h0M326 2252h0M324 2259h0M358 2309h0"/><path stroke="#b5ff4a" d="M402 2210h0M384 2184h0M379 2182h0M371 2309h0M404 2217h0M383 2183h0M345 2303h0M364 2309h0M351 2306h0M365 2309h0M378 2307h0M386 2302h0M381 2183h0M329 2284h0M399 2286h0M328 2282h0M385 2303h0M343 2220h0M335 2294h0M356 2198h0M335 2294h0M352 2306h0M327 2260h0M328 2276h0M327 2259h0M343 2301h0M329 2282h0M335 2293h0M349 2304h0M390 2298h0M377 2306h0M392 2192h0"/><path stroke="#caff35" d="M407 2230h0M354 2306h0M391 2296h0M330 2248h0M334 2290h0M353 2205h0M367 2187h0M328 2263h0M332 2286h0M407 2253h0M340 2297h0M330 2250h0M371 2185h0M347 2302h0M328 2266h0M333 2240h0M330 2276h0M329 2274h0M407 2241h0M404 2221h0M392 2195h0M344 2299h0M386 2300h0M335 2288h0M394 2292h0M333 2243h0"/><path stroke="#dfff20" d="M340 2295h0M401 2213h0M332 2279h0M401 2213h0M384 2188h0M345 2298h0M348 2300h0M346 2299h0M336 2288h0M366 2190h0M363 2194h0M387 2191h0M342 2227h0M387 2191h0M370 2188h0M397 2286h0M354 2207h0M397 2206h0M387 2191h0M336 2238h0M351 2301h0M366 2191h0M404 2225h0M377 2303h0M360 2198h0M362 2195h0M364 2194h0M333 2250h0M375 2188h0M332 2269h0M396 2285h0M405 2252h0M341 2291h0"/><path stroke="#f4ff0b" d="M360 2303h0M388 2194h0M405 2257h0M403 2226h0M366 2193h0M333 2261h0M334 2273h0M364 2303h0M342 2291h0M397 2208h0M333 2262h0M344 2225h0M384 2191h0M351 2214h0M333 2260h0M335 2250h0M380 2300h0M371 2190h0M383 2298h0M364 2196h0M376 2189h0M403 2260h0M369 2302h0M376 2301h0M377 2190h0M337 2278h0M385 2297h0M393 2288h0"/><path stroke="#fff400" d="M405 2246h0M339 2238h0M391 2290h0M375 2190h0M356 2208h0M403 2261h0M336 2271h0M345 2291h0M371 2192h0M361 2301h0M338 2276h0M337 2273h0M356 2298h0M341 2284h0M394 2284h0M335 2260h0M340 2282h0M355 2209h0M356 2299h0M336 2268h0M394 2285h0M403 2234h0M361 2201h0M392 2204h0M336 2262h0M347 2291h0M383 2296h0M336 2264h0M352 2296h0M383 2194h0M368 2194h0M348 2292h0M391 2202h0M347 2225h0M342 2283h0M337 2267h0M339 2278h0M378 2192h0M380 2193h0M346 2227h0M375 2192h0M384 2195h0M390 2289h0"/><path stroke="#ffdf00" d="M382 2194h0M352 2295h0M361 2203h0M363 2200h0M368 2300h0M382 2194h0M340 2240h0M341 2279h0M384 2196h0M375 2193h0M401 2226h0M338 2269h0M402 2229h0M383 2195h0M363 2201h0M375 2299h0M350 2220h0M341 2277h0M403 2241h0M391 2203h0M339 2273h0M397 2216h0M386 2197h0M338 2254h0M360 2298h0M375 2298h0M368 2299h0M338 2254h0M389 2201h0M402 2254h0M391 2205h0M399 2222h0M374 2194h0M388 2200h0M350 2292h0M340 2243h0M378 2194h0M338 2259h0M372 2195h0M342 2238h0M370 2196h0M386 2198h0M400 2225h0M372 2298h0M358 2296h0M378 2195h0"/><path stroke="#ffca00" d="M382 2295h0M341 2274h0M339 2260h0M389 2203h0M361 2206h0M398 2221h0M402 2243h0M382 2197h0M389 2204h0M369 2198h0M367 2297h0M379 2295h0M396 2216h0M388 2202h0M388 2202h0M342 2272h0M361 2207h0M382 2198h0M384 2292h0M363 2296h0M383 2293h0M350 2288h0M344 2277h0M383 2198h0M372 2297h0M391 2207h0M360 2209h0M386 2201h0M402 2245h0M354 2291h0"/><path stroke="#ffb500" d="M350 2287h0M392 2211h0M361 2295h0M398 2223h0M347 2231h0M381 2199h0M390 2284h0M356 2217h0M385 2201h0M378 2198h0M369 2296h0M385 2289h0M388 2205h0M370 2200h0M359 2212h0M380 2199h0M401 2250h0M354 2288h0M400 2250h0M347 2233h0M344 2241h0M348 2231h0M371 2201h0M343 2267h0M368 2295h0M351 2225h0M399 2230h0M367 2294h0M361 2292h0M342 2261h0M344 2271h0"/><path stroke="#ff9f00" d="M343 2248h0M346 2238h0M343 2262h0M361 2292h0M367 2294h0M400 2253h0M348 2233h0M363 2209h0M370 2294h0M350 2282h0M392 2213h0M390 2211h0M351 2226h0M397 2266h0M375 2293h0M375 2201h0M380 2291h0M365 2293h0M348 2234h0M349 2230h0M359 2214h0M395 2269h0M384 2287h0M382 2289h0M369 2204h0M392 2216h0M361 2291h0M399 2239h0M369 2204h0M372 2203h0M354 2223h0M350 2280h0M384 2287h0M399 2234h0M374 2203h0M344 2253h0M397 2229h0"/><path stroke="#ff8a00" d="M383 2205h0M345 2246h0M346 2269h0M390 2279h0M399 2244h0M394 2271h0M350 2232h0M344 2252h0M371 2292h0M380 2204h0M344 2258h0M389 2280h0M368 2207h0M346 2267h0M363 2213h0M382 2287h0M394 2270h0M366 2291h0M369 2207h0M384 2285h0M346 2262h0M397 2232h0M355 2225h0M372 2290h0M378 2205h0M378 2289h0"/><path stroke="#ff7500" d="M355 2225h0M346 2250h0M347 2244h0M346 2251h0M377 2289h0M369 2208h0M354 2280h0M378 2289h0M388 2213h0M388 2214h0M347 2246h0M379 2288h0M382 2207h0M398 2247h0M354 2280h0M396 2232h0M347 2245h0M397 2233h0M377 2288h0M346 2257h0M371 2289h0M347 2261h0M390 2275h0M385 2282h0M359 2284h0M371 2208h0M396 2259h0M360 2285h0M362 2286h0M358 2283h0M379 2207h0M347 2249h0M391 2220h0M347 2251h0M397 2249h0M395 2260h0M352 2233h0"/><path stroke="#ff6000" d="M351 2235h0M349 2264h0M355 2228h0M395 2229h0M374 2288h0M365 2287h0M368 2287h0M386 2279h0M369 2211h0M381 2284h0M365 2214h0M357 2225h0M390 2271h0M381 2283h0M394 2260h0M395 2232h0M368 2286h0M348 2252h0M372 2211h0M360 2222h0M356 2277h0M375 2210h0M396 2241h0M387 2217h0M385 2214h0"/><path stroke="#ff4a00" d="M350 2261h0M396 2245h0M355 2274h0M386 2216h0M388 2275h0M352 2268h0M395 2254h0M387 2217h0M380 2212h0M361 2221h0M363 2283h0M352 2237h0M395 2250h0M355 2232h0M354 2234h0M390 2223h0M394 2233h0M363 2220h0M350 2245h0M350 2260h0M371 2285h0M387 2218h0M360 2279h0M386 2276h0M351 2262h0M361 2280h0M360 2279h0M380 2282h0M394 2256h0M377 2283h0M383 2279h0M375 2284h0M376 2212h0M386 2274h0M362 2222h0M353 2237h0M368 2283h0M368 2283h0M355 2271h0"/><path stroke="#ff3500" d="M385 2275h0M383 2278h0M378 2282h0M387 2273h0M358 2276h0M379 2214h0M377 2282h0M359 2226h0M382 2215h0M386 2274h0M376 2214h0M393 2233h0M386 2274h0M375 2214h0M355 2269h0M385 2275h0M389 2268h0M357 2231h0M355 2269h0M354 2237h0M387 2272h0M366 2219h0M388 2224h0M389 2226h0M385 2274h0M383 2218h0M389 2267h0M356 2234h0M380 2278h0M393 2239h0"/><path stroke="#ff2000" d="M393 2239h0M353 2243h0M352 2257h0M371 2281h0M382 2218h0M391 2260h0M382 2276h0M393 2242h0M388 2267h0M356 2267h0M369 2218h0M386 2223h0M390 2229h0M389 2263h0M392 2238h0M353 2248h0M384 2220h0M385 2221h0M364 2223h0M353 2257h0M393 2242h0M353 2250h0M357 2233h0M373 2280h0M358 2232h0M357 2268h0M385 2271h0M391 2234h0M355 2241h0M363 2275h0M388 2265h0M365 2223h0M354 2256h0M382 2275h0M391 2235h0M371 2219h0M390 2231h0M372 2279h0M366 2223h0M388 2228h0M383 2273h0M361 2228h0M384 2221h0M354 2257h0"/><path stroke="#ff0b00" d="M365 2276h0M391 2253h0M380 2276h0M374 2219h0M388 2264h0M374 2219h0M389 2229h0M386 2225h0M390 2259h0M375 2277h0M367 2223h0M389 2260h0M389 2260h0M373 2220h0M370 2221h0M370 2222h0M388 2230h0M355 2253h0M373 2277h0M355 2248h0M356 2257h0M387 2228h0M355 2248h0M356 2259h0M389 2259h0M370 2276h0M391 2250h0"/><path stroke="#f40000" d="M357 2240h0M385 2226h0M373 2276h0M376 2275h0M363 2230h0M378 2274h0M377 2274h0M390 2238h0M362 2269h0M356 2250h0M375 2275h0M362 2269h0M356 2253h0M377 2222h0M386 2264h0M356 2248h0M365 2272h0M363 2270h0M382 2270h0M360 2266h0M367 2226h0M366 2227h0M385 2265h0M368 2225h0M379 2272h0M357 2253h0M357 2249h0M367 2226h0M357 2252h0M358 2256h0M361 2234h0M369 2273h0M383 2267h0M359 2261h0M388 2236h0M384 2228h0M381 2225h0M364 2230h0"/><path stroke="#df0000" d="M384 2265h0M389 2249h0M378 2224h0M378 2224h0M389 2251h0M367 2271h0M369 2272h0M374 2273h0M376 2224h0M389 2243h0M369 2226h0M371 2225h0M378 2224h0M381 2226h0M388 2251h0M360 2260h0M389 2242h0M382 2227h0M385 2261h0M369 2271h0M377 2270h0M388 2249h0M363 2265h0M363 2265h0M388 2241h0M374 2271h0M387 2256h0M388 2240h0M386 2257h0M386 2235h0M361 2240h0M372 2226h0M366 2231h0M374 2270h0M372 2270h0"/><path stroke="#ca0000" d="M379 2227h0M385 2233h0M381 2228h0M363 2262h0M387 2248h0M385 2259h0M375 2270h0M360 2244h0M360 2255h0M364 2265h0M362 2238h0M366 2266h0M383 2230h0M387 2248h0M361 2258h0M380 2228h0M387 2246h0M371 2228h0M365 2233h0M360 2249h0M385 2234h0M364 2236h0M385 2257h0M387 2240h0M375 2268h0M374 2268h0M387 2248h0M387 2243h0M373 2228h0M369 2230h0M378 2266h0M381 2263h0M365 2263h0M373 2268h0M361 2247h0M364 2237h0M362 2242h0M386 2240h0M364 2261h0"/><path stroke="#b50000" d="M372 2230h0M364 2239h0M375 2266h0M380 2263h0M385 2253h0M381 2232h0M386 2244h0M369 2265h0M385 2253h0M369 2265h0M362 2244h0M376 2230h0M376 2265h0M365 2261h0M375 2230h0M383 2237h0M373 2265h0M385 2249h0M378 2231h0M376 2264h0M370 2233h0M384 2251h0M371 2232h0M366 2239h0M370 2233h0M371 2264h0M381 2259h0M384 2246h0M384 2250h0M372 2263h0M363 2249h0"/><path stroke="#9f0000" d="M363 2249h0M383 2241h0M367 2260h0M370 2262h0M365 2257h0M373 2232h0M378 2261h0M378 2233h0M366 2240h0M384 2248h0M371 2262h0M373 2263h0M381 2257h0M365 2254h0M368 2259h0M365 2242h0M382 2253h0M374 2262h0M377 2233h0M383 2244h0M374 2233h0M375 2262h0M374 2262h0M381 2237h0M380 2236h0M383 2245h0M370 2236h0M373 2234h0M368 2238h0M383 2246h0M365 2245h0M381 2239h0M365 2245h0M367 2256h0M373 2234h0M365 2245h0M373 2235h0M379 2258h0M370 2260h0M382 2242h0M368 2258h0M378 2259h0M366 2244h0M381 2240h0M381 2253h0M373 2235h0M380 2254h0M381 2253h0M381 2251h0M373 2236h0M381 2253h0"/><path stroke="#8a0000" d="M379 2238h0M374 2236h0M380 2240h0M381 2246h0M368 2243h0M376 2237h0M370 2257h0M368 2242h0M370 2256h0M378 2239h0M367 2248h0M372 2239h0M371 2239h0M368 2246h0M372 2256h0M369 2253h0M371 2239h0M377 2254h0M368 2246h0M373 2239h0M378 2241h0M369 2244h0M379 2244h0M378 2241h0M369 2245h0M373 2239h0M374 2254h0M377 2252h0M370 2250h0M371 2242h0M377 2251h0M378 2250h0M378 2247h0M377 2251h0M378 2247h0M371 2246h0M374 2251h0M372 2251h0M372 2252h0M375 2251h0M375 2249h0M377 2249h0M376 2250h0"/></g>
<line x1="115.6" y1="2367.5" x2="681.4" y2="1883.5" stroke="#000" stroke-width="2.4" stroke-dasharray="9.3 7.2"/>
<line x1="115.6" y1="2334.7" x2="681.4" y2="2137.2" stroke="#e8141c" stroke-width="2.6"/>
<path d="M115.6 2367.5v-5.6M115.6 1883.5v5.6M115.6 2367.5h5.6M681.4 2367.5h-5.6M257.0 2367.5v-5.6M257.0 1883.5v5.6M115.6 2246.5h5.6M681.4 2246.5h-5.6M398.5 2367.5v-5.6M398.5 1883.5v5.6M115.6 2125.5h5.6M681.4 2125.5h-5.6M539.9 2367.5v-5.6M539.9 1883.5v5.6M115.6 2004.5h5.6M681.4 2004.5h-5.6M681.4 2367.5v-5.6M681.4 1883.5v5.6M115.6 1883.5h5.6M681.4 1883.5h-5.6" stroke="#262626" stroke-width="1.3" fill="none"/>
<rect x="115.6" y="1883.5" width="565.8" height="484.0" fill="none" stroke="#3a3a3a" stroke-width="1.15"/>
<g font-size="35"><text x="115.6" y="2407.1" text-anchor="middle">0.1</text><text x="108.3" y="2378.4" text-anchor="end">0.1</text><text x="257.0" y="2407.1" text-anchor="middle">1</text><text x="108.3" y="2258.0" text-anchor="end">1</text><text x="398.5" y="2407.1" text-anchor="middle">10</text><text x="108.3" y="2137.0" text-anchor="end">10</text><text x="539.9" y="2407.1" text-anchor="middle">100</text><text x="108.3" y="2016.0" text-anchor="end">100</text><text x="681.4" y="2407.1" text-anchor="middle">1000</text><text x="108.3" y="1898.4" text-anchor="end">1000</text></g>
<g font-size="36">
<text x="135.6" y="1928.3">R<tspan font-size="24" dy="-11">2</tspan><tspan dy="11">=0.17</tspan></text>
<text x="135.6" y="1971.0">RMSE=9.4 mg m<tspan font-size="24" dy="-10.5">-3</tspan></text>
<text x="135.6" y="2013.7">MAPD=80.1%</text>
<text x="135.6" y="2056.4">Number=1546</text>
</g>
<text x="662.2" y="2347.5" font-size="40" text-anchor="end">(J)</text>
<text x="398.7" y="2466.9" font-size="35.10" text-anchor="middle"><tspan>In situ Rrs estimated CHL (mg m</tspan><tspan font-size="27.0" dy="-17.6">-3</tspan><tspan dy="17.6">)</tspan></text>
<text transform="translate(43.9 2125.5) rotate(-90)" font-size="36.00" text-anchor="middle"><tspan>POLYMER CHL (mg m</tspan><tspan font-size="27.0" dy="-17.6">-3</tspan><tspan dy="17.6">)</tspan></text>
<rect x="706.6" y="1884.0" width="27.7" height="481.8" fill="url(#jet)" stroke="#2a2a2a" stroke-width="1.2"/>
<path d="M734.3 2269.4h-5M734.3 2173.1h-5M734.3 2076.7h-5M734.3 1980.4h-5" stroke="#300" stroke-width="1.3"/>
<g font-size="35"><text x="744.3" y="2377.5">0</text><text x="744.3" y="2281.1">0.2</text><text x="744.3" y="2184.8">0.4</text><text x="744.3" y="2088.4">0.6</text><text x="744.3" y="1992.1">0.8</text><text x="744.3" y="1895.7">1</text></g>
</g>
<g id="pK">
<path d="M1091.6 1883.5V2366.7M906.2 2205.6H1462.3M1276.9 1883.5V2366.7M906.2 2044.6H1462.3" stroke="#e3e3e3" stroke-width="1.2" fill="none"/>
<g fill="none" stroke-width="5.0" stroke-linecap="round"><path stroke="#00008a" d="M1093 2035h0M1361 2034h0M1357 2073h0M978 2352h0M1274 2352h0"/><path stroke="#00009f" d="M1397 2219h0M1393 2254h0M938 2219h0M1310 2071h0M1418 2138h0M1064 2356h0M1026 2171h0M954 2218h0M1359 2240h0M1328 2301h0M1140 2076h0M1094 2092h0M1374 2283h0M1372 2281h0M1005 2330h0M983 2305h0"/><path stroke="#0000b5" d="M987 2222h0M1373 2202h0M1256 2060h0M1380 2177h0M1159 2072h0M1372 2131h0M1054 2155h0M1393 2144h0M994 2300h0M1070 2124h0M1392 2145h0M1157 2097h0M1001 2220h0M1101 2110h0M1026 2318h0"/><path stroke="#0000ca" d="M1007 2272h0M1053 2329h0M1232 2091h0M1278 2071h0M1012 2219h0M1189 2074h0M1199 2353h0M1097 2122h0M1366 2160h0M1087 2124h0M1309 2289h0M1264 2079h0M1295 2103h0M1221 2091h0M1182 2081h0M1204 2348h0M1264 2086h0M1129 2358h0M1084 2135h0M1191 2080h0M1327 2256h0M1016 2295h0"/><path stroke="#0000df" d="M1280 2088h0M1277 2091h0M1166 2115h0M1216 2335h0M1355 2178h0M1346 2197h0M1346 2132h0M1292 2298h0M1024 2298h0M1110 2354h0M1258 2322h0M1171 2350h0M1318 2264h0M1284 2112h0M1199 2095h0"/><path stroke="#0000f4" d="M1128 2352h0M1214 2102h0M1343 2136h0M1190 2102h0M1348 2156h0M1023 2249h0M1240 2115h0M1035 2215h0M1029 2231h0M1324 2127h0M1072 2170h0M1123 2144h0M1087 2160h0M1055 2312h0"/><path stroke="#000bff" d="M1042 2208h0M1061 2180h0M1094 2157h0M1338 2179h0M1275 2301h0M1238 2318h0M1337 2174h0M1330 2217h0M1247 2316h0M1101 2158h0"/><path stroke="#0020ff" d="M1290 2283h0M1333 2180h0M1330 2143h0M1029 2262h0M1080 2323h0M1199 2113h0M1320 2137h0M1330 2148h0M1052 2205h0M1060 2191h0M1321 2140h0M1237 2314h0M1280 2127h0M1041 2236h0M1128 2153h0M1324 2146h0M1263 2304h0M1316 2140h0M1126 2154h0M1296 2134h0M1059 2198h0M1118 2157h0M1307 2139h0M1062 2195h0"/><path stroke="#0035ff" d="M1139 2152h0M1200 2119h0M1298 2138h0M1297 2267h0M1041 2285h0M1064 2201h0M1162 2335h0M1315 2232h0M1037 2262h0M1084 2183h0M1094 2326h0M1075 2192h0M1038 2263h0M1318 2160h0"/><path stroke="#004aff" d="M1100 2331h0M1089 2320h0M1140 2157h0M1057 2296h0M1298 2262h0M1071 2199h0M1068 2204h0M1198 2123h0M1102 2173h0M1060 2224h0M1161 2145h0M1320 2214h0M1085 2313h0M1319 2219h0M1052 2236h0M1040 2271h0M1279 2135h0M1215 2311h0M1059 2227h0M1056 2232h0M1265 2295h0M1166 2143h0M1304 2250h0M1041 2270h0M1317 2168h0M1090 2185h0M1117 2335h0M1066 2297h0M1048 2250h0M1317 2172h0M1129 2164h0M1318 2212h0M1047 2281h0M1181 2135h0M1066 2224h0"/><path stroke="#0060ff" d="M1114 2172h0M1062 2292h0M1095 2319h0M1186 2325h0M1192 2321h0M1057 2241h0M1175 2328h0M1071 2295h0M1276 2138h0M1138 2331h0M1256 2297h0M1067 2292h0M1169 2328h0M1190 2132h0M1080 2210h0M1108 2178h0M1315 2211h0M1050 2258h0M1303 2242h0M1262 2136h0M1088 2199h0M1096 2190h0M1055 2282h0M1088 2200h0M1056 2282h0M1076 2294h0"/><path stroke="#0075ff" d="M1051 2275h0M1051 2275h0M1098 2316h0M1182 2323h0M1115 2177h0M1144 2164h0M1188 2320h0M1191 2318h0M1314 2200h0M1054 2276h0M1104 2322h0M1109 2181h0M1182 2322h0M1294 2154h0M1056 2257h0M1129 2172h0M1157 2325h0M1290 2152h0M1267 2140h0M1087 2213h0M1107 2322h0M1081 2224h0M1061 2280h0M1057 2263h0M1173 2323h0"/><path stroke="#008aff" d="M1307 2173h0M1213 2131h0M1229 2133h0M1113 2325h0M1168 2151h0M1060 2256h0M1166 2153h0M1119 2326h0M1119 2326h0M1177 2321h0M1283 2266h0M1163 2156h0M1103 2314h0M1310 2196h0M1068 2246h0M1304 2226h0M1258 2139h0M1299 2166h0M1117 2324h0M1184 2142h0M1305 2175h0M1294 2248h0M1225 2300h0M1078 2284h0M1306 2180h0M1305 2179h0M1153 2165h0"/><path stroke="#009fff" d="M1273 2146h0M1110 2189h0M1104 2312h0M1093 2215h0M1278 2149h0M1091 2220h0M1298 2234h0M1085 2285h0M1070 2252h0M1161 2160h0M1071 2249h0M1304 2180h0M1237 2296h0M1199 2138h0M1271 2273h0M1163 2319h0M1139 2322h0M1202 2137h0M1079 2279h0M1096 2292h0M1304 2213h0M1117 2319h0M1084 2235h0M1209 2137h0M1206 2137h0M1071 2269h0M1101 2207h0M1304 2213h0M1078 2243h0M1305 2208h0"/><path stroke="#00b5ff" d="M1284 2258h0M1121 2187h0M1304 2198h0M1090 2282h0M1106 2202h0M1297 2173h0M1246 2290h0M1269 2148h0M1181 2313h0M1269 2273h0M1251 2288h0M1077 2271h0M1110 2197h0M1075 2266h0M1109 2307h0M1241 2140h0M1084 2239h0M1102 2292h0M1270 2271h0M1094 2282h0M1290 2245h0M1288 2248h0M1213 2298h0M1296 2174h0M1138 2319h0M1301 2213h0M1078 2268h0M1193 2145h0M1124 2317h0"/><path stroke="#00caff" d="M1095 2227h0M1111 2201h0M1104 2291h0M1194 2145h0M1280 2158h0M1165 2313h0M1097 2280h0M1107 2208h0M1127 2188h0M1130 2186h0M1113 2200h0M1210 2141h0M1293 2175h0M1145 2315h0M1086 2245h0M1085 2268h0M1229 2292h0M1296 2221h0M1084 2265h0M1083 2257h0M1129 2188h0M1122 2313h0M1137 2315h0M1088 2244h0M1276 2158h0M1198 2146h0"/><path stroke="#00dfff" d="M1090 2270h0M1215 2294h0M1272 2155h0M1096 2274h0M1220 2142h0M1274 2157h0M1106 2218h0M1297 2190h0M1243 2287h0M1092 2269h0M1088 2264h0M1255 2279h0M1087 2255h0M1088 2261h0M1089 2263h0M1154 2311h0M1230 2143h0M1185 2153h0M1297 2193h0M1269 2266h0M1153 2310h0M1190 2151h0M1235 2144h0M1116 2204h0M1226 2143h0M1116 2300h0M1254 2279h0"/><path stroke="#00f4ff" d="M1090 2257h0M1207 2146h0M1218 2144h0M1092 2251h0M1120 2201h0M1102 2232h0M1093 2247h0M1098 2239h0M1153 2177h0M1128 2309h0M1189 2301h0M1256 2276h0M1112 2214h0M1213 2145h0M1094 2252h0M1294 2191h0M1139 2310h0M1107 2274h0M1114 2286h0M1192 2298h0M1291 2223h0M1244 2283h0M1137 2309h0M1278 2252h0M1289 2180h0M1140 2309h0M1284 2241h0M1104 2236h0M1098 2254h0M1283 2172h0"/><path stroke="#0bfff4" d="M1119 2296h0M1125 2304h0M1292 2211h0M1133 2307h0M1099 2254h0M1290 2184h0M1291 2188h0M1239 2284h0M1180 2160h0M1100 2252h0M1266 2157h0M1106 2265h0M1129 2197h0M1102 2245h0M1124 2300h0M1123 2299h0M1129 2304h0M1101 2250h0M1290 2217h0M1104 2260h0M1117 2214h0M1121 2294h0M1239 2148h0M1290 2218h0M1114 2274h0M1121 2294h0M1282 2173h0M1239 2283h0M1122 2294h0M1261 2267h0M1149 2184h0M1117 2278h0M1133 2304h0M1291 2194h0M1189 2297h0M1115 2273h0M1110 2232h0M1234 2284h0"/><path stroke="#20ffdf" d="M1105 2253h0M1147 2304h0M1188 2297h0M1115 2222h0M1121 2285h0M1133 2302h0M1153 2182h0M1213 2149h0M1134 2301h0M1109 2256h0M1114 2264h0M1177 2300h0M1129 2298h0M1117 2223h0M1155 2302h0M1252 2272h0M1109 2244h0M1138 2194h0M1122 2283h0M1109 2247h0M1183 2297h0M1240 2280h0M1182 2297h0M1120 2275h0M1122 2281h0M1126 2208h0M1153 2301h0"/><path stroke="#35ffca" d="M1111 2249h0M1285 2222h0M1127 2290h0M1287 2215h0M1113 2239h0M1233 2282h0M1260 2158h0M1116 2231h0M1127 2208h0M1255 2156h0M1275 2246h0M1132 2295h0M1267 2163h0M1139 2299h0M1148 2300h0M1149 2188h0M1138 2197h0M1119 2226h0M1141 2195h0M1171 2298h0M1215 2151h0M1114 2241h0M1169 2298h0M1287 2202h0M1132 2294h0M1162 2299h0M1187 2161h0M1116 2236h0M1116 2237h0M1122 2222h0M1129 2208h0M1177 2296h0M1117 2237h0M1212 2153h0M1133 2291h0"/><path stroke="#4affb5" d="M1208 2286h0M1241 2153h0M1126 2215h0M1175 2296h0M1272 2247h0M1138 2294h0M1248 2154h0M1132 2207h0M1250 2269h0M1182 2165h0M1191 2161h0M1196 2289h0M1207 2286h0M1285 2199h0M1119 2243h0M1284 2191h0M1143 2196h0M1126 2218h0M1124 2224h0M1142 2294h0M1209 2285h0M1128 2215h0M1186 2163h0M1271 2248h0M1279 2180h0M1151 2190h0M1145 2195h0M1263 2164h0M1129 2276h0M1278 2233h0M1124 2260h0M1122 2236h0M1133 2209h0M1140 2201h0M1237 2154h0"/><path stroke="#60ff9f" d="M1263 2255h0M1123 2256h0M1233 2278h0M1256 2262h0M1269 2248h0M1125 2259h0M1126 2263h0M1262 2256h0M1238 2275h0M1132 2280h0M1173 2293h0M1275 2239h0M1233 2277h0M1240 2155h0M1209 2283h0M1283 2201h0M1246 2269h0M1217 2281h0M1267 2249h0M1272 2241h0M1272 2242h0M1250 2265h0M1126 2257h0M1134 2212h0M1263 2253h0M1175 2292h0M1172 2292h0M1164 2293h0M1182 2168h0M1192 2163h0M1134 2213h0M1126 2240h0"/><path stroke="#75ff8a" d="M1231 2155h0M1221 2279h0M1281 2198h0M1131 2266h0M1150 2290h0M1216 2157h0M1177 2290h0M1205 2282h0M1253 2261h0M1258 2163h0M1275 2233h0M1149 2289h0M1251 2262h0M1240 2157h0M1127 2249h0M1204 2282h0M1142 2284h0M1267 2246h0M1128 2246h0M1216 2158h0M1276 2185h0M1132 2262h0M1130 2255h0M1130 2233h0M1141 2282h0M1193 2284h0M1145 2284h0M1187 2285h0M1181 2171h0M1259 2166h0"/><path stroke="#8aff75" d="M1145 2284h0M1130 2237h0M1161 2289h0M1148 2199h0M1140 2209h0M1224 2157h0M1251 2161h0M1130 2240h0M1130 2245h0M1143 2281h0M1131 2255h0M1177 2288h0M1227 2275h0M1222 2277h0M1235 2272h0M1223 2276h0M1211 2160h0M1153 2194h0M1146 2202h0M1278 2202h0M1240 2158h0M1188 2168h0M1274 2228h0M1164 2288h0M1178 2286h0M1277 2210h0M1136 2221h0M1238 2269h0M1266 2243h0M1137 2267h0M1194 2282h0M1258 2252h0M1275 2220h0"/><path stroke="#9fff60" d="M1248 2162h0M1134 2232h0M1135 2230h0M1192 2282h0M1244 2161h0M1266 2241h0M1168 2183h0M1137 2263h0M1264 2173h0M1142 2274h0M1138 2224h0M1158 2193h0M1179 2284h0M1242 2264h0M1163 2188h0M1146 2206h0M1165 2285h0M1250 2164h0M1136 2235h0M1275 2200h0M1139 2222h0M1135 2246h0M1142 2214h0M1258 2169h0M1199 2279h0M1275 2197h0M1273 2222h0M1174 2179h0M1273 2220h0M1141 2217h0M1166 2186h0M1270 2184h0M1233 2160h0"/><path stroke="#b5ff4a" d="M1259 2170h0M1150 2279h0M1239 2161h0M1263 2242h0M1274 2200h0M1271 2224h0M1252 2254h0M1160 2192h0M1263 2242h0M1272 2222h0M1220 2273h0M1167 2283h0M1271 2222h0M1234 2267h0M1170 2184h0M1241 2162h0M1181 2175h0M1267 2234h0M1152 2278h0M1273 2207h0M1149 2205h0M1149 2276h0M1204 2276h0M1138 2245h0M1152 2202h0M1179 2281h0M1142 2265h0M1140 2259h0M1176 2179h0M1273 2198h0M1227 2161h0M1267 2232h0M1140 2256h0M1169 2185h0M1269 2186h0M1139 2249h0M1172 2281h0M1209 2165h0M1184 2175h0M1269 2187h0"/><path stroke="#caff35" d="M1263 2239h0M1181 2279h0M1154 2278h0M1240 2163h0M1194 2277h0M1140 2237h0M1165 2190h0M1257 2246h0M1189 2173h0M1235 2265h0M1157 2278h0M1179 2179h0M1269 2222h0M1269 2189h0M1155 2277h0M1168 2280h0M1216 2164h0M1215 2272h0M1268 2223h0M1146 2265h0M1270 2193h0M1144 2224h0M1228 2163h0M1155 2276h0M1203 2274h0M1192 2173h0"/><path stroke="#dfff20" d="M1143 2250h0M1164 2278h0M1256 2245h0M1167 2278h0M1236 2262h0M1162 2195h0M1264 2231h0M1259 2241h0M1143 2250h0M1143 2245h0M1269 2195h0M1257 2175h0M1155 2274h0M1265 2229h0M1268 2221h0M1268 2191h0M1270 2209h0M1144 2230h0M1145 2259h0M1229 2266h0M1149 2267h0M1234 2263h0M1204 2169h0M1171 2277h0M1149 2267h0M1174 2277h0M1269 2209h0M1153 2271h0M1262 2180h0M1251 2170h0M1149 2267h0M1154 2272h0M1144 2236h0M1188 2275h0M1246 2168h0M1194 2274h0M1144 2231h0M1149 2265h0M1152 2269h0M1186 2275h0M1166 2276h0M1244 2255h0M1160 2275h0M1209 2272h0M1267 2191h0M1262 2182h0M1253 2246h0M1258 2240h0M1266 2189h0M1212 2167h0"/><path stroke="#f4ff0b" d="M1145 2243h0M1229 2265h0M1263 2184h0M1267 2195h0M1268 2207h0M1196 2273h0M1153 2209h0M1258 2178h0M1194 2173h0M1153 2209h0M1185 2178h0M1268 2205h0M1258 2178h0M1185 2179h0M1151 2215h0M1256 2239h0M1149 2259h0M1147 2248h0M1156 2206h0M1261 2183h0M1225 2166h0M1267 2203h0M1210 2169h0M1173 2187h0M1192 2272h0M1219 2268h0M1178 2273h0M1147 2239h0M1255 2240h0M1188 2272h0M1266 2198h0M1263 2187h0M1147 2243h0M1250 2246h0M1200 2173h0M1205 2270h0"/><path stroke="#fff400" d="M1260 2231h0M1152 2261h0M1162 2270h0M1150 2255h0M1175 2272h0M1262 2187h0M1166 2271h0M1259 2233h0M1153 2262h0M1235 2258h0M1231 2167h0M1151 2256h0M1245 2250h0M1159 2268h0M1149 2231h0M1208 2269h0M1166 2196h0M1177 2186h0M1184 2181h0M1181 2271h0M1168 2271h0M1226 2263h0M1153 2216h0M1239 2254h0M1240 2170h0M1240 2252h0M1208 2268h0M1263 2216h0"/><path stroke="#ffdf00" d="M1242 2171h0M1257 2232h0M1260 2187h0M1156 2260h0M1249 2242h0M1170 2269h0M1260 2187h0M1165 2268h0M1156 2212h0M1191 2178h0M1156 2260h0M1219 2265h0M1151 2240h0M1261 2192h0M1203 2174h0M1194 2268h0M1255 2181h0M1261 2217h0M1262 2195h0M1181 2185h0M1152 2242h0M1165 2266h0M1222 2263h0M1156 2257h0M1168 2197h0M1153 2222h0M1214 2265h0M1228 2259h0M1193 2178h0M1258 2187h0"/><path stroke="#ffca00" d="M1169 2266h0M1259 2189h0M1249 2177h0M1171 2194h0M1159 2259h0M1226 2170h0M1159 2259h0M1182 2186h0M1169 2265h0M1179 2188h0M1158 2257h0M1261 2213h0M1236 2172h0M1259 2221h0M1247 2176h0M1153 2236h0M1154 2242h0M1245 2176h0M1242 2246h0M1204 2175h0M1242 2174h0M1237 2173h0M1220 2172h0M1166 2262h0M1180 2265h0M1158 2214h0M1161 2209h0M1161 2258h0M1258 2221h0M1259 2196h0M1181 2187h0M1173 2195h0M1156 2222h0M1157 2250h0"/><path stroke="#ffb500" d="M1160 2256h0M1166 2261h0M1246 2241h0M1167 2262h0M1177 2264h0M1169 2262h0M1158 2216h0M1155 2228h0M1182 2264h0M1259 2199h0M1159 2213h0M1158 2249h0M1216 2262h0M1259 2210h0M1204 2264h0M1240 2175h0M1236 2174h0M1255 2189h0M1248 2180h0M1202 2263h0M1247 2180h0M1157 2223h0M1163 2255h0M1244 2241h0M1177 2193h0"/><path stroke="#ff9f00" d="M1254 2188h0M1160 2248h0M1191 2263h0M1255 2221h0M1163 2254h0M1245 2179h0M1203 2178h0M1232 2174h0M1165 2255h0M1175 2261h0M1178 2262h0M1252 2228h0M1183 2189h0M1181 2262h0M1256 2214h0M1162 2213h0M1183 2262h0M1256 2216h0M1228 2174h0M1173 2198h0M1257 2209h0M1158 2236h0M1158 2226h0M1191 2184h0M1256 2207h0M1159 2223h0M1231 2251h0M1185 2189h0M1160 2222h0M1251 2187h0M1218 2258h0M1249 2231h0M1168 2205h0M1237 2245h0M1219 2258h0"/><path stroke="#ff8a00" d="M1243 2180h0M1224 2175h0M1159 2224h0M1184 2189h0M1163 2249h0M1159 2232h0M1167 2253h0M1217 2258h0M1239 2243h0M1222 2256h0M1241 2241h0M1254 2216h0M1169 2204h0M1240 2179h0M1239 2179h0M1216 2258h0M1160 2231h0M1192 2260h0M1214 2258h0M1180 2194h0M1203 2260h0M1192 2185h0M1161 2240h0M1214 2178h0M1221 2255h0M1161 2223h0M1227 2177h0"/><path stroke="#ff7500" d="M1245 2184h0M1247 2186h0M1245 2233h0M1165 2246h0M1225 2177h0M1218 2178h0M1190 2188h0M1235 2244h0M1252 2215h0M1235 2244h0M1224 2177h0M1248 2188h0M1251 2194h0M1251 2219h0M1166 2212h0M1252 2213h0M1165 2214h0M1210 2180h0M1202 2182h0M1225 2252h0M1163 2240h0M1252 2213h0M1162 2224h0M1181 2257h0M1253 2209h0M1228 2178h0M1213 2257h0M1170 2206h0M1176 2200h0M1192 2258h0M1162 2228h0M1226 2178h0M1251 2197h0M1204 2258h0M1252 2201h0M1232 2179h0M1223 2178h0M1216 2255h0M1219 2179h0M1178 2255h0M1203 2258h0M1228 2179h0"/><path stroke="#ff6000" d="M1218 2179h0M1214 2255h0M1173 2251h0M1168 2246h0M1185 2193h0M1213 2180h0M1187 2192h0M1190 2190h0M1199 2185h0M1251 2201h0M1164 2223h0M1250 2214h0M1228 2179h0M1245 2228h0M1170 2247h0M1214 2255h0M1240 2235h0M1185 2255h0M1220 2180h0M1216 2180h0M1185 2194h0M1233 2243h0M1217 2253h0M1221 2180h0M1247 2193h0M1207 2256h0M1204 2184h0M1218 2253h0M1204 2256h0M1233 2182h0M1233 2182h0M1189 2192h0M1246 2223h0M1245 2191h0M1248 2219h0"/><path stroke="#ff4a00" d="M1211 2182h0M1247 2194h0M1165 2223h0M1175 2250h0M1225 2181h0M1195 2189h0M1248 2216h0M1233 2241h0M1166 2222h0M1194 2189h0M1165 2227h0M1207 2255h0M1176 2250h0M1219 2251h0M1247 2219h0M1209 2254h0M1170 2244h0M1200 2255h0M1213 2182h0M1244 2191h0M1193 2190h0M1194 2190h0M1213 2182h0M1232 2242h0M1174 2207h0M1199 2255h0M1178 2202h0M1167 2235h0M1226 2247h0M1241 2189h0M1231 2183h0M1166 2231h0M1243 2191h0M1168 2220h0M1168 2236h0M1225 2247h0M1244 2225h0M1224 2248h0M1223 2248h0M1236 2236h0M1247 2212h0M1169 2218h0M1212 2183h0"/><path stroke="#ff3500" d="M1238 2233h0M1170 2240h0M1172 2212h0M1180 2250h0M1247 2206h0M1191 2193h0M1189 2194h0M1191 2253h0M1186 2251h0M1244 2195h0M1205 2186h0M1185 2251h0M1194 2253h0M1240 2190h0M1198 2253h0M1229 2242h0M1246 2215h0M1246 2211h0M1245 2198h0M1178 2247h0M1238 2188h0M1198 2252h0M1235 2187h0M1174 2212h0M1211 2251h0M1229 2241h0M1171 2238h0M1239 2230h0M1176 2209h0M1170 2235h0M1199 2252h0M1202 2189h0M1172 2216h0M1239 2228h0M1169 2228h0M1243 2197h0M1180 2205h0M1177 2245h0"/><path stroke="#ff2000" d="M1176 2244h0M1199 2251h0M1241 2223h0M1175 2211h0M1170 2228h0M1171 2234h0M1239 2192h0M1178 2208h0M1213 2186h0M1171 2234h0M1218 2247h0M1173 2239h0M1185 2201h0M1178 2244h0M1240 2225h0M1216 2186h0M1229 2187h0M1227 2186h0M1174 2214h0M1230 2238h0M1241 2198h0M1206 2250h0M1240 2222h0M1243 2204h0M1224 2186h0M1237 2192h0M1190 2198h0M1194 2195h0M1206 2250h0M1191 2249h0M1236 2230h0M1176 2213h0M1178 2242h0"/><path stroke="#ff0b00" d="M1194 2195h0M1173 2235h0M1242 2215h0M1180 2207h0M1242 2205h0M1183 2245h0M1226 2240h0M1215 2247h0M1177 2212h0M1238 2226h0M1199 2249h0M1177 2240h0M1239 2196h0M1192 2248h0M1199 2249h0M1242 2207h0M1220 2187h0M1217 2246h0M1234 2231h0M1176 2215h0M1217 2187h0M1174 2220h0M1240 2219h0M1240 2200h0M1181 2243h0M1222 2242h0M1239 2198h0M1207 2190h0M1185 2204h0M1215 2188h0M1211 2247h0M1178 2212h0M1178 2213h0M1177 2237h0M1198 2195h0M1240 2214h0M1195 2247h0M1203 2192h0M1174 2224h0"/><path stroke="#f40000" d="M1179 2239h0M1174 2224h0M1240 2209h0M1219 2189h0M1175 2233h0M1230 2234h0M1175 2227h0M1233 2193h0M1181 2210h0M1194 2198h0M1232 2230h0M1236 2197h0M1239 2203h0M1191 2200h0M1175 2222h0M1212 2245h0M1181 2240h0M1175 2228h0M1191 2245h0M1204 2247h0M1199 2247h0M1177 2218h0M1175 2227h0M1179 2214h0M1238 2219h0M1185 2207h0M1227 2236h0M1189 2203h0M1218 2242h0M1216 2190h0M1208 2192h0M1217 2190h0M1234 2195h0M1192 2200h0M1239 2205h0M1179 2238h0M1231 2231h0M1236 2221h0M1194 2245h0M1224 2238h0M1227 2191h0M1209 2192h0M1228 2233h0M1215 2243h0M1183 2240h0M1178 2217h0M1235 2197h0M1179 2216h0M1177 2232h0M1185 2241h0M1228 2234h0M1237 2201h0M1188 2205h0M1238 2214h0M1184 2241h0M1177 2227h0M1229 2193h0M1185 2241h0M1236 2201h0"/><path stroke="#df0000" d="M1193 2244h0M1237 2214h0M1238 2208h0M1233 2197h0M1207 2193h0M1203 2195h0M1200 2244h0M1209 2193h0M1192 2203h0M1235 2221h0M1236 2201h0M1187 2241h0M1236 2219h0M1228 2193h0M1235 2221h0M1179 2222h0M1217 2240h0M1227 2233h0M1235 2218h0M1186 2209h0M1199 2198h0M1225 2234h0M1193 2243h0M1195 2243h0M1213 2242h0M1203 2196h0M1233 2223h0M1179 2231h0M1215 2193h0M1231 2196h0M1179 2229h0M1211 2242h0M1230 2227h0M1204 2243h0M1197 2243h0M1232 2224h0M1180 2219h0M1192 2242h0M1226 2232h0M1208 2242h0M1230 2196h0M1192 2204h0M1210 2242h0M1194 2203h0M1194 2242h0M1213 2241h0M1186 2211h0M1205 2242h0M1225 2194h0"/><path stroke="#ca0000" d="M1211 2194h0M1225 2233h0M1220 2193h0M1182 2218h0M1192 2205h0M1181 2220h0M1186 2212h0M1215 2239h0M1189 2209h0M1183 2234h0M1221 2194h0M1234 2204h0M1206 2197h0M1204 2242h0M1181 2229h0M1228 2228h0M1225 2232h0M1230 2198h0M1215 2194h0M1214 2195h0M1182 2230h0M1181 2225h0M1213 2195h0M1205 2198h0M1212 2195h0M1181 2228h0M1189 2238h0M1224 2195h0M1234 2211h0M1209 2240h0M1182 2229h0M1233 2206h0M1226 2229h0M1208 2197h0M1183 2231h0M1206 2240h0M1186 2235h0M1182 2225h0M1183 2229h0M1184 2232h0M1183 2223h0M1191 2237h0M1233 2212h0M1196 2239h0M1191 2237h0M1184 2221h0M1184 2221h0M1232 2215h0"/><path stroke="#b50000" d="M1210 2238h0M1218 2234h0M1224 2230h0M1194 2207h0M1193 2237h0M1232 2207h0M1206 2239h0M1218 2234h0M1206 2199h0M1209 2238h0M1201 2239h0M1203 2201h0M1214 2197h0M1184 2224h0M1227 2200h0M1185 2222h0M1216 2235h0M1231 2212h0M1222 2198h0M1212 2198h0M1222 2198h0M1231 2209h0M1230 2217h0M1220 2232h0M1189 2214h0M1203 2238h0M1186 2230h0M1222 2198h0M1228 2223h0M1193 2236h0M1227 2202h0M1201 2203h0M1187 2230h0M1186 2229h0M1222 2198h0M1194 2209h0M1186 2225h0M1229 2219h0M1191 2213h0M1194 2236h0M1196 2207h0M1207 2237h0M1219 2198h0M1226 2224h0M1229 2206h0M1211 2236h0M1216 2233h0M1193 2235h0M1221 2199h0M1213 2235h0M1195 2235h0M1188 2230h0M1224 2226h0M1225 2224h0M1207 2236h0M1212 2234h0M1187 2224h0M1220 2229h0M1210 2235h0M1228 2208h0M1213 2200h0M1217 2232h0M1203 2204h0"/><path stroke="#9f0000" d="M1189 2219h0M1204 2204h0M1227 2206h0M1196 2211h0M1189 2224h0M1220 2228h0M1203 2205h0M1224 2204h0M1209 2202h0M1192 2216h0M1221 2226h0M1192 2217h0M1199 2209h0M1225 2206h0M1191 2223h0M1208 2204h0M1206 2233h0M1224 2205h0M1193 2228h0M1218 2228h0M1207 2232h0M1220 2203h0M1197 2231h0M1224 2219h0M1193 2224h0M1215 2203h0M1222 2205h0M1222 2222h0M1225 2216h0M1222 2206h0M1194 2219h0M1219 2225h0M1202 2231h0M1224 2216h0M1196 2215h0M1198 2213h0M1223 2219h0M1197 2229h0M1214 2228h0"/><path stroke="#8a0000" d="M1197 2228h0M1213 2204h0M1204 2230h0M1203 2210h0M1199 2214h0M1222 2219h0M1199 2228h0M1204 2209h0M1207 2230h0M1221 2220h0M1222 2219h0M1223 2214h0M1219 2206h0M1205 2209h0M1222 2217h0M1197 2218h0M1204 2210h0M1214 2206h0M1219 2222h0M1206 2209h0M1218 2223h0M1198 2220h0M1197 2223h0M1198 2218h0M1205 2228h0M1221 2216h0M1220 2219h0M1214 2225h0M1221 2213h0M1203 2226h0M1219 2209h0M1219 2209h0M1208 2209h0M1212 2208h0M1201 2218h0M1205 2212h0M1208 2210h0M1203 2225h0M1216 2209h0M1217 2209h0M1206 2212h0M1217 2210h0M1217 2220h0M1219 2213h0M1216 2210h0M1213 2210h0M1205 2214h0M1205 2215h0M1212 2222h0M1207 2214h0M1206 2215h0M1208 2214h0M1215 2212h0M1214 2214h0M1210 2216h0M1208 2219h0M1208 2219h0M1216 2215h0M1211 2214h0M1208 2219h0M1208 2216h0"/></g>
<line x1="906.2" y1="2366.7" x2="1462.3" y2="1883.5" stroke="#000" stroke-width="2.4" stroke-dasharray="9.3 7.2"/>
<line x1="906.2" y1="2312.0" x2="1462.3" y2="2135.5" stroke="#e8141c" stroke-width="2.6"/>
<path d="M906.2 2366.7v-5.6M906.2 1883.5v5.6M906.2 2366.7h5.6M1462.3 2366.7h-5.6M1091.6 2366.7v-5.6M1091.6 1883.5v5.6M906.2 2205.6h5.6M1462.3 2205.6h-5.6M1276.9 2366.7v-5.6M1276.9 1883.5v5.6M906.2 2044.6h5.6M1462.3 2044.6h-5.6M1462.3 2366.7v-5.6M1462.3 1883.5v5.6M906.2 1883.5h5.6M1462.3 1883.5h-5.6" stroke="#262626" stroke-width="1.3" fill="none"/>
<rect x="906.2" y="1883.5" width="556.1" height="483.2" fill="none" stroke="#3a3a3a" stroke-width="1.15"/>
<g font-size="35"><text x="906.2" y="2408.2" text-anchor="middle">0.01</text><text x="897.8" y="2374.8" text-anchor="end">0.01</text><text x="1091.6" y="2408.2" text-anchor="middle">0.1</text><text x="897.8" y="2217.1" text-anchor="end">0.1</text><text x="1276.9" y="2408.2" text-anchor="middle">1</text><text x="897.8" y="2056.1" text-anchor="end">1</text><text x="1462.3" y="2408.2" text-anchor="middle">10</text><text x="897.8" y="1900.5" text-anchor="end">10</text></g>
<g font-size="36">
<text x="927.1" y="1928.3">R<tspan font-size="24" dy="-11">2</tspan><tspan dy="11">=0.18</tspan></text>
<text x="927.1" y="1971.0">RMSE=1.5 m<tspan font-size="24" dy="-10.5">-1</tspan></text>
<text x="927.1" y="2013.7">MAPD=83.7%</text>
<text x="927.1" y="2056.4">Number=1546</text>
</g>
<text x="1449.4" y="2349.6" font-size="40" text-anchor="end">(K)</text>
<text x="1183.0" y="2471.4" font-size="37.20" text-anchor="middle"><tspan>In situ Rrs estimated Kd(490) (m</tspan><tspan font-size="28.6" dy="-18.6">-1</tspan><tspan dy="18.6">)</tspan></text>
<text transform="translate(847.0 2125.1) rotate(-90)" font-size="37.00" text-anchor="middle"><tspan>POLYMER Kd(490) (m</tspan><tspan font-size="27.8" dy="-18.1">-1</tspan><tspan dy="18.1">)</tspan></text>
<rect x="1487.9" y="1883.5" width="29.0" height="483.2" fill="url(#jet)" stroke="#2a2a2a" stroke-width="1.2"/>
<path d="M1516.9 2270.1h-5M1516.9 2173.4h-5M1516.9 2076.8h-5M1516.9 1980.1h-5" stroke="#300" stroke-width="1.3"/>
<g font-size="35"><text x="1526.9" y="2378.4">0</text><text x="1526.9" y="2281.8">0.2</text><text x="1526.9" y="2185.1">0.4</text><text x="1526.9" y="2088.5">0.6</text><text x="1526.9" y="1991.8">0.8</text><text x="1526.9" y="1895.2">1</text></g>
</g>
<g id="pL">
<path d="M1887.4 1882.6V2366.7M1706.3 2205.3H2249.6M2068.5 1882.6V2366.7M1706.3 2044.0H2249.6" stroke="#e3e3e3" stroke-width="1.2" fill="none"/>
<g fill="none" stroke-width="5.0" stroke-linecap="round"><path stroke="#00008a" d="M2189 2015h0M1909 2308h0M2060 2002h0M1761 2157h0M2131 1987h0M1782 2244h0"/><path stroke="#00009f" d="M1774 2195h0M1802 2206h0"/><path stroke="#0000b5" d="M1858 2292h0M1918 2042h0M1807 2161h0M1927 2048h0M1888 2074h0M1826 2112h0"/><path stroke="#0000ca" d="M1997 2029h0M1829 2118h0M2186 2080h0M1924 2084h0M1861 2096h0M2019 2027h0M1829 2273h0"/><path stroke="#0000df" d="M1830 2237h0M2117 2024h0M2185 2134h0M2181 2093h0M2181 2137h0M1840 2269h0"/><path stroke="#0000f4" d="M1989 2279h0M1839 2261h0M2126 2033h0M1963 2279h0M2129 2229h0M1935 2270h0M2015 2041h0M2000 2270h0"/><path stroke="#000bff" d="M2090 2239h0M1864 2262h0M1826 2174h0M2052 2251h0M1976 2071h0M1971 2271h0M1864 2116h0M2153 2066h0M2087 2043h0"/><path stroke="#0020ff" d="M2156 2186h0M1969 2266h0M2153 2189h0M2019 2258h0M2157 2171h0M1986 2070h0M2163 2146h0M2142 2200h0M2005 2258h0M2009 2062h0M2153 2182h0M2062 2053h0"/><path stroke="#0035ff" d="M2124 2051h0M2020 2254h0M1990 2074h0M1979 2081h0M1843 2160h0M2042 2056h0M2125 2214h0M2023 2061h0M2110 2223h0M1902 2105h0"/><path stroke="#004aff" d="M2160 2126h0M2159 2094h0M2017 2065h0M1897 2107h0M2117 2053h0M1886 2111h0M2121 2214h0M1957 2101h0M2148 2078h0M2155 2090h0M1964 2253h0M1872 2130h0"/><path stroke="#0060ff" d="M1860 2150h0M1926 2115h0M1843 2178h0M2032 2064h0M2121 2061h0M2134 2192h0M1890 2115h0M2146 2081h0M1984 2088h0M2106 2055h0M1910 2116h0M1903 2114h0"/><path stroke="#0075ff" d="M2097 2055h0M1968 2247h0M2040 2066h0M2051 2236h0M2076 2226h0M1850 2174h0M1850 2173h0"/><path stroke="#008aff" d="M1877 2137h0M1850 2180h0M2137 2080h0M1851 2181h0M2076 2224h0M1856 2223h0M1910 2123h0M1854 2196h0M1877 2142h0M1937 2123h0M2107 2208h0M2143 2091h0M2071 2225h0M2109 2206h0"/><path stroke="#009fff" d="M1858 2226h0M1862 2164h0M2015 2238h0M2086 2062h0M1943 2122h0M1891 2132h0M1896 2129h0M1892 2132h0M2146 2142h0M2095 2209h0"/><path stroke="#00b5ff" d="M1858 2180h0M2136 2088h0M2126 2180h0M1969 2108h0M2139 2155h0M2055 2226h0M2141 2100h0M2142 2147h0M2106 2200h0M2123 2181h0"/><path stroke="#00caff" d="M1918 2134h0M2023 2233h0M1861 2184h0M1860 2196h0M1890 2142h0M2004 2234h0M1868 2167h0M2043 2228h0M1966 2112h0M1874 2160h0M1872 2239h0M2138 2098h0M2112 2073h0M1997 2232h0M1886 2148h0M2143 2133h0"/><path stroke="#00dfff" d="M1902 2139h0M2038 2227h0M1946 2245h0M2107 2194h0M2022 2230h0M1917 2139h0M2057 2221h0M1935 2136h0M1867 2230h0M1966 2115h0M1872 2235h0M1953 2126h0"/><path stroke="#00f4ff" d="M1980 2230h0M2081 2071h0M2084 2204h0M2001 2098h0M2128 2164h0M1866 2222h0M2086 2071h0M2102 2073h0M2079 2206h0M1983 2229h0M1995 2101h0M1919 2142h0M2094 2198h0M2107 2075h0M2104 2192h0M1866 2219h0"/><path stroke="#0bfff4" d="M2131 2156h0M2056 2217h0M1904 2145h0M2001 2100h0M2138 2129h0M1874 2172h0M1894 2152h0M2089 2073h0M2136 2114h0M2101 2191h0M1948 2135h0"/><path stroke="#20ffdf" d="M2064 2211h0M2048 2081h0M2066 2209h0M1902 2149h0M1877 2172h0M2137 2121h0M2026 2090h0M2102 2187h0M2050 2081h0M2135 2135h0M2102 2187h0M1943 2142h0M2130 2104h0M2055 2080h0M1871 2223h0"/><path stroke="#35ffca" d="M1879 2171h0M2099 2078h0M1973 2226h0M2120 2091h0M2048 2083h0M1872 2224h0M2010 2100h0M2115 2171h0M2091 2190h0M2119 2164h0M1970 2123h0M1966 2226h0"/><path stroke="#4affb5" d="M2082 2078h0M1991 2221h0M1961 2132h0M1901 2155h0M2059 2208h0M2040 2216h0M1937 2240h0M1974 2121h0M2114 2088h0M2005 2221h0M2105 2179h0M2007 2221h0M1932 2150h0M2075 2197h0M2051 2211h0M2016 2099h0M2054 2209h0M1917 2152h0M2017 2220h0M2022 2096h0"/><path stroke="#60ff9f" d="M1884 2234h0M1937 2239h0M2091 2187h0M2007 2220h0M1949 2145h0M2077 2194h0M2026 2217h0M1964 2133h0M2026 2095h0M1956 2141h0M1891 2165h0M2130 2119h0M1879 2227h0M2115 2164h0M1880 2228h0"/><path stroke="#75ff8a" d="M2004 2218h0M2031 2094h0M1968 2132h0M2057 2203h0M1991 2216h0M1961 2224h0M2084 2082h0M1980 2123h0M2116 2160h0M1921 2156h0M1948 2150h0M1907 2159h0M2045 2090h0"/><path stroke="#8aff75" d="M1884 2229h0M2072 2084h0M1889 2233h0M2114 2095h0M2044 2208h0M1996 2114h0M2084 2083h0M2024 2214h0M2107 2169h0M2119 2101h0M1894 2235h0M1894 2235h0M1953 2149h0M1966 2220h0M1968 2219h0M1889 2172h0M1967 2138h0M1984 2122h0M1980 2125h0M1982 2124h0M1917 2159h0M2125 2139h0"/><path stroke="#9fff60" d="M1978 2128h0M1879 2190h0M1892 2233h0M2111 2095h0M1972 2216h0M2038 2208h0M1942 2156h0M2052 2089h0M2055 2200h0M1974 2215h0M1893 2233h0M2104 2091h0M2109 2094h0M1932 2158h0M1902 2236h0M2089 2085h0M2125 2136h0M1905 2163h0M2107 2165h0M1895 2169h0M2115 2155h0M2093 2177h0M1881 2188h0M2114 2156h0M1964 2145h0M1882 2221h0M1893 2232h0M1899 2167h0"/><path stroke="#b5ff4a" d="M2055 2090h0M1952 2155h0M2098 2172h0M1964 2146h0M2004 2114h0M2029 2100h0M2018 2211h0M2028 2208h0M2022 2104h0M1916 2237h0M2001 2116h0M1995 2210h0M1883 2221h0M2035 2206h0M2007 2211h0M2117 2105h0M1987 2125h0M1938 2232h0M1974 2137h0M2107 2095h0M2104 2093h0M2112 2100h0M2123 2121h0M1935 2161h0M2124 2126h0M1961 2152h0"/><path stroke="#caff35" d="M1880 2202h0M1944 2161h0M1944 2161h0M1899 2233h0M2092 2089h0M2013 2209h0M2074 2088h0M2045 2200h0M1900 2233h0M1939 2230h0M1983 2130h0M2055 2195h0M1911 2165h0M2121 2136h0M2061 2191h0M2107 2159h0M1997 2208h0M1957 2158h0M1995 2122h0M1922 2164h0M1971 2144h0M2121 2120h0M1948 2162h0M1937 2230h0M2027 2205h0M2117 2144h0"/><path stroke="#dfff20" d="M2063 2190h0M1960 2215h0M1909 2166h0M2000 2207h0M2092 2091h0M2002 2118h0M2116 2144h0M1937 2230h0M1957 2217h0M1971 2209h0M2046 2198h0M2056 2193h0M2085 2176h0M2110 2153h0M1917 2165h0M2010 2207h0M2120 2135h0M2014 2206h0M1895 2228h0M2037 2100h0M1886 2189h0M1988 2129h0M1996 2205h0M2120 2121h0M1982 2135h0M1883 2199h0M2014 2206h0M2110 2103h0M1911 2233h0M1938 2228h0M1934 2166h0M1917 2233h0M2081 2178h0"/><path stroke="#f4ff0b" d="M1991 2204h0M1961 2161h0M1998 2123h0M1970 2151h0M2119 2122h0M1946 2166h0M1985 2133h0M2062 2093h0M1917 2167h0M1987 2133h0M1928 2231h0M1929 2231h0M2054 2191h0M1998 2204h0M2025 2202h0M2054 2096h0M1886 2216h0M1971 2205h0M1985 2202h0M1886 2214h0M1935 2228h0M2008 2118h0M1955 2214h0M2118 2124h0M2118 2125h0M1995 2127h0M2106 2155h0M2033 2199h0M1965 2161h0M1886 2193h0M2033 2104h0M2115 2141h0M1891 2184h0"/><path stroke="#fff400" d="M2059 2188h0M2088 2093h0M2035 2198h0M1885 2209h0M1900 2229h0M1951 2168h0M1953 2215h0M2007 2120h0M2087 2171h0M2098 2162h0M1954 2168h0M1941 2169h0M2113 2112h0M1956 2212h0M1967 2205h0M2107 2152h0M2115 2116h0M2064 2094h0M2094 2166h0M1886 2207h0M1886 2199h0M1942 2223h0M1949 2217h0M2041 2102h0M1887 2211h0M2028 2199h0M2116 2126h0M2074 2178h0M2006 2121h0M1959 2169h0M2040 2103h0M1966 2165h0M1962 2168h0M1967 2203h0M2080 2093h0M2012 2201h0M2020 2113h0M1913 2231h0M2095 2164h0"/><path stroke="#ffdf00" d="M2053 2188h0M2104 2154h0M1972 2158h0M1990 2135h0M2100 2100h0M1964 2204h0M2044 2192h0M1993 2199h0M2115 2125h0M2102 2101h0M2115 2124h0M1890 2190h0M1985 2141h0M1888 2198h0M1978 2150h0M2042 2103h0M2107 2106h0M2013 2200h0M1917 2230h0M1972 2198h0M1919 2171h0M1985 2142h0M2029 2197h0M2087 2168h0M1975 2197h0M2066 2096h0M1987 2197h0M1888 2197h0M1969 2198h0M1956 2174h0M1912 2173h0M2103 2152h0M1989 2196h0M2114 2129h0M1901 2178h0M2110 2143h0"/><path stroke="#ffca00" d="M2086 2168h0M2042 2191h0M1984 2195h0M1974 2195h0M1963 2174h0M2034 2194h0M1998 2130h0M2027 2196h0M1980 2194h0M1971 2195h0M1975 2193h0M2013 2197h0M1962 2200h0M2080 2172h0M1938 2174h0M2004 2126h0M1972 2169h0M1967 2196h0M1912 2174h0M1942 2175h0M1889 2203h0M1982 2151h0M1913 2228h0M1889 2203h0M1942 2175h0M2063 2098h0M1892 2190h0M1934 2174h0M1897 2183h0M1989 2193h0M1976 2163h0M1904 2226h0M1967 2193h0M2081 2096h0M1977 2191h0M1899 2182h0M1941 2175h0M1893 2216h0M1976 2190h0M2112 2132h0M1961 2180h0"/><path stroke="#ffb500" d="M2110 2137h0M2111 2120h0M2107 2111h0M2066 2178h0M1899 2222h0M1990 2141h0M2002 2129h0M1957 2202h0M1964 2193h0M1971 2177h0M2079 2171h0M1972 2176h0M1970 2181h0M2014 2195h0M2111 2120h0M1968 2186h0M1969 2184h0M1983 2153h0M1908 2177h0M1989 2143h0M1965 2186h0M1965 2186h0M1903 2224h0M1893 2215h0M1984 2152h0M1958 2183h0M2009 2195h0M2072 2098h0M1975 2176h0M1979 2164h0M1975 2182h0M1992 2191h0M1954 2182h0M2092 2159h0M2016 2194h0M1956 2199h0M1928 2225h0M1896 2187h0M2110 2124h0M2003 2193h0M2035 2190h0M2040 2107h0M1982 2159h0M2003 2193h0M1981 2186h0M2094 2102h0M1949 2181h0M2062 2179h0M2016 2120h0M1985 2153h0M1979 2182h0"/><path stroke="#ff9f00" d="M1892 2196h0M2090 2161h0M1954 2201h0M2003 2192h0M2102 2147h0M1993 2189h0M1982 2161h0M1943 2215h0M1980 2170h0M2009 2126h0M2069 2174h0M2109 2122h0M2044 2106h0M1956 2193h0M1892 2206h0M2091 2102h0M2013 2192h0M2077 2170h0M1911 2178h0M2109 2128h0M1955 2190h0M1991 2186h0M1942 2215h0M1894 2196h0M2103 2111h0M1954 2191h0M1893 2206h0M2088 2101h0M2032 2189h0M1897 2189h0M1933 2178h0M1906 2180h0M1924 2225h0M2011 2192h0M1997 2189h0M2034 2188h0M1986 2155h0M2102 2111h0M1932 2178h0M1905 2223h0M1992 2145h0M1952 2188h0M2100 2109h0M1950 2204h0M1988 2152h0M2019 2191h0M1920 2177h0M2089 2160h0M1904 2182h0M1936 2219h0M1893 2203h0"/><path stroke="#ff8a00" d="M1984 2176h0M2009 2128h0M1985 2178h0M2050 2105h0M2046 2107h0M2016 2122h0M2058 2178h0M2070 2172h0M1948 2186h0M1910 2224h0M2050 2106h0M2011 2190h0M2038 2110h0M1921 2225h0M1894 2198h0M1895 2211h0M2099 2147h0M1990 2182h0M2068 2101h0M1987 2160h0M1944 2184h0M2053 2180h0M1989 2154h0M2038 2185h0M1991 2181h0M1911 2180h0M2105 2119h0M2106 2121h0M1987 2175h0M2045 2108h0M2077 2167h0M1929 2222h0M2106 2130h0M2051 2106h0M1988 2159h0M2106 2128h0M1947 2188h0M1895 2202h0M2077 2101h0M2000 2185h0M1989 2158h0M2011 2188h0M2079 2101h0M2063 2174h0M2096 2108h0M1912 2223h0"/><path stroke="#ff7500" d="M1943 2210h0M1905 2184h0M1920 2223h0M2084 2103h0M2095 2150h0M2022 2120h0M2076 2167h0M1946 2190h0M1920 2179h0M1991 2156h0M1989 2168h0M2015 2187h0M1944 2207h0M2015 2187h0M1931 2181h0M1947 2193h0M1897 2210h0M2099 2144h0M2028 2118h0M1991 2158h0M1936 2183h0M1994 2178h0M2086 2104h0M1991 2159h0M1946 2195h0M2084 2104h0M2006 2184h0M2076 2103h0M2082 2103h0M1936 2184h0M1909 2183h0M2027 2119h0M1938 2185h0M2008 2184h0M1996 2177h0M2049 2178h0M2068 2103h0M2058 2175h0M1992 2166h0M2068 2103h0M2089 2106h0M1944 2191h0M2074 2103h0M2085 2105h0M2031 2183h0M1905 2186h0"/><path stroke="#ff6000" d="M2099 2114h0M2016 2185h0M1938 2186h0M2008 2133h0M2102 2135h0M1936 2214h0M1993 2167h0M2009 2133h0M1944 2195h0M2030 2118h0M2062 2172h0M1898 2204h0M2085 2105h0M1997 2151h0M1996 2174h0M1943 2195h0M2025 2121h0M1994 2162h0M2070 2104h0M2027 2183h0M2075 2165h0M1997 2174h0M2000 2145h0M1920 2221h0M2052 2176h0M1995 2161h0M2048 2110h0M1929 2183h0M1899 2197h0M2096 2145h0M2066 2170h0M1995 2167h0M2047 2111h0M2022 2183h0M2068 2169h0M2069 2105h0M1941 2205h0M2082 2105h0M2016 2182h0M2029 2181h0M1908 2186h0M1939 2209h0M1930 2185h0M2100 2134h0M2036 2116h0M2042 2178h0"/><path stroke="#ff4a00" d="M2000 2174h0M2023 2123h0M2089 2109h0M1928 2184h0M2024 2181h0M2095 2144h0M1906 2216h0M2004 2176h0M2026 2122h0M2003 2175h0M2074 2164h0M2004 2176h0M1920 2219h0M2014 2131h0M2000 2172h0M2012 2179h0M2032 2180h0M1916 2219h0M2100 2124h0M1938 2207h0M1915 2219h0M2006 2176h0M1934 2213h0M1999 2166h0M1916 2185h0M2099 2133h0M1930 2215h0M2086 2109h0M1904 2212h0M1934 2212h0M1928 2216h0M1911 2217h0M1936 2208h0M2039 2116h0M2094 2116h0M1935 2210h0"/><path stroke="#ff3500" d="M1905 2193h0M2099 2127h0M2024 2125h0M2044 2115h0M1907 2191h0M2036 2177h0M2029 2178h0M2046 2174h0M2022 2178h0M2057 2170h0M2097 2131h0M2052 2172h0M2017 2177h0M2002 2159h0M1936 2195h0M2097 2123h0M2057 2170h0M2057 2110h0M1916 2217h0M1919 2217h0M2092 2144h0M2004 2150h0M2095 2138h0M2093 2141h0M2029 2177h0M2006 2170h0M2025 2126h0M1910 2189h0M2096 2123h0M2003 2161h0M2018 2131h0M2015 2175h0M2006 2147h0M1917 2187h0M2096 2131h0M1915 2188h0M1935 2196h0M2004 2154h0M2009 2143h0M2004 2157h0M2078 2157h0M1905 2198h0M2094 2136h0"/><path stroke="#ff2000" d="M1930 2212h0M1915 2215h0M2078 2157h0M2015 2173h0M2005 2155h0M1933 2207h0M1916 2188h0M2092 2118h0M1910 2191h0M1911 2213h0M2006 2164h0M2079 2155h0M2044 2172h0M2079 2110h0M1921 2189h0M1912 2190h0M2081 2111h0M1917 2215h0M2009 2167h0M2064 2165h0M2062 2111h0M1928 2211h0M1931 2208h0M2046 2171h0M1912 2191h0M1930 2209h0M2074 2110h0M2017 2134h0M2008 2165h0M1916 2190h0M1912 2213h0M1910 2212h0M2029 2174h0M2029 2125h0M2026 2174h0M2045 2117h0M2011 2143h0M2089 2143h0M2033 2123h0M2093 2124h0M2068 2162h0M1921 2190h0M2007 2154h0M2009 2147h0M1912 2212h0M1920 2214h0M1917 2190h0M1929 2194h0M1915 2213h0M2080 2153h0M2039 2172h0M2042 2119h0M2092 2135h0"/><path stroke="#ff0b00" d="M2060 2112h0M2025 2129h0M1931 2197h0M1926 2211h0M1920 2191h0M2052 2168h0M2073 2111h0M1931 2201h0M1931 2199h0M2083 2149h0M1918 2213h0M2027 2128h0M2092 2126h0M1913 2193h0M1931 2202h0M2072 2158h0M2066 2162h0M1911 2195h0M1909 2199h0M2027 2172h0M2012 2145h0M2061 2165h0M2071 2112h0M2018 2169h0M2010 2148h0M2091 2125h0M2088 2119h0M1930 2203h0M2091 2134h0M2038 2171h0M2085 2146h0M2062 2163h0M1910 2198h0M2088 2139h0M1909 2204h0M1923 2210h0M1923 2194h0M1909 2204h0M2011 2150h0M1910 2206h0M2015 2165h0M1929 2204h0M1912 2208h0M2011 2157h0M1913 2196h0M2040 2170h0M2042 2169h0M2049 2168h0M1925 2208h0M1914 2209h0M2017 2139h0M2014 2144h0M1910 2201h0"/><path stroke="#f40000" d="M2078 2114h0M2076 2153h0M1912 2207h0M1923 2209h0M2056 2116h0M1922 2195h0M2023 2169h0M2012 2150h0M1913 2207h0M2089 2125h0M2088 2138h0M2044 2168h0M1922 2195h0M1926 2206h0M2088 2122h0M2086 2141h0M2025 2168h0M2013 2158h0M2015 2162h0M2079 2115h0M2067 2114h0M2014 2159h0M1920 2196h0M2054 2165h0M2084 2119h0M1925 2203h0M2060 2116h0M2019 2139h0M2051 2165h0M1923 2205h0M2034 2168h0M1919 2197h0M2015 2146h0M1924 2202h0M1918 2206h0M2017 2143h0M2042 2123h0M2065 2115h0M2030 2168h0M1920 2199h0M1916 2200h0M1920 2199h0M1917 2204h0M2055 2164h0M2037 2125h0M2081 2118h0M2036 2167h0M2045 2122h0M2067 2115h0"/><path stroke="#df0000" d="M2016 2158h0M2085 2123h0M2022 2136h0M2073 2153h0M2031 2167h0M2015 2153h0M2054 2119h0M2016 2150h0M2016 2152h0M2028 2165h0M2057 2162h0M2022 2138h0M2084 2123h0M2080 2145h0M2027 2134h0M2083 2140h0M2076 2149h0M2057 2119h0M2076 2118h0M2063 2117h0M2076 2148h0M2065 2117h0M2071 2153h0M2052 2121h0M2069 2117h0M2084 2135h0M2080 2121h0M2034 2130h0M2084 2127h0M2083 2126h0"/><path stroke="#ca0000" d="M2074 2149h0M2079 2143h0M2067 2118h0M2081 2139h0M2065 2155h0M2023 2140h0M2028 2162h0M2037 2129h0M2021 2146h0M2082 2128h0M2024 2141h0M2037 2130h0M2079 2123h0M2063 2120h0M2035 2162h0M2040 2128h0M2021 2148h0M2026 2138h0M2074 2148h0M2082 2133h0M2053 2159h0M2024 2157h0M2072 2120h0M2072 2120h0M2026 2140h0M2033 2133h0M2069 2120h0M2035 2132h0M2026 2140h0M2033 2161h0M2024 2144h0M2063 2155h0M2028 2159h0M2044 2128h0"/><path stroke="#b50000" d="M2075 2145h0M2041 2129h0M2032 2159h0M2032 2136h0M2066 2152h0M2028 2140h0M2025 2145h0M2027 2155h0M2057 2156h0M2030 2158h0M2025 2147h0M2035 2159h0M2025 2148h0M2026 2154h0M2062 2154h0M2079 2131h0M2046 2159h0M2075 2125h0M2045 2159h0M2075 2142h0M2077 2139h0M2038 2133h0M2034 2136h0M2028 2153h0M2039 2158h0M2031 2139h0M2061 2124h0M2072 2144h0M2032 2156h0M2027 2147h0M2028 2152h0M2061 2152h0M2070 2146h0M2059 2153h0M2030 2154h0M2032 2155h0"/><path stroke="#9f0000" d="M2045 2157h0M2042 2132h0M2075 2130h0M2051 2128h0M2072 2126h0M2040 2133h0M2052 2155h0M2033 2140h0M2032 2141h0M2050 2129h0M2037 2155h0M2073 2129h0M2054 2127h0M2037 2136h0M2044 2156h0M2048 2155h0M2030 2145h0M2051 2129h0M2059 2126h0M2060 2151h0M2073 2131h0M2031 2148h0M2059 2151h0M2065 2126h0M2072 2131h0M2050 2130h0M2066 2127h0M2039 2154h0M2039 2137h0M2071 2130h0M2049 2131h0M2071 2140h0M2040 2153h0M2063 2148h0M2059 2128h0M2060 2149h0M2037 2141h0M2037 2151h0M2043 2153h0M2052 2152h0M2069 2141h0"/><path stroke="#8a0000" d="M2043 2152h0M2041 2152h0M2036 2143h0M2062 2129h0M2061 2129h0M2064 2129h0M2048 2134h0M2064 2145h0M2055 2150h0M2064 2130h0M2064 2144h0M2045 2150h0M2052 2133h0M2065 2143h0M2041 2149h0M2064 2142h0M2067 2137h0M2057 2146h0M2066 2137h0M2065 2134h0M2050 2136h0M2058 2133h0M2043 2145h0M2062 2133h0M2064 2139h0M2064 2135h0M2060 2134h0M2045 2145h0M2045 2142h0M2059 2134h0M2057 2144h0M2062 2139h0M2062 2138h0M2052 2145h0M2061 2138h0M2055 2141h0M2048 2142h0M2058 2141h0M2058 2138h0M2049 2143h0M2061 2140h0"/></g>
<line x1="1706.3" y1="2366.7" x2="2249.6" y2="1882.6" stroke="#000" stroke-width="2.4" stroke-dasharray="9.3 7.2"/>
<line x1="1706.3" y1="2238.7" x2="2249.6" y2="2088.6" stroke="#e8141c" stroke-width="2.6"/>
<path d="M1706.3 2366.7v-5.6M1706.3 1882.6v5.6M1706.3 2366.7h5.6M2249.6 2366.7h-5.6M1887.4 2366.7v-5.6M1887.4 1882.6v5.6M1706.3 2205.3h5.6M2249.6 2205.3h-5.6M2068.5 2366.7v-5.6M2068.5 1882.6v5.6M1706.3 2044.0h5.6M2249.6 2044.0h-5.6M2249.6 2366.7v-5.6M2249.6 1882.6v5.6M1706.3 1882.6h5.6M2249.6 1882.6h-5.6" stroke="#262626" stroke-width="1.3" fill="none"/>
<rect x="1706.3" y="1882.6" width="543.3" height="484.1" fill="none" stroke="#3a3a3a" stroke-width="1.15"/>
<g font-size="35"><text x="1706.3" y="2409.5" text-anchor="middle">0.001</text><text x="1699.6" y="2375.1" text-anchor="end">0.001</text><text x="1887.4" y="2409.5" text-anchor="middle">0.01</text><text x="1699.6" y="2216.8" text-anchor="end">0.01</text><text x="2068.5" y="2409.5" text-anchor="middle">0.1</text><text x="1699.6" y="2055.5" text-anchor="end">0.1</text><text x="2249.6" y="2409.5" text-anchor="middle">1</text><text x="1699.6" y="1901.6" text-anchor="end">1</text></g>
<g font-size="36">
<text x="1725.0" y="1925.3">R<tspan font-size="24" dy="-11">2</tspan><tspan dy="11">=0.20</tspan></text>
<text x="1725.0" y="1968.0">RMSE=0.17 m<tspan font-size="24" dy="-10.5">-1</tspan></text>
<text x="1725.0" y="2010.7">MAPD=164.5%</text>
<text x="1725.0" y="2053.4">Number=1207</text>
</g>
<text x="2238.8" y="2346.6" font-size="40" text-anchor="end">(L)</text>
<text x="1977.6" y="2469.0" font-size="36.60" text-anchor="middle"><tspan>In situ Rrs estimated a</tspan><tspan font-size="28.2" dy="17.9">dg</tspan><tspan dy="-17.9">(443) (m</tspan><tspan font-size="28.2" dy="-18.3">-1</tspan><tspan dy="18.3">)</tspan></text>
<text transform="translate(1632.1 2124.6) rotate(-90)" font-size="36.60" text-anchor="middle"><tspan>POLYMER a</tspan><tspan font-size="27.5" dy="17.6">dg</tspan><tspan dy="-17.6">(443) (m</tspan><tspan font-size="27.5" dy="-17.9">-1</tspan><tspan dy="17.9">)</tspan></text>
<rect x="2273.9" y="1884.3" width="29.0" height="484.5" fill="url(#jet)" stroke="#2a2a2a" stroke-width="1.2"/>
<path d="M2302.9 2271.9h-5M2302.9 2175.0h-5M2302.9 2078.1h-5M2302.9 1981.2h-5" stroke="#300" stroke-width="1.3"/>
<g font-size="35"><text x="2312.9" y="2380.5">0</text><text x="2312.9" y="2283.6">0.2</text><text x="2312.9" y="2186.7">0.4</text><text x="2312.9" y="2089.8">0.6</text><text x="2312.9" y="1992.9">0.8</text><text x="2312.9" y="1896.0">1</text></g>
</g>
</svg></body></html>
